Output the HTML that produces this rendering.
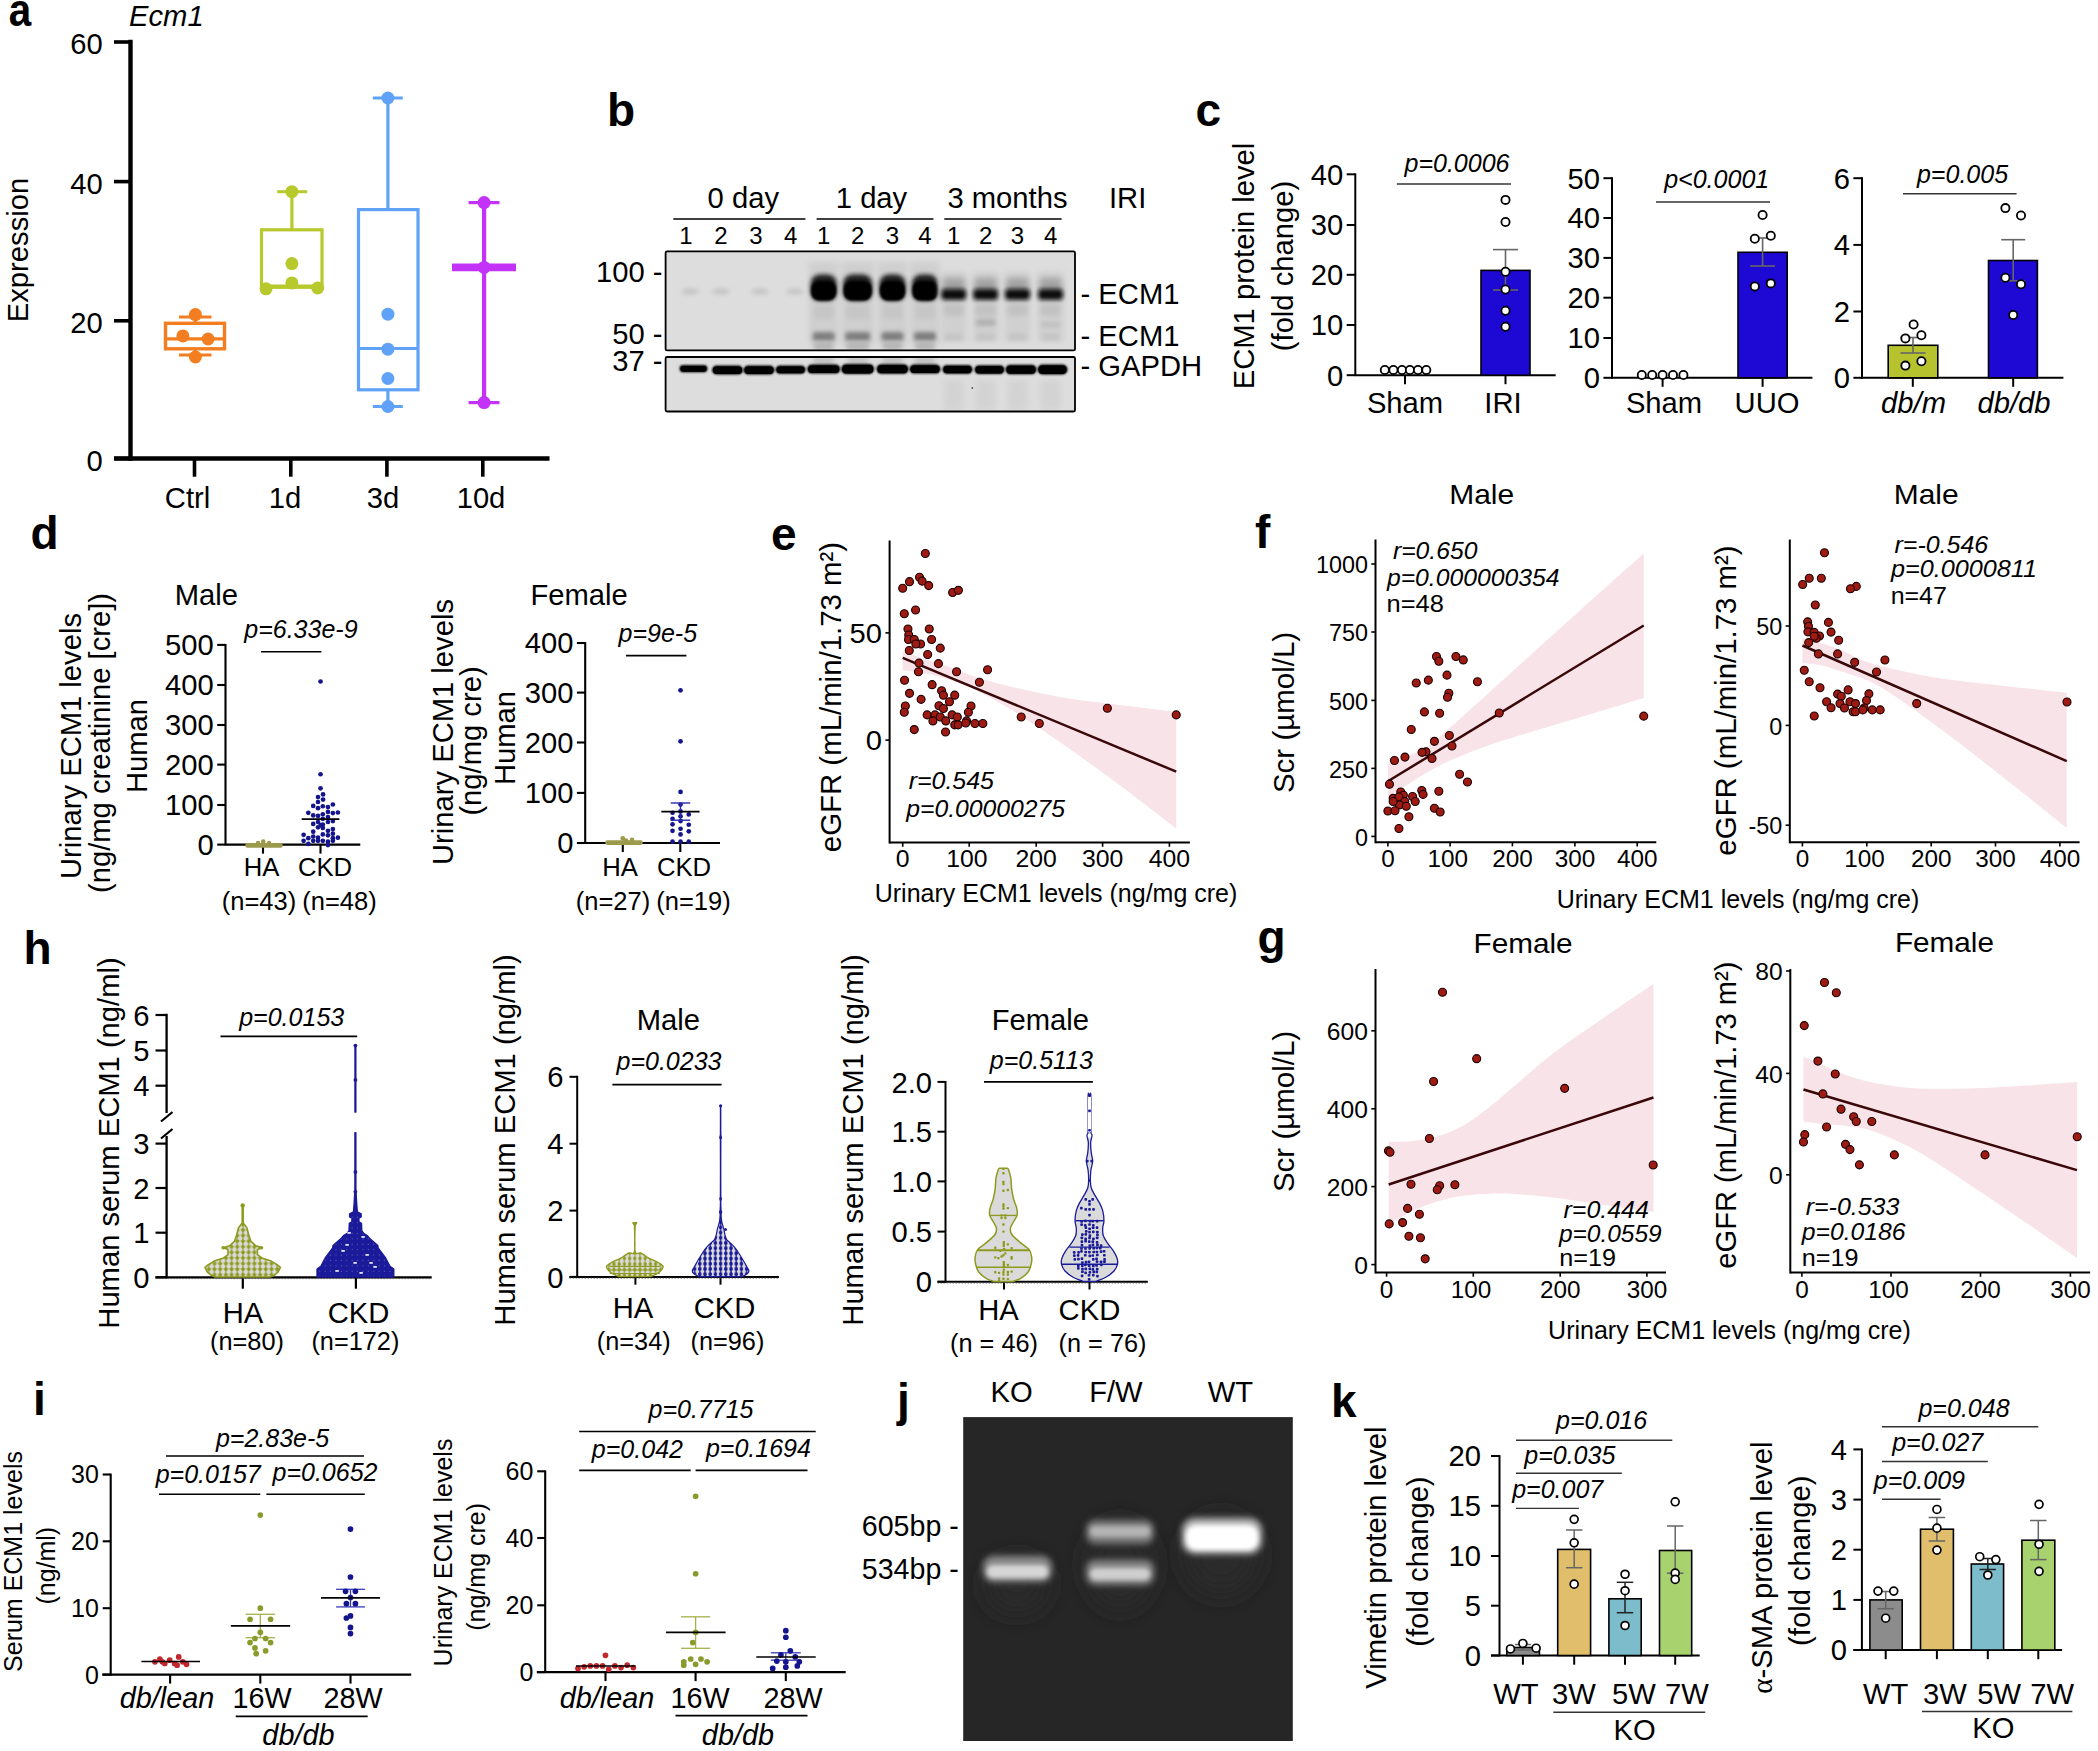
<!DOCTYPE html>
<html lang="en"><head><meta charset="utf-8"><title>Figure</title>
<style>
html,body{margin:0;padding:0;background:#fff;}
body{width:2098px;height:1751px;overflow:hidden;}
svg{display:block;font-family:"Liberation Sans",sans-serif;}
svg text{fill:#000;}
</style></head><body>
<svg width="2098" height="1751" viewBox="0 0 2098 1751">
<rect width="2098" height="1751" fill="#fff"/>
<text transform="translate(8.79 26.4) scale(0.86 1)" font-size="47" text-anchor="start" font-weight="bold">a</text>
<text transform="translate(129 26)" font-size="29.2" text-anchor="start" font-style="italic">Ecm1</text>
<line x1="130.5" y1="39.8" x2="130.5" y2="460.7" stroke="#000" stroke-width="4.4" stroke-linecap="butt" />
<line x1="114" y1="458.5" x2="549.5" y2="458.5" stroke="#000" stroke-width="4.4" stroke-linecap="butt" />
<line x1="114" y1="42" x2="130.5" y2="42" stroke="#000" stroke-width="3.6" stroke-linecap="butt" />
<text transform="translate(102.8 54.26)" font-size="29.2" text-anchor="end">60</text>
<line x1="114" y1="181.6" x2="130.5" y2="181.6" stroke="#000" stroke-width="3.6" stroke-linecap="butt" />
<text transform="translate(102.8 193.86)" font-size="29.2" text-anchor="end">40</text>
<line x1="114" y1="320.8" x2="130.5" y2="320.8" stroke="#000" stroke-width="3.6" stroke-linecap="butt" />
<text transform="translate(102.8 333.06)" font-size="29.2" text-anchor="end">20</text>
<line x1="114" y1="458.5" x2="130.5" y2="458.5" stroke="#000" stroke-width="3.6" stroke-linecap="butt" />
<text transform="translate(102.8 470.76)" font-size="29.2" text-anchor="end">0</text>
<line x1="194.5" y1="458.5" x2="194.5" y2="476.7" stroke="#000" stroke-width="3.6" stroke-linecap="butt" />
<line x1="290.8" y1="458.5" x2="290.8" y2="476.7" stroke="#000" stroke-width="3.6" stroke-linecap="butt" />
<line x1="386.9" y1="458.5" x2="386.9" y2="476.7" stroke="#000" stroke-width="3.6" stroke-linecap="butt" />
<line x1="482.8" y1="458.5" x2="482.8" y2="476.7" stroke="#000" stroke-width="3.6" stroke-linecap="butt" />
<text transform="translate(187.5 507.7)" font-size="29.2" text-anchor="middle">Ctrl</text>
<text transform="translate(285 507.7)" font-size="29.2" text-anchor="middle">1d</text>
<text transform="translate(383 507.7)" font-size="29.2" text-anchor="middle">3d</text>
<text transform="translate(481 507.7)" font-size="29.2" text-anchor="middle">10d</text>
<text transform="translate(27.5 250) rotate(-90)" font-size="29.2" text-anchor="middle">Expression</text>
<rect x="165.5" y="323.3" width="59" height="25.5" fill="none" stroke="#F27E21" stroke-width="3.4" />
<line x1="165.5" y1="338.8" x2="224.5" y2="338.8" stroke="#F27E21" stroke-width="3.2" stroke-linecap="butt" />
<line x1="179" y1="317" x2="211.5" y2="317" stroke="#F27E21" stroke-width="3" stroke-linecap="butt" />
<line x1="179" y1="355" x2="211.5" y2="355" stroke="#F27E21" stroke-width="3" stroke-linecap="butt" />
<line x1="195.3" y1="317" x2="195.3" y2="323" stroke="#F27E21" stroke-width="3" stroke-linecap="butt" />
<line x1="195.3" y1="349" x2="195.3" y2="355" stroke="#F27E21" stroke-width="3" stroke-linecap="butt" />
<circle cx="195.4" cy="314.6" r="6.5" fill="#F27E21" stroke="none" stroke-width="0" />
<circle cx="182.9" cy="335.9" r="6.5" fill="#F27E21" stroke="none" stroke-width="0" />
<circle cx="208.1" cy="339" r="6.5" fill="#F27E21" stroke="none" stroke-width="0" />
<circle cx="195.4" cy="357" r="6.5" fill="#F27E21" stroke="none" stroke-width="0" />
<rect x="261.5" y="229.8" width="60.5" height="57.5" fill="none" stroke="#B7C92C" stroke-width="3.2" />
<line x1="261.5" y1="286" x2="322" y2="286" stroke="#B7C92C" stroke-width="3.2" stroke-linecap="butt" />
<line x1="291.9" y1="191.7" x2="291.9" y2="229.8" stroke="#B7C92C" stroke-width="3.2" stroke-linecap="butt" />
<line x1="277.2" y1="191.7" x2="307.2" y2="191.7" stroke="#B7C92C" stroke-width="3" stroke-linecap="butt" />
<circle cx="291.9" cy="191.7" r="6.5" fill="#B7C92C" stroke="none" stroke-width="0" />
<circle cx="291.9" cy="263.6" r="6.5" fill="#B7C92C" stroke="none" stroke-width="0" />
<circle cx="291.9" cy="282.9" r="6.5" fill="#B7C92C" stroke="none" stroke-width="0" />
<circle cx="266" cy="288.8" r="6.5" fill="#B7C92C" stroke="none" stroke-width="0" />
<circle cx="317.7" cy="288" r="6.5" fill="#B7C92C" stroke="none" stroke-width="0" />
<rect x="358.5" y="209.6" width="59.5" height="180.2" fill="none" stroke="#5FA2F7" stroke-width="3.2" />
<line x1="358.5" y1="348.5" x2="418" y2="348.5" stroke="#5FA2F7" stroke-width="3.2" stroke-linecap="butt" />
<line x1="387.9" y1="98" x2="387.9" y2="209.6" stroke="#5FA2F7" stroke-width="3.2" stroke-linecap="butt" />
<line x1="387.9" y1="389.8" x2="387.9" y2="406.5" stroke="#5FA2F7" stroke-width="3.2" stroke-linecap="butt" />
<line x1="372.8" y1="98" x2="402.8" y2="98" stroke="#5FA2F7" stroke-width="3" stroke-linecap="butt" />
<line x1="372.8" y1="406.5" x2="402.8" y2="406.5" stroke="#5FA2F7" stroke-width="3" stroke-linecap="butt" />
<circle cx="387.9" cy="98" r="6.5" fill="#5FA2F7" stroke="none" stroke-width="0" />
<circle cx="387.9" cy="314.2" r="6.5" fill="#5FA2F7" stroke="none" stroke-width="0" />
<circle cx="387.9" cy="349.2" r="6.5" fill="#5FA2F7" stroke="none" stroke-width="0" />
<circle cx="387.9" cy="378.5" r="6.5" fill="#5FA2F7" stroke="none" stroke-width="0" />
<circle cx="387.9" cy="406.5" r="6.5" fill="#5FA2F7" stroke="none" stroke-width="0" />
<line x1="484.1" y1="202.6" x2="484.1" y2="402.6" stroke="#C233F7" stroke-width="4.2" stroke-linecap="butt" />
<line x1="452" y1="267.4" x2="516" y2="267.4" stroke="#C233F7" stroke-width="7.6" stroke-linecap="butt" />
<line x1="468.5" y1="202.6" x2="499.5" y2="202.6" stroke="#C233F7" stroke-width="3.2" stroke-linecap="butt" />
<line x1="468.5" y1="402.6" x2="499.5" y2="402.6" stroke="#C233F7" stroke-width="3.2" stroke-linecap="butt" />
<circle cx="484.1" cy="202.6" r="6.5" fill="#C233F7" stroke="none" stroke-width="0" />
<circle cx="484.1" cy="267.4" r="6.5" fill="#C233F7" stroke="none" stroke-width="0" />
<circle cx="484.1" cy="402.6" r="6.5" fill="#C233F7" stroke="none" stroke-width="0" />
<text transform="translate(607 125.8)" font-size="46" text-anchor="start" font-weight="bold">b</text>
<defs><filter id="bl1" x="-30%" y="-60%" width="160%" height="220%"><feGaussianBlur stdDeviation="2.2"/></filter><filter id="bl2" x="-30%" y="-60%" width="160%" height="220%"><feGaussianBlur stdDeviation="1.3"/></filter><filter id="bl3" x="-30%" y="-60%" width="160%" height="220%"><feGaussianBlur stdDeviation="3.2"/></filter><clipPath id="cb1"><rect x="666" y="252" width="409" height="98.5"/></clipPath><clipPath id="cb2"><rect x="666" y="357.5" width="409" height="54"/></clipPath></defs>
<text transform="translate(743.3 207.6)" font-size="29.2" text-anchor="middle">0 day</text>
<text transform="translate(871.5 207.6)" font-size="29.2" text-anchor="middle">1 day</text>
<text transform="translate(1007.5 207.6)" font-size="29.2" text-anchor="middle">3 months</text>
<text transform="translate(1109 207.6)" font-size="29.2" text-anchor="start">IRI</text>
<line x1="673.3" y1="219" x2="805.4" y2="219" stroke="#000" stroke-width="1.7" stroke-linecap="butt" />
<line x1="816.6" y1="219" x2="933.4" y2="219" stroke="#000" stroke-width="1.7" stroke-linecap="butt" />
<line x1="944.3" y1="219" x2="1061.6" y2="219" stroke="#000" stroke-width="1.7" stroke-linecap="butt" />
<text transform="translate(686 244.2)" font-size="24" text-anchor="middle">1</text>
<text transform="translate(721 244.2)" font-size="24" text-anchor="middle">2</text>
<text transform="translate(756 244.2)" font-size="24" text-anchor="middle">3</text>
<text transform="translate(790.6 244.2)" font-size="24" text-anchor="middle">4</text>
<text transform="translate(823.7 244.2)" font-size="24" text-anchor="middle">1</text>
<text transform="translate(857.7 244.2)" font-size="24" text-anchor="middle">2</text>
<text transform="translate(892.5 244.2)" font-size="24" text-anchor="middle">3</text>
<text transform="translate(925 244.2)" font-size="24" text-anchor="middle">4</text>
<text transform="translate(953.7 244.2)" font-size="24" text-anchor="middle">1</text>
<text transform="translate(985.6 244.2)" font-size="24" text-anchor="middle">2</text>
<text transform="translate(1017.5 244.2)" font-size="24" text-anchor="middle">3</text>
<text transform="translate(1050.6 244.2)" font-size="24" text-anchor="middle">4</text>
<rect x="665.6" y="251.4" width="409.4" height="99" fill="#dddddd" stroke="none" stroke-width="0" />
<g clip-path="url(#cb1)">
<ellipse cx="690" cy="291.5" rx="9" ry="3" fill="#c4c4c4" filter="url(#bl1)"/>
<ellipse cx="721" cy="291.5" rx="9" ry="3" fill="#c4c4c4" filter="url(#bl1)"/>
<ellipse cx="760" cy="291.5" rx="9" ry="3" fill="#c4c4c4" filter="url(#bl1)"/>
<ellipse cx="795" cy="291.5" rx="9" ry="3" fill="#c4c4c4" filter="url(#bl1)"/>
<rect x="808.7" y="262" width="30" height="82" fill="#cfcfcf" filter="url(#bl3)"/>
<rect x="841.2" y="262" width="33" height="82" fill="#cfcfcf" filter="url(#bl3)"/>
<rect x="877.5" y="262" width="30" height="82" fill="#cfcfcf" filter="url(#bl3)"/>
<rect x="910" y="262" width="30" height="82" fill="#cfcfcf" filter="url(#bl3)"/>
<rect x="810.7" y="274.5" width="26" height="26.5" rx="9" fill="#1a1a1a" filter="url(#bl1)"/>
<rect x="811.2" y="281" width="25" height="19.5" rx="8" fill="#000" filter="url(#bl2)"/>
<rect x="812.7" y="332" width="22" height="9" rx="3" fill="#7e7e7e" filter="url(#bl1)"/>
<rect x="813.7" y="342" width="20" height="8" rx="3" fill="#b5b5b5" filter="url(#bl1)"/>
<rect x="813.7" y="305" width="20" height="14" rx="3" fill="#c6c6c6" filter="url(#bl1)"/>
<rect x="843.2" y="274.5" width="29" height="26.5" rx="9" fill="#1a1a1a" filter="url(#bl1)"/>
<rect x="843.7" y="281" width="28" height="19.5" rx="8" fill="#000" filter="url(#bl2)"/>
<rect x="845.2" y="332" width="25" height="9" rx="3" fill="#7e7e7e" filter="url(#bl1)"/>
<rect x="846.2" y="342" width="23" height="8" rx="3" fill="#b5b5b5" filter="url(#bl1)"/>
<rect x="846.2" y="305" width="23" height="14" rx="3" fill="#c6c6c6" filter="url(#bl1)"/>
<rect x="879.5" y="274.5" width="26" height="26.5" rx="9" fill="#1a1a1a" filter="url(#bl1)"/>
<rect x="880" y="281" width="25" height="19.5" rx="8" fill="#000" filter="url(#bl2)"/>
<rect x="881.5" y="332" width="22" height="9" rx="3" fill="#7e7e7e" filter="url(#bl1)"/>
<rect x="882.5" y="342" width="20" height="8" rx="3" fill="#b5b5b5" filter="url(#bl1)"/>
<rect x="882.5" y="305" width="20" height="14" rx="3" fill="#c6c6c6" filter="url(#bl1)"/>
<rect x="912" y="274.5" width="26" height="26.5" rx="9" fill="#1a1a1a" filter="url(#bl1)"/>
<rect x="912.5" y="281" width="25" height="19.5" rx="8" fill="#000" filter="url(#bl2)"/>
<rect x="914" y="332" width="22" height="9" rx="3" fill="#7e7e7e" filter="url(#bl1)"/>
<rect x="915" y="342" width="20" height="8" rx="3" fill="#b5b5b5" filter="url(#bl1)"/>
<rect x="915" y="305" width="20" height="14" rx="3" fill="#c6c6c6" filter="url(#bl1)"/>
<rect x="940.7" y="272" width="26" height="70" fill="#d0d0d0" filter="url(#bl3)"/>
<rect x="942.7" y="278" width="22" height="16" rx="4" fill="#a2a2a2" filter="url(#bl3)"/>
<rect x="941.2" y="289" width="25" height="11" rx="4" fill="#0a0a0a" filter="url(#bl1)"/>
<rect x="943.7" y="304" width="20" height="12" rx="3" fill="#c2c2c2" filter="url(#bl1)"/>
<rect x="944.7" y="334" width="18" height="6" rx="3" fill="#c3c3c3" filter="url(#bl1)"/>
<rect x="972.6" y="272" width="26" height="70" fill="#d0d0d0" filter="url(#bl3)"/>
<rect x="974.6" y="278" width="22" height="16" rx="4" fill="#a2a2a2" filter="url(#bl3)"/>
<rect x="973.1" y="289" width="25" height="11" rx="4" fill="#0a0a0a" filter="url(#bl1)"/>
<rect x="975.6" y="304" width="20" height="12" rx="3" fill="#c2c2c2" filter="url(#bl1)"/>
<rect x="976.6" y="334" width="18" height="6" rx="3" fill="#c3c3c3" filter="url(#bl1)"/>
<rect x="1004.5" y="272" width="26" height="70" fill="#d0d0d0" filter="url(#bl3)"/>
<rect x="1006.5" y="278" width="22" height="16" rx="4" fill="#a2a2a2" filter="url(#bl3)"/>
<rect x="1005" y="289" width="25" height="11" rx="4" fill="#0a0a0a" filter="url(#bl1)"/>
<rect x="1007.5" y="304" width="20" height="12" rx="3" fill="#c2c2c2" filter="url(#bl1)"/>
<rect x="1008.5" y="334" width="18" height="6" rx="3" fill="#c3c3c3" filter="url(#bl1)"/>
<rect x="1037.6" y="272" width="26" height="70" fill="#d0d0d0" filter="url(#bl3)"/>
<rect x="1039.6" y="278" width="22" height="16" rx="4" fill="#a2a2a2" filter="url(#bl3)"/>
<rect x="1038.1" y="289" width="25" height="11" rx="4" fill="#0a0a0a" filter="url(#bl1)"/>
<rect x="1040.6" y="304" width="20" height="12" rx="3" fill="#c2c2c2" filter="url(#bl1)"/>
<rect x="1041.6" y="334" width="18" height="6" rx="3" fill="#c3c3c3" filter="url(#bl1)"/>
<rect x="975.6" y="319" width="20" height="7" rx="3" fill="#b0b0b0" filter="url(#bl1)"/>
<rect x="1041" y="322" width="19" height="5" rx="2" fill="#bebebe" filter="url(#bl1)"/>
</g>
<rect x="665.6" y="251.4" width="409.4" height="99" fill="none" stroke="#000" stroke-width="1.8" rx="1.5"/>
<rect x="665.6" y="357" width="409.4" height="54.5" fill="#dddddd" stroke="none" stroke-width="0" />
<g clip-path="url(#cb2)">
<rect x="813.7" y="356" width="20" height="12" fill="#c4c4c4" filter="url(#bl1)"/>
<rect x="847.7" y="356" width="20" height="12" fill="#c4c4c4" filter="url(#bl1)"/>
<rect x="882.5" y="356" width="20" height="12" fill="#c4c4c4" filter="url(#bl1)"/>
<rect x="915" y="356" width="20" height="12" fill="#c4c4c4" filter="url(#bl1)"/>
<rect x="943.7" y="380" width="20" height="30" fill="#d3d3d3" filter="url(#bl3)"/>
<rect x="975.6" y="380" width="20" height="30" fill="#d3d3d3" filter="url(#bl3)"/>
<rect x="1007.5" y="380" width="20" height="30" fill="#d3d3d3" filter="url(#bl3)"/>
<rect x="1040.6" y="380" width="20" height="30" fill="#d3d3d3" filter="url(#bl3)"/>
<rect x="679.5" y="365" width="28" height="7.2" rx="3.6" fill="#000" filter="url(#bl2)"/>
<rect x="680.5" y="366" width="26" height="5.7" rx="2.6" fill="#000"/>
<rect x="712" y="365.6" width="31" height="8.8" rx="4.4" fill="#000" filter="url(#bl2)"/>
<rect x="713" y="366.6" width="29" height="7.3" rx="3.4" fill="#000"/>
<rect x="743.5" y="365.6" width="31" height="8.8" rx="4.4" fill="#000" filter="url(#bl2)"/>
<rect x="744.5" y="366.6" width="29" height="7.3" rx="3.4" fill="#000"/>
<rect x="775.6" y="365.4" width="30" height="8.4" rx="4.2" fill="#000" filter="url(#bl2)"/>
<rect x="776.6" y="366.4" width="28" height="6.9" rx="3.2" fill="#000"/>
<rect x="807.2" y="364.4" width="33" height="9.2" rx="4.6" fill="#000" filter="url(#bl2)"/>
<rect x="808.2" y="365.4" width="31" height="7.7" rx="3.6" fill="#000"/>
<rect x="841.2" y="364" width="33" height="10" rx="5" fill="#000" filter="url(#bl2)"/>
<rect x="842.2" y="365" width="31" height="8.5" rx="4" fill="#000"/>
<rect x="876.5" y="364.2" width="32" height="9.6" rx="4.8" fill="#000" filter="url(#bl2)"/>
<rect x="877.5" y="365.2" width="30" height="8.1" rx="3.8" fill="#000"/>
<rect x="909.5" y="364.4" width="31" height="9.2" rx="4.6" fill="#000" filter="url(#bl2)"/>
<rect x="910.5" y="365.4" width="29" height="7.7" rx="3.6" fill="#000"/>
<rect x="942.5" y="364.9" width="30" height="8.8" rx="4.4" fill="#000" filter="url(#bl2)"/>
<rect x="943.5" y="365.9" width="28" height="7.3" rx="3.4" fill="#000"/>
<rect x="974.5" y="365.2" width="30" height="8.8" rx="4.4" fill="#000" filter="url(#bl2)"/>
<rect x="975.5" y="366.2" width="28" height="7.3" rx="3.4" fill="#000"/>
<rect x="1005.5" y="364.7" width="31" height="9.6" rx="4.8" fill="#000" filter="url(#bl2)"/>
<rect x="1006.5" y="365.7" width="29" height="8.1" rx="3.8" fill="#000"/>
<rect x="1037.5" y="364.5" width="30" height="10" rx="5" fill="#000" filter="url(#bl2)"/>
<rect x="1038.5" y="365.5" width="28" height="8.5" rx="4" fill="#000"/>
<circle cx="972.3" cy="388" r="0.9" fill="#555" stroke="none" stroke-width="0" />
</g>
<rect x="665.6" y="357" width="409.4" height="54.5" fill="none" stroke="#000" stroke-width="1.8" rx="1.5"/>
<text transform="translate(662.5 282)" font-size="29.2" text-anchor="end">100 -</text>
<text transform="translate(662.5 343.5)" font-size="29.2" text-anchor="end">50 -</text>
<text transform="translate(662.5 371)" font-size="29.2" text-anchor="end">37 -</text>
<text transform="translate(1080.5 303.5)" font-size="29.2" text-anchor="start">- ECM1</text>
<text transform="translate(1080.5 345.5)" font-size="29.2" text-anchor="start">- ECM1</text>
<text transform="translate(1080.5 376)" font-size="29.2" text-anchor="start">- GAPDH</text>
<text transform="translate(1195.5 125.6)" font-size="46" text-anchor="start" font-weight="bold">c</text>
<text transform="translate(1254 266) rotate(-90)" font-size="29.2" text-anchor="middle">ECM1 protein level</text>
<text transform="translate(1293 266) rotate(-90)" font-size="29.2" text-anchor="middle">(fold change)</text>
<line x1="1355.3" y1="173.4" x2="1355.3" y2="376.1" stroke="#000" stroke-width="2" stroke-linecap="butt" />
<line x1="1355.3" y1="375.2" x2="1555.7" y2="375.2" stroke="#000" stroke-width="2" stroke-linecap="butt" />
<line x1="1346.7" y1="174.3" x2="1355.3" y2="174.3" stroke="#000" stroke-width="2" stroke-linecap="butt" />
<text transform="translate(1343.3 184.75)" font-size="29.2" text-anchor="end">40</text>
<line x1="1346.7" y1="225" x2="1355.3" y2="225" stroke="#000" stroke-width="2" stroke-linecap="butt" />
<text transform="translate(1343.3 235.45)" font-size="29.2" text-anchor="end">30</text>
<line x1="1346.7" y1="274.8" x2="1355.3" y2="274.8" stroke="#000" stroke-width="2" stroke-linecap="butt" />
<text transform="translate(1343.3 285.25)" font-size="29.2" text-anchor="end">20</text>
<line x1="1346.7" y1="325" x2="1355.3" y2="325" stroke="#000" stroke-width="2" stroke-linecap="butt" />
<text transform="translate(1343.3 335.45)" font-size="29.2" text-anchor="end">10</text>
<line x1="1346.7" y1="375.2" x2="1355.3" y2="375.2" stroke="#000" stroke-width="2" stroke-linecap="butt" />
<text transform="translate(1343.3 385.65)" font-size="29.2" text-anchor="end">0</text>
<line x1="1405" y1="375.2" x2="1405" y2="384.2" stroke="#000" stroke-width="2" stroke-linecap="butt" />
<line x1="1505.5" y1="375.2" x2="1505.5" y2="384.2" stroke="#000" stroke-width="2" stroke-linecap="butt" />
<rect x="1481" y="270.4" width="49" height="104.8" fill="#1D08D4" stroke="#000" stroke-width="1.6" />
<line x1="1505.5" y1="249.6" x2="1505.5" y2="290" stroke="#666" stroke-width="1.6" stroke-linecap="butt" />
<line x1="1493" y1="249.6" x2="1518" y2="249.6" stroke="#666" stroke-width="1.6" stroke-linecap="butt" />
<line x1="1493" y1="290" x2="1518" y2="290" stroke="#666" stroke-width="1.6" stroke-linecap="butt" />
<circle cx="1505.5" cy="199.9" r="4.1" fill="#fff" stroke="#000" stroke-width="1.8" />
<circle cx="1505.5" cy="222" r="4.1" fill="#fff" stroke="#000" stroke-width="1.8" />
<circle cx="1505.5" cy="271.7" r="4.1" fill="#fff" stroke="#000" stroke-width="1.8" />
<circle cx="1505.5" cy="289.5" r="4.1" fill="#fff" stroke="#000" stroke-width="1.8" />
<circle cx="1505.5" cy="310.7" r="4.1" fill="#fff" stroke="#000" stroke-width="1.8" />
<circle cx="1505.5" cy="326.7" r="4.1" fill="#fff" stroke="#000" stroke-width="1.8" />
<circle cx="1384.8" cy="370" r="4.1" fill="#fff" stroke="#000" stroke-width="1.8" />
<circle cx="1393.4" cy="370" r="4.1" fill="#fff" stroke="#000" stroke-width="1.8" />
<circle cx="1402" cy="370" r="4.1" fill="#fff" stroke="#000" stroke-width="1.8" />
<circle cx="1409.9" cy="370" r="4.1" fill="#fff" stroke="#000" stroke-width="1.8" />
<circle cx="1418" cy="370" r="4.1" fill="#fff" stroke="#000" stroke-width="1.8" />
<circle cx="1426.3" cy="370" r="4.1" fill="#fff" stroke="#000" stroke-width="1.8" />
<text transform="translate(1457 171.8)" font-size="25" text-anchor="middle" font-style="italic">p=0.0006</text>
<line x1="1396.9" y1="183.9" x2="1511" y2="183.9" stroke="#333" stroke-width="1.5" stroke-linecap="butt" />
<text transform="translate(1405 413.3)" font-size="29.2" text-anchor="middle">Sham</text>
<text transform="translate(1503 413.3)" font-size="29.2" text-anchor="middle">IRI</text>
<line x1="1612" y1="177.3" x2="1612" y2="378.7" stroke="#000" stroke-width="2" stroke-linecap="butt" />
<line x1="1612" y1="377.8" x2="1812.4" y2="377.8" stroke="#000" stroke-width="2" stroke-linecap="butt" />
<line x1="1603.4" y1="178.2" x2="1612" y2="178.2" stroke="#000" stroke-width="2" stroke-linecap="butt" />
<text transform="translate(1600 188.65)" font-size="29.2" text-anchor="end">50</text>
<line x1="1603.4" y1="218" x2="1612" y2="218" stroke="#000" stroke-width="2" stroke-linecap="butt" />
<text transform="translate(1600 228.45)" font-size="29.2" text-anchor="end">40</text>
<line x1="1603.4" y1="257.9" x2="1612" y2="257.9" stroke="#000" stroke-width="2" stroke-linecap="butt" />
<text transform="translate(1600 268.35)" font-size="29.2" text-anchor="end">30</text>
<line x1="1603.4" y1="297.7" x2="1612" y2="297.7" stroke="#000" stroke-width="2" stroke-linecap="butt" />
<text transform="translate(1600 308.15)" font-size="29.2" text-anchor="end">20</text>
<line x1="1603.4" y1="338" x2="1612" y2="338" stroke="#000" stroke-width="2" stroke-linecap="butt" />
<text transform="translate(1600 348.45)" font-size="29.2" text-anchor="end">10</text>
<line x1="1603.4" y1="377.8" x2="1612" y2="377.8" stroke="#000" stroke-width="2" stroke-linecap="butt" />
<text transform="translate(1600 388.25)" font-size="29.2" text-anchor="end">0</text>
<line x1="1662.6" y1="377.8" x2="1662.6" y2="386.8" stroke="#000" stroke-width="2" stroke-linecap="butt" />
<line x1="1762.6" y1="377.8" x2="1762.6" y2="386.8" stroke="#000" stroke-width="2" stroke-linecap="butt" />
<rect x="1738" y="252.3" width="49.2" height="125.5" fill="#1D08D4" stroke="#000" stroke-width="1.6" />
<line x1="1762.6" y1="238" x2="1762.6" y2="266" stroke="#666" stroke-width="1.6" stroke-linecap="butt" />
<line x1="1750.1" y1="238" x2="1775.1" y2="238" stroke="#666" stroke-width="1.6" stroke-linecap="butt" />
<line x1="1750.1" y1="266" x2="1775.1" y2="266" stroke="#666" stroke-width="1.6" stroke-linecap="butt" />
<circle cx="1762.6" cy="215" r="4.1" fill="#fff" stroke="#000" stroke-width="1.8" />
<circle cx="1754.8" cy="238.8" r="4.1" fill="#fff" stroke="#000" stroke-width="1.8" />
<circle cx="1770.8" cy="235.8" r="4.1" fill="#fff" stroke="#000" stroke-width="1.8" />
<circle cx="1754.8" cy="286.4" r="4.1" fill="#fff" stroke="#000" stroke-width="1.8" />
<circle cx="1770.8" cy="283.4" r="4.1" fill="#fff" stroke="#000" stroke-width="1.8" />
<circle cx="1641.8" cy="375" r="4.1" fill="#fff" stroke="#000" stroke-width="1.8" />
<circle cx="1652.2" cy="375" r="4.1" fill="#fff" stroke="#000" stroke-width="1.8" />
<circle cx="1662.6" cy="375" r="4.1" fill="#fff" stroke="#000" stroke-width="1.8" />
<circle cx="1673" cy="375" r="4.1" fill="#fff" stroke="#000" stroke-width="1.8" />
<circle cx="1683.4" cy="375" r="4.1" fill="#fff" stroke="#000" stroke-width="1.8" />
<text transform="translate(1716.7 188)" font-size="25" text-anchor="middle" font-style="italic">p&lt;0.0001</text>
<line x1="1656" y1="202" x2="1770" y2="202" stroke="#333" stroke-width="1.5" stroke-linecap="butt" />
<text transform="translate(1664 413.3)" font-size="29.2" text-anchor="middle">Sham</text>
<text transform="translate(1767 413.3)" font-size="29.2" text-anchor="middle">UUO</text>
<line x1="1862" y1="177.3" x2="1862" y2="378.7" stroke="#000" stroke-width="2" stroke-linecap="butt" />
<line x1="1862" y1="377.8" x2="2063.4" y2="377.8" stroke="#000" stroke-width="2" stroke-linecap="butt" />
<line x1="1853.4" y1="178.2" x2="1862" y2="178.2" stroke="#000" stroke-width="2" stroke-linecap="butt" />
<text transform="translate(1850 188.65)" font-size="29.2" text-anchor="end">6</text>
<line x1="1853.4" y1="244.9" x2="1862" y2="244.9" stroke="#000" stroke-width="2" stroke-linecap="butt" />
<text transform="translate(1850 255.35)" font-size="29.2" text-anchor="end">4</text>
<line x1="1853.4" y1="311.5" x2="1862" y2="311.5" stroke="#000" stroke-width="2" stroke-linecap="butt" />
<text transform="translate(1850 321.95)" font-size="29.2" text-anchor="end">2</text>
<line x1="1853.4" y1="377.8" x2="1862" y2="377.8" stroke="#000" stroke-width="2" stroke-linecap="butt" />
<text transform="translate(1850 388.25)" font-size="29.2" text-anchor="end">0</text>
<line x1="1912.8" y1="377.8" x2="1912.8" y2="386.8" stroke="#000" stroke-width="2" stroke-linecap="butt" />
<line x1="2013.2" y1="377.8" x2="2013.2" y2="386.8" stroke="#000" stroke-width="2" stroke-linecap="butt" />
<rect x="1888.2" y="345.3" width="49.6" height="32.5" fill="#B7C22F" stroke="#000" stroke-width="1.6" />
<line x1="1913" y1="337.5" x2="1913" y2="353" stroke="#666" stroke-width="1.6" stroke-linecap="butt" />
<line x1="1900.5" y1="337.5" x2="1925.5" y2="337.5" stroke="#666" stroke-width="1.6" stroke-linecap="butt" />
<line x1="1900.5" y1="353" x2="1925.5" y2="353" stroke="#666" stroke-width="1.6" stroke-linecap="butt" />
<rect x="1988.5" y="260.5" width="48.9" height="117.3" fill="#1D08D4" stroke="#000" stroke-width="1.6" />
<line x1="2013.2" y1="239.7" x2="2013.2" y2="280.8" stroke="#666" stroke-width="1.6" stroke-linecap="butt" />
<line x1="2001.2" y1="239.7" x2="2025.2" y2="239.7" stroke="#666" stroke-width="1.6" stroke-linecap="butt" />
<line x1="2001.2" y1="280.8" x2="2025.2" y2="280.8" stroke="#666" stroke-width="1.6" stroke-linecap="butt" />
<circle cx="1913.6" cy="324.5" r="4.1" fill="#fff" stroke="#000" stroke-width="1.8" />
<circle cx="1905.4" cy="338.4" r="4.1" fill="#fff" stroke="#000" stroke-width="1.8" />
<circle cx="1921.4" cy="335.3" r="4.1" fill="#fff" stroke="#000" stroke-width="1.8" />
<circle cx="1905.4" cy="365.6" r="4.1" fill="#fff" stroke="#000" stroke-width="1.8" />
<circle cx="1921.4" cy="361.3" r="4.1" fill="#fff" stroke="#000" stroke-width="1.8" />
<circle cx="2005.4" cy="208.1" r="4.1" fill="#fff" stroke="#000" stroke-width="1.8" />
<circle cx="2021" cy="215.5" r="4.1" fill="#fff" stroke="#000" stroke-width="1.8" />
<circle cx="2005.4" cy="277.8" r="4.1" fill="#fff" stroke="#000" stroke-width="1.8" />
<circle cx="2021" cy="284.3" r="4.1" fill="#fff" stroke="#000" stroke-width="1.8" />
<circle cx="2013.2" cy="315" r="4.1" fill="#fff" stroke="#000" stroke-width="1.8" />
<text transform="translate(1962.5 182.6)" font-size="25" text-anchor="middle" font-style="italic">p=0.005</text>
<line x1="1903" y1="193.8" x2="2016.6" y2="193.8" stroke="#333" stroke-width="1.5" stroke-linecap="butt" />
<text transform="translate(1913.5 413.3)" font-size="29.2" text-anchor="middle" font-style="italic">db/m</text>
<text transform="translate(2014 413.3)" font-size="29.2" text-anchor="middle" font-style="italic">db/db</text>
<text transform="translate(30.5 548.8)" font-size="46" text-anchor="start" font-weight="bold">d</text>
<text transform="translate(174.8 605)" font-size="29.2" text-anchor="start">Male</text>
<text transform="translate(81 746) rotate(-90)" font-size="29.2" text-anchor="middle">Urinary ECM1 levels</text>
<text transform="translate(110 743) rotate(-90)" font-size="29.2" text-anchor="middle">(ng/mg creatinine [cre])</text>
<text transform="translate(147 746) rotate(-90)" font-size="29.2" text-anchor="middle">Human</text>
<line x1="225.5" y1="644" x2="225.5" y2="845.5" stroke="#000" stroke-width="2.1" stroke-linecap="butt" />
<line x1="225.5" y1="844.6" x2="360.3" y2="844.6" stroke="#000" stroke-width="2.1" stroke-linecap="butt" />
<line x1="217.2" y1="644.9" x2="225.5" y2="644.9" stroke="#000" stroke-width="2.1" stroke-linecap="butt" />
<text transform="translate(213.7 655.35)" font-size="29.2" text-anchor="end">500</text>
<line x1="217.2" y1="685" x2="225.5" y2="685" stroke="#000" stroke-width="2.1" stroke-linecap="butt" />
<text transform="translate(213.7 695.45)" font-size="29.2" text-anchor="end">400</text>
<line x1="217.2" y1="725" x2="225.5" y2="725" stroke="#000" stroke-width="2.1" stroke-linecap="butt" />
<text transform="translate(213.7 735.45)" font-size="29.2" text-anchor="end">300</text>
<line x1="217.2" y1="764.6" x2="225.5" y2="764.6" stroke="#000" stroke-width="2.1" stroke-linecap="butt" />
<text transform="translate(213.7 775.05)" font-size="29.2" text-anchor="end">200</text>
<line x1="217.2" y1="805" x2="225.5" y2="805" stroke="#000" stroke-width="2.1" stroke-linecap="butt" />
<text transform="translate(213.7 815.45)" font-size="29.2" text-anchor="end">100</text>
<line x1="217.2" y1="844.6" x2="225.5" y2="844.6" stroke="#000" stroke-width="2.1" stroke-linecap="butt" />
<text transform="translate(213.7 855.05)" font-size="29.2" text-anchor="end">0</text>
<line x1="263" y1="844.6" x2="263" y2="853.6" stroke="#000" stroke-width="2.1" stroke-linecap="butt" />
<line x1="320.5" y1="844.6" x2="320.5" y2="853.6" stroke="#000" stroke-width="2.1" stroke-linecap="butt" />
<text transform="translate(300.9 638)" font-size="25" text-anchor="middle" font-style="italic">p=6.33e-9</text>
<line x1="261" y1="651.8" x2="321.4" y2="651.8" stroke="#000" stroke-width="1.6" stroke-linecap="butt" />
<text transform="translate(261.5 875.6)" font-size="25.7" text-anchor="middle">HA</text>
<text transform="translate(325 875.6)" font-size="25.7" text-anchor="middle">CKD</text>
<text transform="translate(259 910)" font-size="25.5" text-anchor="middle">(n=43)</text>
<text transform="translate(339.5 910)" font-size="25.5" text-anchor="middle">(n=48)</text>
<line x1="247.5" y1="845.4" x2="280.5" y2="845.4" stroke="#9C9A4C" stroke-width="4.6" stroke-linecap="round" />
<circle cx="263.2" cy="841.6" r="2.3" fill="#9C9A4C" stroke="none" stroke-width="0" />
<circle cx="258" cy="843" r="2.2" fill="#9C9A4C" stroke="none" stroke-width="0" />
<circle cx="269" cy="843" r="2.2" fill="#9C9A4C" stroke="none" stroke-width="0" />
<circle cx="320.54" cy="681.48" r="2.35" fill="#14148C" stroke="none" stroke-width="0" />
<circle cx="320.54" cy="774.25" r="2.35" fill="#14148C" stroke="none" stroke-width="0" />
<circle cx="320.54" cy="788.3" r="2.35" fill="#14148C" stroke="none" stroke-width="0" />
<circle cx="323.05" cy="794.47" r="2.35" fill="#14148C" stroke="none" stroke-width="0" />
<circle cx="318.02" cy="797.1" r="2.35" fill="#14148C" stroke="none" stroke-width="0" />
<circle cx="323.05" cy="799.61" r="2.35" fill="#14148C" stroke="none" stroke-width="0" />
<circle cx="318.02" cy="802.01" r="2.35" fill="#14148C" stroke="none" stroke-width="0" />
<circle cx="332.88" cy="804.52" r="2.35" fill="#14148C" stroke="none" stroke-width="0" />
<circle cx="313.23" cy="805.89" r="2.35" fill="#14148C" stroke="none" stroke-width="0" />
<circle cx="322.82" cy="806.24" r="2.35" fill="#14148C" stroke="none" stroke-width="0" />
<circle cx="327.96" cy="807.04" r="2.35" fill="#14148C" stroke="none" stroke-width="0" />
<circle cx="318.02" cy="808.18" r="2.35" fill="#14148C" stroke="none" stroke-width="0" />
<circle cx="308.31" cy="812.86" r="2.35" fill="#14148C" stroke="none" stroke-width="0" />
<circle cx="327.96" cy="811.95" r="2.35" fill="#14148C" stroke="none" stroke-width="0" />
<circle cx="332.88" cy="813.09" r="2.35" fill="#14148C" stroke="none" stroke-width="0" />
<circle cx="337.9" cy="812.52" r="2.35" fill="#14148C" stroke="none" stroke-width="0" />
<circle cx="322.82" cy="814.23" r="2.35" fill="#14148C" stroke="none" stroke-width="0" />
<circle cx="313.23" cy="815.38" r="2.35" fill="#14148C" stroke="none" stroke-width="0" />
<circle cx="318.02" cy="815.95" r="2.35" fill="#14148C" stroke="none" stroke-width="0" />
<circle cx="327.96" cy="817.09" r="2.35" fill="#14148C" stroke="none" stroke-width="0" />
<circle cx="322.82" cy="818.8" r="2.35" fill="#14148C" stroke="none" stroke-width="0" />
<circle cx="332.88" cy="821.09" r="2.35" fill="#14148C" stroke="none" stroke-width="0" />
<circle cx="318.02" cy="822" r="2.35" fill="#14148C" stroke="none" stroke-width="0" />
<circle cx="327.96" cy="822" r="2.35" fill="#14148C" stroke="none" stroke-width="0" />
<circle cx="313.23" cy="823.94" r="2.35" fill="#14148C" stroke="none" stroke-width="0" />
<circle cx="322.82" cy="824.52" r="2.35" fill="#14148C" stroke="none" stroke-width="0" />
<circle cx="320.54" cy="825.09" r="2.35" fill="#14148C" stroke="none" stroke-width="0" />
<circle cx="318.02" cy="827.37" r="2.35" fill="#14148C" stroke="none" stroke-width="0" />
<circle cx="322.82" cy="827.94" r="2.35" fill="#14148C" stroke="none" stroke-width="0" />
<circle cx="332.88" cy="829.08" r="2.35" fill="#14148C" stroke="none" stroke-width="0" />
<circle cx="327.96" cy="830.8" r="2.35" fill="#14148C" stroke="none" stroke-width="0" />
<circle cx="313.23" cy="831.71" r="2.35" fill="#14148C" stroke="none" stroke-width="0" />
<circle cx="332.88" cy="833.65" r="2.35" fill="#14148C" stroke="none" stroke-width="0" />
<circle cx="303.63" cy="834.8" r="2.35" fill="#14148C" stroke="none" stroke-width="0" />
<circle cx="322.82" cy="834.45" r="2.35" fill="#14148C" stroke="none" stroke-width="0" />
<circle cx="327.96" cy="835.37" r="2.35" fill="#14148C" stroke="none" stroke-width="0" />
<circle cx="313.23" cy="836.51" r="2.35" fill="#14148C" stroke="none" stroke-width="0" />
<circle cx="318.02" cy="837.65" r="2.35" fill="#14148C" stroke="none" stroke-width="0" />
<circle cx="337.9" cy="837.65" r="2.35" fill="#14148C" stroke="none" stroke-width="0" />
<circle cx="308.31" cy="838.22" r="2.35" fill="#14148C" stroke="none" stroke-width="0" />
<circle cx="332.88" cy="838.22" r="2.35" fill="#14148C" stroke="none" stroke-width="0" />
<circle cx="303.63" cy="840.85" r="2.35" fill="#14148C" stroke="none" stroke-width="0" />
<circle cx="313.23" cy="840.85" r="2.35" fill="#14148C" stroke="none" stroke-width="0" />
<circle cx="318.02" cy="840.85" r="2.35" fill="#14148C" stroke="none" stroke-width="0" />
<circle cx="322.82" cy="840.85" r="2.35" fill="#14148C" stroke="none" stroke-width="0" />
<circle cx="327.96" cy="841.65" r="2.35" fill="#14148C" stroke="none" stroke-width="0" />
<circle cx="332.88" cy="840.85" r="2.35" fill="#14148C" stroke="none" stroke-width="0" />
<circle cx="308.31" cy="843.94" r="2.35" fill="#14148C" stroke="none" stroke-width="0" />
<circle cx="327.96" cy="845.08" r="2.35" fill="#14148C" stroke="none" stroke-width="0" />
<line x1="301.7" y1="819.1" x2="339.4" y2="819.1" stroke="#000" stroke-width="1.7" stroke-linecap="butt" />
<text transform="translate(530.4 605)" font-size="29.2" text-anchor="start">Female</text>
<text transform="translate(452.6 732) rotate(-90)" font-size="29.2" text-anchor="middle">Urinary ECM1 levels</text>
<text transform="translate(481 741) rotate(-90)" font-size="29.2" text-anchor="middle">(ng/mg cre)</text>
<text transform="translate(514.8 738) rotate(-90)" font-size="29.2" text-anchor="middle">Human</text>
<line x1="585.2" y1="642.1" x2="585.2" y2="843.9" stroke="#000" stroke-width="2.1" stroke-linecap="butt" />
<line x1="585.2" y1="843" x2="720" y2="843" stroke="#000" stroke-width="2.1" stroke-linecap="butt" />
<line x1="576.9" y1="643" x2="585.2" y2="643" stroke="#000" stroke-width="2.1" stroke-linecap="butt" />
<text transform="translate(573.4 653.45)" font-size="29.2" text-anchor="end">400</text>
<line x1="576.9" y1="692.6" x2="585.2" y2="692.6" stroke="#000" stroke-width="2.1" stroke-linecap="butt" />
<text transform="translate(573.4 703.05)" font-size="29.2" text-anchor="end">300</text>
<line x1="576.9" y1="742.5" x2="585.2" y2="742.5" stroke="#000" stroke-width="2.1" stroke-linecap="butt" />
<text transform="translate(573.4 752.95)" font-size="29.2" text-anchor="end">200</text>
<line x1="576.9" y1="792.9" x2="585.2" y2="792.9" stroke="#000" stroke-width="2.1" stroke-linecap="butt" />
<text transform="translate(573.4 803.35)" font-size="29.2" text-anchor="end">100</text>
<line x1="576.9" y1="843" x2="585.2" y2="843" stroke="#000" stroke-width="2.1" stroke-linecap="butt" />
<text transform="translate(573.4 853.45)" font-size="29.2" text-anchor="end">0</text>
<line x1="622.8" y1="843" x2="622.8" y2="852" stroke="#000" stroke-width="2.1" stroke-linecap="butt" />
<line x1="680.3" y1="843" x2="680.3" y2="852" stroke="#000" stroke-width="2.1" stroke-linecap="butt" />
<text transform="translate(657.8 641.8)" font-size="25" text-anchor="middle" font-style="italic">p=9e-5</text>
<line x1="626" y1="655.6" x2="686.4" y2="655.6" stroke="#000" stroke-width="1.6" stroke-linecap="butt" />
<text transform="translate(620 875.6)" font-size="25.7" text-anchor="middle">HA</text>
<text transform="translate(684 875.6)" font-size="25.7" text-anchor="middle">CKD</text>
<text transform="translate(613 910)" font-size="25.5" text-anchor="middle">(n=27)</text>
<text transform="translate(693.5 910)" font-size="25.5" text-anchor="middle">(n=19)</text>
<line x1="607.5" y1="842.6" x2="640.5" y2="842.6" stroke="#9C9A4C" stroke-width="4.6" stroke-linecap="round" />
<circle cx="622.8" cy="838.3" r="2.4" fill="#9C9A4C" stroke="none" stroke-width="0" />
<circle cx="632" cy="839.8" r="2.3" fill="#9C9A4C" stroke="none" stroke-width="0" />
<circle cx="626" cy="840.5" r="2.3" fill="#9C9A4C" stroke="none" stroke-width="0" />
<circle cx="680.54" cy="690.28" r="2.35" fill="#14148C" stroke="none" stroke-width="0" />
<circle cx="680.54" cy="741.34" r="2.35" fill="#14148C" stroke="none" stroke-width="0" />
<circle cx="680.54" cy="791.95" r="2.35" fill="#14148C" stroke="none" stroke-width="0" />
<circle cx="680.54" cy="804.52" r="2.35" fill="#14148C" stroke="none" stroke-width="0" />
<circle cx="680.54" cy="811.38" r="2.35" fill="#14148C" stroke="none" stroke-width="0" />
<circle cx="672.54" cy="812.75" r="2.35" fill="#14148C" stroke="none" stroke-width="0" />
<circle cx="688.76" cy="814.46" r="2.35" fill="#14148C" stroke="none" stroke-width="0" />
<circle cx="680.54" cy="816.29" r="2.35" fill="#14148C" stroke="none" stroke-width="0" />
<circle cx="672.54" cy="818.8" r="2.35" fill="#14148C" stroke="none" stroke-width="0" />
<circle cx="680.54" cy="821.09" r="2.35" fill="#14148C" stroke="none" stroke-width="0" />
<circle cx="672.54" cy="824.29" r="2.35" fill="#14148C" stroke="none" stroke-width="0" />
<circle cx="688.76" cy="824.74" r="2.35" fill="#14148C" stroke="none" stroke-width="0" />
<circle cx="680.54" cy="828.74" r="2.35" fill="#14148C" stroke="none" stroke-width="0" />
<circle cx="672.54" cy="830.8" r="2.35" fill="#14148C" stroke="none" stroke-width="0" />
<circle cx="688.76" cy="831.37" r="2.35" fill="#14148C" stroke="none" stroke-width="0" />
<circle cx="680.54" cy="834.45" r="2.35" fill="#14148C" stroke="none" stroke-width="0" />
<circle cx="672.54" cy="841.65" r="2.35" fill="#14148C" stroke="none" stroke-width="0" />
<circle cx="680.54" cy="841.65" r="2.35" fill="#14148C" stroke="none" stroke-width="0" />
<circle cx="688.76" cy="841.65" r="2.35" fill="#14148C" stroke="none" stroke-width="0" />
<line x1="680.5" y1="803" x2="680.5" y2="820.2" stroke="#2A2AAE" stroke-width="1.4" stroke-linecap="butt" />
<line x1="670.75" y1="803" x2="690.25" y2="803" stroke="#2A2AAE" stroke-width="1.4" stroke-linecap="butt" />
<line x1="670.75" y1="820.2" x2="690.25" y2="820.2" stroke="#2A2AAE" stroke-width="1.4" stroke-linecap="butt" />
<line x1="661.3" y1="811.6" x2="699.6" y2="811.6" stroke="#000" stroke-width="1.8" stroke-linecap="butt" />
<text transform="translate(771 550)" font-size="46" text-anchor="start" font-weight="bold">e</text>
<path d="M902.7 651.29 C906.77 652.69 919.12 656.99 927.14 659.7 C935.15 662.42 942.46 664.61 950.78 667.58 C959.1 670.56 966.11 674.15 977.06 677.57 C988 680.98 1001.14 684.57 1016.47 688.08 C1031.8 691.58 1051.5 695.74 1069.02 698.59 C1086.53 701.43 1103.7 702.97 1121.57 705.16 C1139.43 707.34 1167.11 710.63 1176.22 711.72 L1176.22 828.64 C1167.11 821.64 1139.43 799.96 1121.57 786.61 C1103.7 773.25 1086.53 760.77 1069.02 748.51 C1051.5 736.25 1031.8 722.67 1016.47 713.04 C1001.14 703.4 988 696.18 977.06 690.7 C966.11 685.23 959.1 683.04 950.78 680.19 C942.46 677.35 935.15 675.29 927.14 673.63 C919.12 671.96 906.77 670.78 902.7 670.21Z" fill="#F7E3E8" stroke="none" stroke-width="0" />
<line x1="889.6" y1="540.4" x2="889.6" y2="843.6" stroke="#000" stroke-width="2" stroke-linecap="butt" />
<line x1="889.6" y1="842.6" x2="1189.9" y2="842.6" stroke="#000" stroke-width="2" stroke-linecap="butt" />
<line x1="885.4" y1="632.9" x2="889.6" y2="632.9" stroke="#000" stroke-width="1.6" stroke-linecap="butt" />
<text transform="translate(882 642.97) scale(1.08 1)" font-size="27" text-anchor="end">50</text>
<line x1="885.4" y1="740.1" x2="889.6" y2="740.1" stroke="#000" stroke-width="1.6" stroke-linecap="butt" />
<text transform="translate(882 750.17) scale(1.08 1)" font-size="27" text-anchor="end">0</text>
<line x1="902.7" y1="842.6" x2="902.7" y2="846.8" stroke="#000" stroke-width="1.6" stroke-linecap="butt" />
<text transform="translate(902.7 867.2) scale(1.02 1)" font-size="24.3" text-anchor="middle">0</text>
<line x1="969.2" y1="842.6" x2="969.2" y2="846.8" stroke="#000" stroke-width="1.6" stroke-linecap="butt" />
<text transform="translate(966.8 867.2) scale(1.02 1)" font-size="24.3" text-anchor="middle">100</text>
<line x1="1036.2" y1="842.6" x2="1036.2" y2="846.8" stroke="#000" stroke-width="1.6" stroke-linecap="butt" />
<text transform="translate(1036.2 867.2) scale(1.02 1)" font-size="24.3" text-anchor="middle">200</text>
<line x1="1102.6" y1="842.6" x2="1102.6" y2="846.8" stroke="#000" stroke-width="1.6" stroke-linecap="butt" />
<text transform="translate(1102.6 867.2) scale(1.02 1)" font-size="24.3" text-anchor="middle">300</text>
<line x1="1169.4" y1="842.6" x2="1169.4" y2="846.8" stroke="#000" stroke-width="1.6" stroke-linecap="butt" />
<text transform="translate(1169.4 867.2) scale(1.02 1)" font-size="24.3" text-anchor="middle">400</text>
<line x1="902.7" y1="657.86" x2="1176.22" y2="771.63" stroke="#3A0808" stroke-width="2.5" stroke-linecap="butt" />
<circle cx="925.3" cy="553.55" r="4" fill="#9E1B14" stroke="#1a0000" stroke-width="1.1" />
<circle cx="909.53" cy="581.67" r="4" fill="#9E1B14" stroke="#1a0000" stroke-width="1.1" />
<circle cx="919.52" cy="577.2" r="4" fill="#9E1B14" stroke="#1a0000" stroke-width="1.1" />
<circle cx="922.14" cy="581.14" r="4" fill="#9E1B14" stroke="#1a0000" stroke-width="1.1" />
<circle cx="928.71" cy="585.61" r="4" fill="#9E1B14" stroke="#1a0000" stroke-width="1.1" />
<circle cx="902.7" cy="588.23" r="4" fill="#9E1B14" stroke="#1a0000" stroke-width="1.1" />
<circle cx="952.62" cy="592.44" r="4" fill="#9E1B14" stroke="#1a0000" stroke-width="1.1" />
<circle cx="958.4" cy="590.34" r="4" fill="#9E1B14" stroke="#1a0000" stroke-width="1.1" />
<circle cx="915.58" cy="610.04" r="4" fill="#9E1B14" stroke="#1a0000" stroke-width="1.1" />
<circle cx="904.28" cy="613.72" r="4" fill="#9E1B14" stroke="#1a0000" stroke-width="1.1" />
<circle cx="907.96" cy="628.96" r="4" fill="#9E1B14" stroke="#1a0000" stroke-width="1.1" />
<circle cx="929.24" cy="628.96" r="4" fill="#9E1B14" stroke="#1a0000" stroke-width="1.1" />
<circle cx="908.74" cy="635" r="4" fill="#9E1B14" stroke="#1a0000" stroke-width="1.1" />
<circle cx="908.48" cy="639.47" r="4" fill="#9E1B14" stroke="#1a0000" stroke-width="1.1" />
<circle cx="914.26" cy="639.47" r="4" fill="#9E1B14" stroke="#1a0000" stroke-width="1.1" />
<circle cx="920.57" cy="643.94" r="4" fill="#9E1B14" stroke="#1a0000" stroke-width="1.1" />
<circle cx="915.84" cy="643.94" r="4" fill="#9E1B14" stroke="#1a0000" stroke-width="1.1" />
<circle cx="931.6" cy="639.47" r="4" fill="#9E1B14" stroke="#1a0000" stroke-width="1.1" />
<circle cx="940.27" cy="648.14" r="4" fill="#9E1B14" stroke="#1a0000" stroke-width="1.1" />
<circle cx="909.27" cy="650.5" r="4" fill="#9E1B14" stroke="#1a0000" stroke-width="1.1" />
<circle cx="927.66" cy="654.45" r="4" fill="#9E1B14" stroke="#1a0000" stroke-width="1.1" />
<circle cx="918.99" cy="663.12" r="4" fill="#9E1B14" stroke="#1a0000" stroke-width="1.1" />
<circle cx="938.43" cy="663.64" r="4" fill="#9E1B14" stroke="#1a0000" stroke-width="1.1" />
<circle cx="918.47" cy="671.79" r="4" fill="#9E1B14" stroke="#1a0000" stroke-width="1.1" />
<circle cx="956.56" cy="671.79" r="4" fill="#9E1B14" stroke="#1a0000" stroke-width="1.1" />
<circle cx="987.57" cy="669.68" r="4" fill="#9E1B14" stroke="#1a0000" stroke-width="1.1" />
<circle cx="904.54" cy="680.19" r="4" fill="#9E1B14" stroke="#1a0000" stroke-width="1.1" />
<circle cx="979.42" cy="682.3" r="4" fill="#9E1B14" stroke="#1a0000" stroke-width="1.1" />
<circle cx="932.13" cy="684.66" r="4" fill="#9E1B14" stroke="#1a0000" stroke-width="1.1" />
<circle cx="909.53" cy="693.33" r="4" fill="#9E1B14" stroke="#1a0000" stroke-width="1.1" />
<circle cx="941.59" cy="690.7" r="4" fill="#9E1B14" stroke="#1a0000" stroke-width="1.1" />
<circle cx="943.43" cy="695.17" r="4" fill="#9E1B14" stroke="#1a0000" stroke-width="1.1" />
<circle cx="954.72" cy="695.17" r="4" fill="#9E1B14" stroke="#1a0000" stroke-width="1.1" />
<circle cx="921.09" cy="699.37" r="4" fill="#9E1B14" stroke="#1a0000" stroke-width="1.1" />
<circle cx="949.47" cy="701.74" r="4" fill="#9E1B14" stroke="#1a0000" stroke-width="1.1" />
<circle cx="938.96" cy="705.68" r="4" fill="#9E1B14" stroke="#1a0000" stroke-width="1.1" />
<circle cx="905.33" cy="705.94" r="4" fill="#9E1B14" stroke="#1a0000" stroke-width="1.1" />
<circle cx="971.01" cy="705.94" r="4" fill="#9E1B14" stroke="#1a0000" stroke-width="1.1" />
<circle cx="943.43" cy="708.57" r="4" fill="#9E1B14" stroke="#1a0000" stroke-width="1.1" />
<circle cx="904.28" cy="712.25" r="4" fill="#9E1B14" stroke="#1a0000" stroke-width="1.1" />
<circle cx="968.39" cy="712.25" r="4" fill="#9E1B14" stroke="#1a0000" stroke-width="1.1" />
<circle cx="927.14" cy="714.88" r="4" fill="#9E1B14" stroke="#1a0000" stroke-width="1.1" />
<circle cx="935.02" cy="714.88" r="4" fill="#9E1B14" stroke="#1a0000" stroke-width="1.1" />
<circle cx="952.1" cy="714.88" r="4" fill="#9E1B14" stroke="#1a0000" stroke-width="1.1" />
<circle cx="940.27" cy="716.98" r="4" fill="#9E1B14" stroke="#1a0000" stroke-width="1.1" />
<circle cx="957.35" cy="716.98" r="4" fill="#9E1B14" stroke="#1a0000" stroke-width="1.1" />
<circle cx="932.92" cy="720.92" r="4" fill="#9E1B14" stroke="#1a0000" stroke-width="1.1" />
<circle cx="945.79" cy="720.92" r="4" fill="#9E1B14" stroke="#1a0000" stroke-width="1.1" />
<circle cx="966.55" cy="720.92" r="4" fill="#9E1B14" stroke="#1a0000" stroke-width="1.1" />
<circle cx="954.72" cy="724.86" r="4" fill="#9E1B14" stroke="#1a0000" stroke-width="1.1" />
<circle cx="958.14" cy="724.86" r="4" fill="#9E1B14" stroke="#1a0000" stroke-width="1.1" />
<circle cx="965.76" cy="723.02" r="4" fill="#9E1B14" stroke="#1a0000" stroke-width="1.1" />
<circle cx="974.96" cy="723.55" r="4" fill="#9E1B14" stroke="#1a0000" stroke-width="1.1" />
<circle cx="982.84" cy="723.55" r="4" fill="#9E1B14" stroke="#1a0000" stroke-width="1.1" />
<circle cx="914.26" cy="729.59" r="4" fill="#9E1B14" stroke="#1a0000" stroke-width="1.1" />
<circle cx="945.53" cy="731.95" r="4" fill="#9E1B14" stroke="#1a0000" stroke-width="1.1" />
<circle cx="1021.2" cy="716.98" r="4" fill="#9E1B14" stroke="#1a0000" stroke-width="1.1" />
<circle cx="1039.33" cy="723.55" r="4" fill="#9E1B14" stroke="#1a0000" stroke-width="1.1" />
<circle cx="1107.38" cy="708.31" r="4" fill="#9E1B14" stroke="#1a0000" stroke-width="1.1" />
<circle cx="1176.22" cy="714.88" r="4" fill="#9E1B14" stroke="#1a0000" stroke-width="1.1" />
<text transform="translate(841 698) rotate(-90) translate(-154.17 0) scale(0.98 1)" font-size="30">eGFR (mL/min/1.73 m²)</text>
<text transform="translate(874.72 902.3) scale(1 1)" font-size="25" text-anchor="start">Urinary ECM1 levels (ng/mg cre)</text>
<text transform="translate(908.63 788.7) scale(1.04 1)" font-size="24" text-anchor="start" font-style="italic">r=0.545</text>
<text transform="translate(906.3 816.8) scale(1.03 1)" font-size="24" text-anchor="start" font-style="italic">p=0.00000275</text>
<text transform="translate(1255 547.5)" font-size="46" text-anchor="start" font-weight="bold">f</text>
<path d="M1387.89 764.19 C1393.88 761.57 1413.5 754.56 1423.87 748.43 C1434.25 742.31 1437.01 738.8 1450.14 727.42 C1463.27 716.04 1485.16 695.9 1502.67 680.14 C1520.19 664.38 1537.7 648.62 1555.21 632.86 C1572.72 617.1 1592.99 598.8 1607.74 585.58 C1622.5 572.36 1637.73 558.87 1643.73 553.53 L1643.73 698 C1637.73 699.84 1622.5 704.57 1607.74 709.03 C1592.99 713.5 1572.72 719.54 1555.21 724.79 C1537.7 730.05 1518 735.52 1502.67 740.55 C1487.35 745.59 1474.22 750.62 1463.27 755 C1452.33 759.38 1445.76 762.22 1437.01 766.82 C1428.25 771.42 1418.92 777.55 1410.74 782.58 C1402.55 787.62 1391.69 794.62 1387.89 797.03Z" fill="#F7E3E8" stroke="none" stroke-width="0" />
<line x1="1375.5" y1="539.6" x2="1375.5" y2="843.2" stroke="#000" stroke-width="2" stroke-linecap="butt" />
<line x1="1375.5" y1="842.2" x2="1656.3" y2="842.2" stroke="#000" stroke-width="2" stroke-linecap="butt" />
<line x1="1371.3" y1="564" x2="1375.5" y2="564" stroke="#000" stroke-width="1.6" stroke-linecap="butt" />
<text transform="translate(1367.9 573.21) scale(0.95 1)" font-size="24.6" text-anchor="end">1000</text>
<line x1="1371.3" y1="632" x2="1375.5" y2="632" stroke="#000" stroke-width="1.6" stroke-linecap="butt" />
<text transform="translate(1367.9 641.21) scale(0.95 1)" font-size="24.6" text-anchor="end">750</text>
<line x1="1371.3" y1="700.4" x2="1375.5" y2="700.4" stroke="#000" stroke-width="1.6" stroke-linecap="butt" />
<text transform="translate(1367.9 709.61) scale(0.95 1)" font-size="24.6" text-anchor="end">500</text>
<line x1="1371.3" y1="768.4" x2="1375.5" y2="768.4" stroke="#000" stroke-width="1.6" stroke-linecap="butt" />
<text transform="translate(1367.9 777.61) scale(0.95 1)" font-size="24.6" text-anchor="end">250</text>
<line x1="1371.3" y1="836.4" x2="1375.5" y2="836.4" stroke="#000" stroke-width="1.6" stroke-linecap="butt" />
<text transform="translate(1367.9 845.61) scale(0.95 1)" font-size="24.6" text-anchor="end">0</text>
<line x1="1387.9" y1="842.2" x2="1387.9" y2="846.4" stroke="#000" stroke-width="1.6" stroke-linecap="butt" />
<text transform="translate(1387.9 867.2)" font-size="24.3" text-anchor="middle">0</text>
<line x1="1450.1" y1="842.2" x2="1450.1" y2="846.4" stroke="#000" stroke-width="1.6" stroke-linecap="butt" />
<text transform="translate(1447.7 867.2)" font-size="24.3" text-anchor="middle">100</text>
<line x1="1512.4" y1="842.2" x2="1512.4" y2="846.4" stroke="#000" stroke-width="1.6" stroke-linecap="butt" />
<text transform="translate(1512.4 867.2)" font-size="24.3" text-anchor="middle">200</text>
<line x1="1574.9" y1="842.2" x2="1574.9" y2="846.4" stroke="#000" stroke-width="1.6" stroke-linecap="butt" />
<text transform="translate(1574.9 867.2)" font-size="24.3" text-anchor="middle">300</text>
<line x1="1637.2" y1="842.2" x2="1637.2" y2="846.4" stroke="#000" stroke-width="1.6" stroke-linecap="butt" />
<text transform="translate(1637.2 867.2)" font-size="24.3" text-anchor="middle">400</text>
<line x1="1387.89" y1="781.27" x2="1643.73" y2="625.5" stroke="#3A0808" stroke-width="2.5" stroke-linecap="butt" />
<circle cx="1436.48" cy="656.5" r="4" fill="#9E1B14" stroke="#1a0000" stroke-width="1.1" />
<circle cx="1438.84" cy="661.23" r="4" fill="#9E1B14" stroke="#1a0000" stroke-width="1.1" />
<circle cx="1455.92" cy="656.5" r="4" fill="#9E1B14" stroke="#1a0000" stroke-width="1.1" />
<circle cx="1463.27" cy="659.91" r="4" fill="#9E1B14" stroke="#1a0000" stroke-width="1.1" />
<circle cx="1446.99" cy="675.15" r="4" fill="#9E1B14" stroke="#1a0000" stroke-width="1.1" />
<circle cx="1428.34" cy="680.14" r="4" fill="#9E1B14" stroke="#1a0000" stroke-width="1.1" />
<circle cx="1416.25" cy="683.03" r="4" fill="#9E1B14" stroke="#1a0000" stroke-width="1.1" />
<circle cx="1477.46" cy="681.72" r="4" fill="#9E1B14" stroke="#1a0000" stroke-width="1.1" />
<circle cx="1448.83" cy="693.27" r="4" fill="#9E1B14" stroke="#1a0000" stroke-width="1.1" />
<circle cx="1447.51" cy="697.21" r="4" fill="#9E1B14" stroke="#1a0000" stroke-width="1.1" />
<circle cx="1424.4" cy="711.92" r="4" fill="#9E1B14" stroke="#1a0000" stroke-width="1.1" />
<circle cx="1439.63" cy="713.24" r="4" fill="#9E1B14" stroke="#1a0000" stroke-width="1.1" />
<circle cx="1499.26" cy="712.97" r="4" fill="#9E1B14" stroke="#1a0000" stroke-width="1.1" />
<circle cx="1643.73" cy="716.13" r="4" fill="#9E1B14" stroke="#1a0000" stroke-width="1.1" />
<circle cx="1411.26" cy="729.52" r="4" fill="#9E1B14" stroke="#1a0000" stroke-width="1.1" />
<circle cx="1449.35" cy="735.56" r="4" fill="#9E1B14" stroke="#1a0000" stroke-width="1.1" />
<circle cx="1434.38" cy="741.34" r="4" fill="#9E1B14" stroke="#1a0000" stroke-width="1.1" />
<circle cx="1451.98" cy="746.07" r="4" fill="#9E1B14" stroke="#1a0000" stroke-width="1.1" />
<circle cx="1425.97" cy="751.85" r="4" fill="#9E1B14" stroke="#1a0000" stroke-width="1.1" />
<circle cx="1422.03" cy="752.37" r="4" fill="#9E1B14" stroke="#1a0000" stroke-width="1.1" />
<circle cx="1404.96" cy="757.1" r="4" fill="#9E1B14" stroke="#1a0000" stroke-width="1.1" />
<circle cx="1394.45" cy="760.52" r="4" fill="#9E1B14" stroke="#1a0000" stroke-width="1.1" />
<circle cx="1432.01" cy="758.42" r="4" fill="#9E1B14" stroke="#1a0000" stroke-width="1.1" />
<circle cx="1459.6" cy="774.18" r="4" fill="#9E1B14" stroke="#1a0000" stroke-width="1.1" />
<circle cx="1467.48" cy="782.06" r="4" fill="#9E1B14" stroke="#1a0000" stroke-width="1.1" />
<circle cx="1389.46" cy="784.16" r="4" fill="#9E1B14" stroke="#1a0000" stroke-width="1.1" />
<circle cx="1400.76" cy="792.04" r="4" fill="#9E1B14" stroke="#1a0000" stroke-width="1.1" />
<circle cx="1403.38" cy="795.19" r="4" fill="#9E1B14" stroke="#1a0000" stroke-width="1.1" />
<circle cx="1421.77" cy="790.46" r="4" fill="#9E1B14" stroke="#1a0000" stroke-width="1.1" />
<circle cx="1423.08" cy="794.4" r="4" fill="#9E1B14" stroke="#1a0000" stroke-width="1.1" />
<circle cx="1438.84" cy="791.25" r="4" fill="#9E1B14" stroke="#1a0000" stroke-width="1.1" />
<circle cx="1393.14" cy="798.34" r="4" fill="#9E1B14" stroke="#1a0000" stroke-width="1.1" />
<circle cx="1398.92" cy="797.03" r="4" fill="#9E1B14" stroke="#1a0000" stroke-width="1.1" />
<circle cx="1412.58" cy="796.5" r="4" fill="#9E1B14" stroke="#1a0000" stroke-width="1.1" />
<circle cx="1415.2" cy="801.49" r="4" fill="#9E1B14" stroke="#1a0000" stroke-width="1.1" />
<circle cx="1404.7" cy="801.49" r="4" fill="#9E1B14" stroke="#1a0000" stroke-width="1.1" />
<circle cx="1399.44" cy="804.91" r="4" fill="#9E1B14" stroke="#1a0000" stroke-width="1.1" />
<circle cx="1393.14" cy="801.49" r="4" fill="#9E1B14" stroke="#1a0000" stroke-width="1.1" />
<circle cx="1406.27" cy="806.22" r="4" fill="#9E1B14" stroke="#1a0000" stroke-width="1.1" />
<circle cx="1387.89" cy="810.95" r="4" fill="#9E1B14" stroke="#1a0000" stroke-width="1.1" />
<circle cx="1394.98" cy="810.69" r="4" fill="#9E1B14" stroke="#1a0000" stroke-width="1.1" />
<circle cx="1434.38" cy="808.32" r="4" fill="#9E1B14" stroke="#1a0000" stroke-width="1.1" />
<circle cx="1440.16" cy="812" r="4" fill="#9E1B14" stroke="#1a0000" stroke-width="1.1" />
<circle cx="1408.9" cy="816.73" r="4" fill="#9E1B14" stroke="#1a0000" stroke-width="1.1" />
<circle cx="1398.92" cy="828.55" r="4" fill="#9E1B14" stroke="#1a0000" stroke-width="1.1" />
<text transform="translate(1449.21 504) scale(1.11 1)" font-size="27" text-anchor="start">Male</text>
<text transform="translate(1293.8 713) rotate(-90) translate(-80.07 0) scale(1 1)" font-size="29.5">Scr (µmol/L)</text>
<text transform="translate(1392.93 559.3) scale(1.03 1)" font-size="24" text-anchor="start" font-style="italic">r=0.650</text>
<text transform="translate(1386.9 585.6) scale(1.03 1)" font-size="24" text-anchor="start" font-style="italic">p=0.000000354</text>
<text transform="translate(1386.55 611.8) scale(1.06 1)" font-size="24" text-anchor="start">n=48</text>
<path d="M1802.41 638.16 C1805.82 639.03 1815.98 641.22 1822.9 643.41 C1829.82 645.6 1836.04 648.01 1843.92 651.29 C1851.8 654.58 1857.06 659.09 1870.19 663.12 C1883.33 667.14 1905.23 672.18 1922.74 675.47 C1940.26 678.75 1957.78 680.63 1975.29 682.82 C1992.81 685.01 2012.6 686.94 2027.84 688.6 C2043.08 690.27 2060.25 692.11 2066.73 692.81 L2066.73 827.86 C2055.87 819.23 2021.18 791.51 2001.57 776.1 C1981.95 760.68 1966.53 748.51 1949.02 735.37 C1931.5 722.23 1909.61 706.25 1896.47 697.27 C1883.33 688.3 1878.95 685.67 1870.19 681.51 C1861.44 677.35 1851.8 674.94 1843.92 672.31 C1836.04 669.68 1829.82 667.28 1822.9 665.74 C1815.98 664.21 1805.82 663.55 1802.41 663.12Z" fill="#F7E3E8" stroke="none" stroke-width="0" />
<line x1="1789.8" y1="539.6" x2="1789.8" y2="843.3" stroke="#000" stroke-width="2" stroke-linecap="butt" />
<line x1="1789.8" y1="842.3" x2="2079.6" y2="842.3" stroke="#000" stroke-width="2" stroke-linecap="butt" />
<line x1="1785.6" y1="626" x2="1789.8" y2="626" stroke="#000" stroke-width="1.6" stroke-linecap="butt" />
<text transform="translate(1782.2 635.21) scale(0.95 1)" font-size="24.6" text-anchor="end">50</text>
<line x1="1785.6" y1="725.4" x2="1789.8" y2="725.4" stroke="#000" stroke-width="1.6" stroke-linecap="butt" />
<text transform="translate(1782.2 734.61) scale(0.95 1)" font-size="24.6" text-anchor="end">0</text>
<line x1="1785.6" y1="825.2" x2="1789.8" y2="825.2" stroke="#000" stroke-width="1.6" stroke-linecap="butt" />
<text transform="translate(1782.2 834.41) scale(0.95 1)" font-size="24.6" text-anchor="end">-50</text>
<line x1="1802.4" y1="842.3" x2="1802.4" y2="846.5" stroke="#000" stroke-width="1.6" stroke-linecap="butt" />
<text transform="translate(1802.4 867.2)" font-size="24.3" text-anchor="middle">0</text>
<line x1="1866.8" y1="842.3" x2="1866.8" y2="846.5" stroke="#000" stroke-width="1.6" stroke-linecap="butt" />
<text transform="translate(1864.4 867.2)" font-size="24.3" text-anchor="middle">100</text>
<line x1="1931.2" y1="842.3" x2="1931.2" y2="846.5" stroke="#000" stroke-width="1.6" stroke-linecap="butt" />
<text transform="translate(1931.2 867.2)" font-size="24.3" text-anchor="middle">200</text>
<line x1="1995.5" y1="842.3" x2="1995.5" y2="846.5" stroke="#000" stroke-width="1.6" stroke-linecap="butt" />
<text transform="translate(1995.5 867.2)" font-size="24.3" text-anchor="middle">300</text>
<line x1="2059.9" y1="842.3" x2="2059.9" y2="846.5" stroke="#000" stroke-width="1.6" stroke-linecap="butt" />
<text transform="translate(2059.9 867.2)" font-size="24.3" text-anchor="middle">400</text>
<line x1="1802.41" y1="645.51" x2="2066.73" y2="761.12" stroke="#3A0808" stroke-width="2.5" stroke-linecap="butt" />
<circle cx="1824.48" cy="552.76" r="4" fill="#9E1B14" stroke="#1a0000" stroke-width="1.1" />
<circle cx="1809.24" cy="578.25" r="4" fill="#9E1B14" stroke="#1a0000" stroke-width="1.1" />
<circle cx="1821.32" cy="578.25" r="4" fill="#9E1B14" stroke="#1a0000" stroke-width="1.1" />
<circle cx="1802.67" cy="584.56" r="4" fill="#9E1B14" stroke="#1a0000" stroke-width="1.1" />
<circle cx="1856.27" cy="586.4" r="4" fill="#9E1B14" stroke="#1a0000" stroke-width="1.1" />
<circle cx="1850.49" cy="588.76" r="4" fill="#9E1B14" stroke="#1a0000" stroke-width="1.1" />
<circle cx="1815.28" cy="605.05" r="4" fill="#9E1B14" stroke="#1a0000" stroke-width="1.1" />
<circle cx="1807.66" cy="621.87" r="4" fill="#9E1B14" stroke="#1a0000" stroke-width="1.1" />
<circle cx="1828.42" cy="622.39" r="4" fill="#9E1B14" stroke="#1a0000" stroke-width="1.1" />
<circle cx="1808.45" cy="626.33" r="4" fill="#9E1B14" stroke="#1a0000" stroke-width="1.1" />
<circle cx="1807.92" cy="631.85" r="4" fill="#9E1B14" stroke="#1a0000" stroke-width="1.1" />
<circle cx="1814.23" cy="632.38" r="4" fill="#9E1B14" stroke="#1a0000" stroke-width="1.1" />
<circle cx="1831.05" cy="632.11" r="4" fill="#9E1B14" stroke="#1a0000" stroke-width="1.1" />
<circle cx="1819.49" cy="636.05" r="4" fill="#9E1B14" stroke="#1a0000" stroke-width="1.1" />
<circle cx="1816.33" cy="638.16" r="4" fill="#9E1B14" stroke="#1a0000" stroke-width="1.1" />
<circle cx="1814.23" cy="636.32" r="4" fill="#9E1B14" stroke="#1a0000" stroke-width="1.1" />
<circle cx="1838.67" cy="640.26" r="4" fill="#9E1B14" stroke="#1a0000" stroke-width="1.1" />
<circle cx="1808.71" cy="642.62" r="4" fill="#9E1B14" stroke="#1a0000" stroke-width="1.1" />
<circle cx="1818.43" cy="653.92" r="4" fill="#9E1B14" stroke="#1a0000" stroke-width="1.1" />
<circle cx="1837.61" cy="653.92" r="4" fill="#9E1B14" stroke="#1a0000" stroke-width="1.1" />
<circle cx="1854.69" cy="662.33" r="4" fill="#9E1B14" stroke="#1a0000" stroke-width="1.1" />
<circle cx="1884.91" cy="659.96" r="4" fill="#9E1B14" stroke="#1a0000" stroke-width="1.1" />
<circle cx="1804.25" cy="670.21" r="4" fill="#9E1B14" stroke="#1a0000" stroke-width="1.1" />
<circle cx="1876.5" cy="672.05" r="4" fill="#9E1B14" stroke="#1a0000" stroke-width="1.1" />
<circle cx="1809.24" cy="681.77" r="4" fill="#9E1B14" stroke="#1a0000" stroke-width="1.1" />
<circle cx="1820.01" cy="687.81" r="4" fill="#9E1B14" stroke="#1a0000" stroke-width="1.1" />
<circle cx="1848.12" cy="689.92" r="4" fill="#9E1B14" stroke="#1a0000" stroke-width="1.1" />
<circle cx="1837.61" cy="694.12" r="4" fill="#9E1B14" stroke="#1a0000" stroke-width="1.1" />
<circle cx="1868.88" cy="693.86" r="4" fill="#9E1B14" stroke="#1a0000" stroke-width="1.1" />
<circle cx="1841.29" cy="696.22" r="4" fill="#9E1B14" stroke="#1a0000" stroke-width="1.1" />
<circle cx="1866.52" cy="700.43" r="4" fill="#9E1B14" stroke="#1a0000" stroke-width="1.1" />
<circle cx="1826.58" cy="701.74" r="4" fill="#9E1B14" stroke="#1a0000" stroke-width="1.1" />
<circle cx="1849.96" cy="701.74" r="4" fill="#9E1B14" stroke="#1a0000" stroke-width="1.1" />
<circle cx="1839.98" cy="703.58" r="4" fill="#9E1B14" stroke="#1a0000" stroke-width="1.1" />
<circle cx="1855.48" cy="703.58" r="4" fill="#9E1B14" stroke="#1a0000" stroke-width="1.1" />
<circle cx="1916.7" cy="703.58" r="4" fill="#9E1B14" stroke="#1a0000" stroke-width="1.1" />
<circle cx="2066.99" cy="702" r="4" fill="#9E1B14" stroke="#1a0000" stroke-width="1.1" />
<circle cx="1831.05" cy="707.78" r="4" fill="#9E1B14" stroke="#1a0000" stroke-width="1.1" />
<circle cx="1844.45" cy="708.05" r="4" fill="#9E1B14" stroke="#1a0000" stroke-width="1.1" />
<circle cx="1864.15" cy="708.05" r="4" fill="#9E1B14" stroke="#1a0000" stroke-width="1.1" />
<circle cx="1853.12" cy="711.72" r="4" fill="#9E1B14" stroke="#1a0000" stroke-width="1.1" />
<circle cx="1855.48" cy="711.72" r="4" fill="#9E1B14" stroke="#1a0000" stroke-width="1.1" />
<circle cx="1862.84" cy="709.88" r="4" fill="#9E1B14" stroke="#1a0000" stroke-width="1.1" />
<circle cx="1872.3" cy="709.88" r="4" fill="#9E1B14" stroke="#1a0000" stroke-width="1.1" />
<circle cx="1880.18" cy="709.88" r="4" fill="#9E1B14" stroke="#1a0000" stroke-width="1.1" />
<circle cx="1814.23" cy="715.93" r="4" fill="#9E1B14" stroke="#1a0000" stroke-width="1.1" />
<text transform="translate(1893.71 504) scale(1.11 1)" font-size="27" text-anchor="start">Male</text>
<text transform="translate(1735.7 701) rotate(-90) translate(-154.67 0) scale(0.98 1)" font-size="30">eGFR (mL/min/1.73 m²)</text>
<text transform="translate(1894.53 552.8) scale(1.04 1)" font-size="24" text-anchor="start" font-style="italic">r=-0.546</text>
<text transform="translate(1891 577.2) scale(1.05 1)" font-size="24" text-anchor="start" font-style="italic">p=0.0000811</text>
<text transform="translate(1890.67 604) scale(1.04 1)" font-size="24" text-anchor="start">n=47</text>
<text transform="translate(1556.72 907.8) scale(1 1)" font-size="25" text-anchor="start">Urinary ECM1 levels (ng/mg cre)</text>
<text transform="translate(1257.5 953.3)" font-size="46" text-anchor="start" font-weight="bold">g</text>
<path d="M1388.67 1141.68 C1392.35 1141.59 1402.68 1142.03 1410.74 1141.15 C1418.79 1140.28 1428.25 1139.05 1437.01 1136.43 C1445.76 1133.8 1454.52 1130.3 1463.27 1125.39 C1472.03 1120.49 1480.78 1113.79 1489.54 1107.01 C1498.3 1100.22 1504.86 1093.87 1515.81 1084.68 C1526.75 1075.48 1539.89 1063.45 1555.21 1051.84 C1570.53 1040.24 1591.37 1026.36 1607.74 1015.07 C1624.12 1003.77 1645.83 989.24 1653.45 984.07 L1653.45 1212.08 C1645.83 1210.98 1624.12 1207.92 1607.74 1205.51 C1591.37 1203.1 1570.53 1199.51 1555.21 1197.63 C1539.89 1195.75 1526.75 1194.87 1515.81 1194.21 C1504.86 1193.56 1498.3 1193.43 1489.54 1193.69 C1480.78 1193.95 1472.03 1194.48 1463.27 1195.79 C1454.52 1197.1 1445.76 1198.85 1437.01 1201.57 C1428.25 1204.28 1418.79 1208.14 1410.74 1212.08 C1402.68 1216.02 1392.35 1223.02 1388.67 1225.21Z" fill="#F7E3E8" stroke="none" stroke-width="0" />
<line x1="1375.5" y1="969.1" x2="1375.5" y2="1273.5" stroke="#000" stroke-width="2" stroke-linecap="butt" />
<line x1="1375.5" y1="1272.5" x2="1666" y2="1272.5" stroke="#000" stroke-width="2" stroke-linecap="butt" />
<line x1="1371.3" y1="1030.8" x2="1375.5" y2="1030.8" stroke="#000" stroke-width="1.6" stroke-linecap="butt" />
<text transform="translate(1367.9 1040.01)" font-size="24.6" text-anchor="end">600</text>
<line x1="1371.3" y1="1108.8" x2="1375.5" y2="1108.8" stroke="#000" stroke-width="1.6" stroke-linecap="butt" />
<text transform="translate(1367.9 1118.01)" font-size="24.6" text-anchor="end">400</text>
<line x1="1371.3" y1="1186.6" x2="1375.5" y2="1186.6" stroke="#000" stroke-width="1.6" stroke-linecap="butt" />
<text transform="translate(1367.9 1195.81)" font-size="24.6" text-anchor="end">200</text>
<line x1="1371.3" y1="1264.6" x2="1375.5" y2="1264.6" stroke="#000" stroke-width="1.6" stroke-linecap="butt" />
<text transform="translate(1367.9 1273.81)" font-size="24.6" text-anchor="end">0</text>
<line x1="1386.6" y1="1272.5" x2="1386.6" y2="1276.7" stroke="#000" stroke-width="1.6" stroke-linecap="butt" />
<text transform="translate(1386.6 1297.6)" font-size="24.3" text-anchor="middle">0</text>
<line x1="1473.3" y1="1272.5" x2="1473.3" y2="1276.7" stroke="#000" stroke-width="1.6" stroke-linecap="butt" />
<text transform="translate(1470.9 1297.6)" font-size="24.3" text-anchor="middle">100</text>
<line x1="1560.2" y1="1272.5" x2="1560.2" y2="1276.7" stroke="#000" stroke-width="1.6" stroke-linecap="butt" />
<text transform="translate(1560.2 1297.6)" font-size="24.3" text-anchor="middle">200</text>
<line x1="1646.9" y1="1272.5" x2="1646.9" y2="1276.7" stroke="#000" stroke-width="1.6" stroke-linecap="butt" />
<text transform="translate(1646.9 1297.6)" font-size="24.3" text-anchor="middle">300</text>
<line x1="1388.67" y1="1184.49" x2="1653.45" y2="1097.55" stroke="#3A0808" stroke-width="2.5" stroke-linecap="butt" />
<circle cx="1442.52" cy="992.22" r="4" fill="#9E1B14" stroke="#1a0000" stroke-width="1.1" />
<circle cx="1476.67" cy="1058.67" r="4" fill="#9E1B14" stroke="#1a0000" stroke-width="1.1" />
<circle cx="1433.59" cy="1081.53" r="4" fill="#9E1B14" stroke="#1a0000" stroke-width="1.1" />
<circle cx="1564.67" cy="1088.36" r="4" fill="#9E1B14" stroke="#1a0000" stroke-width="1.1" />
<circle cx="1429.39" cy="1138.53" r="4" fill="#9E1B14" stroke="#1a0000" stroke-width="1.1" />
<circle cx="1388.41" cy="1150.87" r="4" fill="#9E1B14" stroke="#1a0000" stroke-width="1.1" />
<circle cx="1389.99" cy="1152.19" r="4" fill="#9E1B14" stroke="#1a0000" stroke-width="1.1" />
<circle cx="1653.19" cy="1165.06" r="4" fill="#9E1B14" stroke="#1a0000" stroke-width="1.1" />
<circle cx="1411" cy="1184.23" r="4" fill="#9E1B14" stroke="#1a0000" stroke-width="1.1" />
<circle cx="1439.63" cy="1185.81" r="4" fill="#9E1B14" stroke="#1a0000" stroke-width="1.1" />
<circle cx="1454.87" cy="1184.76" r="4" fill="#9E1B14" stroke="#1a0000" stroke-width="1.1" />
<circle cx="1437.27" cy="1189.75" r="4" fill="#9E1B14" stroke="#1a0000" stroke-width="1.1" />
<circle cx="1407.59" cy="1208.4" r="4" fill="#9E1B14" stroke="#1a0000" stroke-width="1.1" />
<circle cx="1419.41" cy="1214.18" r="4" fill="#9E1B14" stroke="#1a0000" stroke-width="1.1" />
<circle cx="1389.2" cy="1223.9" r="4" fill="#9E1B14" stroke="#1a0000" stroke-width="1.1" />
<circle cx="1402.6" cy="1222.58" r="4" fill="#9E1B14" stroke="#1a0000" stroke-width="1.1" />
<circle cx="1408.9" cy="1236.24" r="4" fill="#9E1B14" stroke="#1a0000" stroke-width="1.1" />
<circle cx="1420.46" cy="1237.82" r="4" fill="#9E1B14" stroke="#1a0000" stroke-width="1.1" />
<circle cx="1425.19" cy="1258.83" r="4" fill="#9E1B14" stroke="#1a0000" stroke-width="1.1" />
<text transform="translate(1473.57 952.6) scale(1.1 1)" font-size="27" text-anchor="start">Female</text>
<text transform="translate(1293.8 1112) rotate(-90) translate(-80.07 0) scale(1 1)" font-size="29.5">Scr (µmol/L)</text>
<text transform="translate(1563.52 1217.9) scale(1.04 1)" font-size="24" text-anchor="start" font-style="italic">r=0.444</text>
<text transform="translate(1558.9 1242.3) scale(1.02 1)" font-size="24" text-anchor="start" font-style="italic">p=0.0559</text>
<text transform="translate(1559.16 1265.9) scale(1.05 1)" font-size="24" text-anchor="start">n=19</text>
<path d="M1803.46 1056.61 C1806.7 1058.01 1816.16 1062.08 1822.9 1065.02 C1829.64 1067.95 1836.04 1071.37 1843.92 1074.21 C1851.8 1077.06 1861.44 1080.04 1870.19 1082.1 C1878.95 1084.15 1887.71 1085.47 1896.47 1086.56 C1905.23 1087.66 1909.61 1088.4 1922.74 1088.67 C1935.88 1088.93 1957.78 1088.67 1975.29 1088.14 C1992.81 1087.61 2010.89 1086.52 2027.84 1085.51 C2044.79 1084.51 2068.78 1082.67 2076.97 1082.1 L2076.97 1258.13 C2068.78 1252.44 2044.79 1235.58 2027.84 1223.98 C2010.89 1212.37 1992.81 1200.11 1975.29 1188.51 C1957.78 1176.9 1935.88 1162.32 1922.74 1154.35 C1909.61 1146.38 1905.23 1144.72 1896.47 1140.69 C1887.71 1136.66 1878.95 1132.72 1870.19 1130.18 C1861.44 1127.64 1851.8 1126.46 1843.92 1125.45 C1836.04 1124.44 1829.64 1124.79 1822.9 1124.14 C1816.16 1123.48 1806.7 1121.95 1803.46 1121.51Z" fill="#F7E3E8" stroke="none" stroke-width="0" />
<line x1="1790.3" y1="969.1" x2="1790.3" y2="1273.6" stroke="#000" stroke-width="2" stroke-linecap="butt" />
<line x1="1790.3" y1="1272.6" x2="2090.1" y2="1272.6" stroke="#000" stroke-width="2" stroke-linecap="butt" />
<line x1="1786.1" y1="971" x2="1790.3" y2="971" stroke="#000" stroke-width="1.6" stroke-linecap="butt" />
<text transform="translate(1782.7 980.21)" font-size="24.6" text-anchor="end">80</text>
<line x1="1786.1" y1="1073.4" x2="1790.3" y2="1073.4" stroke="#000" stroke-width="1.6" stroke-linecap="butt" />
<text transform="translate(1782.7 1082.61)" font-size="24.6" text-anchor="end">40</text>
<line x1="1786.1" y1="1174.8" x2="1790.3" y2="1174.8" stroke="#000" stroke-width="1.6" stroke-linecap="butt" />
<text transform="translate(1782.7 1184.01)" font-size="24.6" text-anchor="end">0</text>
<line x1="1801.9" y1="1272.6" x2="1801.9" y2="1276.8" stroke="#000" stroke-width="1.6" stroke-linecap="butt" />
<text transform="translate(1801.9 1297.6)" font-size="24.3" text-anchor="middle">0</text>
<line x1="1891" y1="1272.6" x2="1891" y2="1276.8" stroke="#000" stroke-width="1.6" stroke-linecap="butt" />
<text transform="translate(1888.6 1297.6)" font-size="24.3" text-anchor="middle">100</text>
<line x1="1980.5" y1="1272.6" x2="1980.5" y2="1276.8" stroke="#000" stroke-width="1.6" stroke-linecap="butt" />
<text transform="translate(1980.5 1297.6)" font-size="24.3" text-anchor="middle">200</text>
<line x1="2070.4" y1="1272.6" x2="2070.4" y2="1276.8" stroke="#000" stroke-width="1.6" stroke-linecap="butt" />
<text transform="translate(2070.4 1297.6)" font-size="24.3" text-anchor="middle">300</text>
<line x1="1803.46" y1="1089.45" x2="2076.97" y2="1170.12" stroke="#3A0808" stroke-width="2.5" stroke-linecap="butt" />
<circle cx="1824.48" cy="982.52" r="4" fill="#9E1B14" stroke="#1a0000" stroke-width="1.1" />
<circle cx="1836.3" cy="992.76" r="4" fill="#9E1B14" stroke="#1a0000" stroke-width="1.1" />
<circle cx="1804.25" cy="1025.61" r="4" fill="#9E1B14" stroke="#1a0000" stroke-width="1.1" />
<circle cx="1817.91" cy="1061.08" r="4" fill="#9E1B14" stroke="#1a0000" stroke-width="1.1" />
<circle cx="1835.25" cy="1073.95" r="4" fill="#9E1B14" stroke="#1a0000" stroke-width="1.1" />
<circle cx="1822.9" cy="1093.92" r="4" fill="#9E1B14" stroke="#1a0000" stroke-width="1.1" />
<circle cx="1841.03" cy="1109.16" r="4" fill="#9E1B14" stroke="#1a0000" stroke-width="1.1" />
<circle cx="1853.64" cy="1116.78" r="4" fill="#9E1B14" stroke="#1a0000" stroke-width="1.1" />
<circle cx="1856.27" cy="1121.51" r="4" fill="#9E1B14" stroke="#1a0000" stroke-width="1.1" />
<circle cx="1871.77" cy="1121.51" r="4" fill="#9E1B14" stroke="#1a0000" stroke-width="1.1" />
<circle cx="1826.58" cy="1127.03" r="4" fill="#9E1B14" stroke="#1a0000" stroke-width="1.1" />
<circle cx="1804.77" cy="1134.65" r="4" fill="#9E1B14" stroke="#1a0000" stroke-width="1.1" />
<circle cx="1803.46" cy="1142" r="4" fill="#9E1B14" stroke="#1a0000" stroke-width="1.1" />
<circle cx="1845.5" cy="1144.37" r="4" fill="#9E1B14" stroke="#1a0000" stroke-width="1.1" />
<circle cx="1849.96" cy="1149.62" r="4" fill="#9E1B14" stroke="#1a0000" stroke-width="1.1" />
<circle cx="1894.37" cy="1154.88" r="4" fill="#9E1B14" stroke="#1a0000" stroke-width="1.1" />
<circle cx="1985.01" cy="1154.88" r="4" fill="#9E1B14" stroke="#1a0000" stroke-width="1.1" />
<circle cx="1859.42" cy="1164.86" r="4" fill="#9E1B14" stroke="#1a0000" stroke-width="1.1" />
<circle cx="2077.24" cy="1136.75" r="4" fill="#9E1B14" stroke="#1a0000" stroke-width="1.1" />
<text transform="translate(1894.97 952.3) scale(1.1 1)" font-size="27" text-anchor="start">Female</text>
<text transform="translate(1735.7 1115) rotate(-90) translate(-153.67 0) scale(0.97 1)" font-size="30">eGFR (mL/min/1.73 m²)</text>
<text transform="translate(1805.73 1214.8) scale(1.04 1)" font-size="24" text-anchor="start" font-style="italic">r=-0.533</text>
<text transform="translate(1801.7 1239.7) scale(1.03 1)" font-size="24" text-anchor="start" font-style="italic">p=0.0186</text>
<text transform="translate(1801.86 1266) scale(1.05 1)" font-size="24" text-anchor="start">n=19</text>
<text transform="translate(1548.12 1339.3) scale(1 1)" font-size="25" text-anchor="start">Urinary ECM1 levels (ng/mg cre)</text>
<text transform="translate(23.5 963.9)" font-size="46" text-anchor="start" font-weight="bold">h</text>
<defs><pattern id="pol" width="5.7" height="5.6" patternUnits="userSpaceOnUse" x="240.1" y="1204.6"><rect x="1.2" y="1.2" width="3.4" height="3.4" rx="1.4" fill="#8E9A1E"/><rect x="2.3" y="0" width="1.1" height="5.6" fill="#8E9A1E"/><rect x="0" y="2.4" width="5.7" height="0.7" fill="#8E9A1E" opacity="0.7"/></pattern><pattern id="pnv" width="5.4" height="5.4" patternUnits="userSpaceOnUse" x="352.7" y="1045"><rect width="5.4" height="5.4" fill="#1A1A9A"/><rect x="4.3" y="4.3" width="1.1" height="1.1" fill="#5b5bb5"/></pattern><pattern id="pol2" width="5.2" height="5.6" patternUnits="userSpaceOnUse" x="632.2" y="1250"><rect x="1.1" y="1.2" width="3" height="3.2" rx="1.2" fill="#8E9A1E"/><rect x="2.1" y="0" width="1" height="5.6" fill="#8E9A1E"/></pattern><pattern id="pnv2" width="5.2" height="5.2" patternUnits="userSpaceOnUse" x="718" y="1230"><rect x="0.9" y="0.9" width="3.4" height="3.4" rx="1.2" fill="#1A1A9A"/><rect x="1.9" y="0" width="1.4" height="5.2" fill="#1A1A9A"/></pattern></defs>
<text transform="translate(118.5 1143) rotate(-90)" font-size="29.2" text-anchor="middle">Human serum ECM1 (ng/ml)</text>
<line x1="166.6" y1="1013.8" x2="166.6" y2="1113" stroke="#000" stroke-width="2.3" stroke-linecap="butt" />
<line x1="166.6" y1="1136" x2="166.6" y2="1278.4" stroke="#000" stroke-width="2.3" stroke-linecap="butt" />
<line x1="161" y1="1121.5" x2="172.5" y2="1112" stroke="#000" stroke-width="2.2" stroke-linecap="butt" />
<line x1="161" y1="1138.5" x2="172.5" y2="1129" stroke="#000" stroke-width="2.2" stroke-linecap="butt" />
<line x1="155.5" y1="1277.3" x2="431.7" y2="1277.3" stroke="#000" stroke-width="2.3" stroke-linecap="butt" />
<line x1="155.5" y1="1015" x2="166.6" y2="1015" stroke="#000" stroke-width="2.2" stroke-linecap="butt" />
<text transform="translate(149.5 1025.66)" font-size="29.2" text-anchor="end">6</text>
<line x1="155.5" y1="1050.5" x2="166.6" y2="1050.5" stroke="#000" stroke-width="2.2" stroke-linecap="butt" />
<text transform="translate(149.5 1061.16)" font-size="29.2" text-anchor="end">5</text>
<line x1="155.5" y1="1085.7" x2="166.6" y2="1085.7" stroke="#000" stroke-width="2.2" stroke-linecap="butt" />
<text transform="translate(149.5 1096.36)" font-size="29.2" text-anchor="end">4</text>
<line x1="155.5" y1="1143.6" x2="166.6" y2="1143.6" stroke="#000" stroke-width="2.2" stroke-linecap="butt" />
<text transform="translate(149.5 1154.26)" font-size="29.2" text-anchor="end">3</text>
<line x1="155.5" y1="1188" x2="166.6" y2="1188" stroke="#000" stroke-width="2.2" stroke-linecap="butt" />
<text transform="translate(149.5 1198.66)" font-size="29.2" text-anchor="end">2</text>
<line x1="155.5" y1="1232.7" x2="166.6" y2="1232.7" stroke="#000" stroke-width="2.2" stroke-linecap="butt" />
<text transform="translate(149.5 1243.36)" font-size="29.2" text-anchor="end">1</text>
<line x1="155.5" y1="1277.3" x2="166.6" y2="1277.3" stroke="#000" stroke-width="2.2" stroke-linecap="butt" />
<text transform="translate(149.5 1287.96)" font-size="29.2" text-anchor="end">0</text>
<line x1="242.8" y1="1277.3" x2="242.8" y2="1288.7" stroke="#000" stroke-width="2.2" stroke-linecap="butt" />
<line x1="355.9" y1="1277.3" x2="355.9" y2="1288.7" stroke="#000" stroke-width="2.2" stroke-linecap="butt" />
<line x1="155.5" y1="1278.6" x2="431.7" y2="1278.6" stroke="#555" stroke-width="0.8" stroke-linecap="butt" stroke-dasharray="1.5 1.5"/>
<text transform="translate(291.7 1025.6)" font-size="25" text-anchor="middle" font-style="italic">p=0.0153</text>
<line x1="220.5" y1="1036.4" x2="357.2" y2="1036.4" stroke="#000" stroke-width="1.7" stroke-linecap="butt" />
<text transform="translate(243 1323)" font-size="29.2" text-anchor="middle">HA</text>
<text transform="translate(358.5 1323)" font-size="29.2" text-anchor="middle">CKD</text>
<text transform="translate(247 1349.6)" font-size="25.3" text-anchor="middle">(n=80)</text>
<text transform="translate(355.4 1349.6)" font-size="25.3" text-anchor="middle">(n=172)</text>
<path d="M242.22 1207.85 L242.22 1223.04 L238.54 1227.83 L236.62 1235.03 L234.39 1241.42 L229.59 1245.74 L223.2 1247.66 L227.99 1249.58 L227.99 1254.69 L223.52 1257.89 L214.24 1261.09 L208.33 1264.6 L204.97 1267.48 L207.21 1271.8 L210.73 1275 L215.2 1277.07 L270.2 1277.07 L274.67 1275 L278.19 1271.8 L280.43 1267.48 L277.07 1264.6 L271.16 1261.09 L261.88 1257.89 L257.41 1254.69 L257.41 1249.58 L262.2 1247.66 L255.81 1245.74 L251.01 1241.42 L248.78 1235.03 L246.86 1227.83 L243.18 1223.04 L243.18 1207.85Z" fill="#DADADA" stroke="none" stroke-width="0" />
<path d="M242.22 1207.85 L242.22 1223.04 L238.54 1227.83 L236.62 1235.03 L234.39 1241.42 L229.59 1245.74 L223.2 1247.66 L227.99 1249.58 L227.99 1254.69 L223.52 1257.89 L214.24 1261.09 L208.33 1264.6 L204.97 1267.48 L207.21 1271.8 L210.73 1275 L215.2 1277.07 L270.2 1277.07 L274.67 1275 L278.19 1271.8 L280.43 1267.48 L277.07 1264.6 L271.16 1261.09 L261.88 1257.89 L257.41 1254.69 L257.41 1249.58 L262.2 1247.66 L255.81 1245.74 L251.01 1241.42 L248.78 1235.03 L246.86 1227.83 L243.18 1223.04 L243.18 1207.85Z" fill="url(#pol)" stroke="none" stroke-width="0" />
<path d="M242.22 1207.85 L242.22 1223.04 L238.54 1227.83 L236.62 1235.03 L234.39 1241.42 L229.59 1245.74 L223.2 1247.66 L227.99 1249.58 L227.99 1254.69 L223.52 1257.89 L214.24 1261.09 L208.33 1264.6 L204.97 1267.48 L207.21 1271.8 L210.73 1275 L215.2 1277.07 L270.2 1277.07 L274.67 1275 L278.19 1271.8 L280.43 1267.48 L277.07 1264.6 L271.16 1261.09 L261.88 1257.89 L257.41 1254.69 L257.41 1249.58 L262.2 1247.66 L255.81 1245.74 L251.01 1241.42 L248.78 1235.03 L246.86 1227.83 L243.18 1223.04 L243.18 1207.85Z" fill="none" stroke="#8E9A1E" stroke-width="1.6" stroke-linejoin="round"/>
<circle cx="242.7" cy="1205.5" r="2.2" fill="#8E9A1E" stroke="none" stroke-width="0" />
<circle cx="223.2" cy="1247.8" r="1.8" fill="#8E9A1E" stroke="none" stroke-width="0" />
<circle cx="261.5" cy="1247.8" r="1.8" fill="#8E9A1E" stroke="none" stroke-width="0" />
<path d="M355 1045.58 L354.92 1189.46 L354.12 1203.85 L353.48 1211.85 L349.64 1213.76 L349.64 1216.96 L351.88 1218.24 L351.88 1221.76 L349.32 1223.36 L349.01 1230.71 L347.09 1233.43 L343.25 1235.83 L341.33 1238.23 L333.02 1245.42 L332.7 1247.82 L325.02 1258.21 L320.87 1266.2 L317.03 1269.08 L317.03 1277.07 L393.77 1277.07 L393.77 1269.08 L389.93 1266.2 L385.78 1258.21 L378.1 1247.82 L377.78 1245.42 L369.47 1238.23 L367.55 1235.83 L363.71 1233.43 L361.79 1230.71 L361.48 1223.36 L358.92 1221.76 L358.92 1218.24 L361.16 1216.96 L361.16 1213.76 L357.32 1211.85 L356.68 1203.85 L355.88 1189.46 L355.8 1045.58Z" fill="url(#pnv)" stroke="none" stroke-width="0" />
<path d="M355 1045.58 L354.92 1189.46 L354.12 1203.85 L353.48 1211.85 L349.64 1213.76 L349.64 1216.96 L351.88 1218.24 L351.88 1221.76 L349.32 1223.36 L349.01 1230.71 L347.09 1233.43 L343.25 1235.83 L341.33 1238.23 L333.02 1245.42 L332.7 1247.82 L325.02 1258.21 L320.87 1266.2 L317.03 1269.08 L317.03 1277.07 L393.77 1277.07 L393.77 1269.08 L389.93 1266.2 L385.78 1258.21 L378.1 1247.82 L377.78 1245.42 L369.47 1238.23 L367.55 1235.83 L363.71 1233.43 L361.79 1230.71 L361.48 1223.36 L358.92 1221.76 L358.92 1218.24 L361.16 1216.96 L361.16 1213.76 L357.32 1211.85 L356.68 1203.85 L355.88 1189.46 L355.8 1045.58Z" fill="none" stroke="#1A1A9A" stroke-width="1.4" stroke-linejoin="round"/>
<rect x="352" y="1112.7" width="7" height="19.4" fill="#fff" stroke="none" stroke-width="0" />
<circle cx="355.4" cy="1045.58" r="1.9" fill="#1A1A9A" stroke="none" stroke-width="0" />
<circle cx="355.4" cy="1079.95" r="1.9" fill="#1A1A9A" stroke="none" stroke-width="0" />
<circle cx="355.4" cy="1171.88" r="1.9" fill="#1A1A9A" stroke="none" stroke-width="0" />
<circle cx="355.4" cy="1191.86" r="1.9" fill="#1A1A9A" stroke="none" stroke-width="0" />
<rect x="347.4" y="1232" width="3.4" height="1.8" fill="#e4e4f2" stroke="none" stroke-width="0" />
<rect x="361.4" y="1236" width="3.4" height="1.8" fill="#e4e4f2" stroke="none" stroke-width="0" />
<rect x="341.4" y="1250" width="3.4" height="1.8" fill="#e4e4f2" stroke="none" stroke-width="0" />
<rect x="365.4" y="1254" width="3.4" height="1.8" fill="#e4e4f2" stroke="none" stroke-width="0" />
<rect x="353.4" y="1262" width="3.4" height="1.8" fill="#e4e4f2" stroke="none" stroke-width="0" />
<rect x="373.4" y="1266" width="3.4" height="1.8" fill="#e4e4f2" stroke="none" stroke-width="0" />
<rect x="335.4" y="1270" width="3.4" height="1.8" fill="#e4e4f2" stroke="none" stroke-width="0" />
<rect x="359.4" y="1272" width="3.4" height="1.8" fill="#e4e4f2" stroke="none" stroke-width="0" />
<rect x="369.4" y="1262" width="3.4" height="1.8" fill="#e4e4f2" stroke="none" stroke-width="0" />
<rect x="345.4" y="1244" width="3.4" height="1.8" fill="#e4e4f2" stroke="none" stroke-width="0" />
<text transform="translate(514.5 1140) rotate(-90)" font-size="29.2" text-anchor="middle">Human serum ECM1 (ng/ml)</text>
<line x1="577.2" y1="1075.8" x2="577.2" y2="1277.9" stroke="#000" stroke-width="2" stroke-linecap="butt" />
<line x1="569.5" y1="1276.9" x2="778.9" y2="1276.9" stroke="#000" stroke-width="2" stroke-linecap="butt" />
<line x1="569.5" y1="1076.8" x2="577.2" y2="1076.8" stroke="#000" stroke-width="2" stroke-linecap="butt" />
<text transform="translate(563.5 1087.46)" font-size="29.2" text-anchor="end">6</text>
<line x1="569.5" y1="1143.7" x2="577.2" y2="1143.7" stroke="#000" stroke-width="2" stroke-linecap="butt" />
<text transform="translate(563.5 1154.36)" font-size="29.2" text-anchor="end">4</text>
<line x1="569.5" y1="1210.6" x2="577.2" y2="1210.6" stroke="#000" stroke-width="2" stroke-linecap="butt" />
<text transform="translate(563.5 1221.26)" font-size="29.2" text-anchor="end">2</text>
<line x1="569.5" y1="1276.9" x2="577.2" y2="1276.9" stroke="#000" stroke-width="2" stroke-linecap="butt" />
<text transform="translate(563.5 1287.56)" font-size="29.2" text-anchor="end">0</text>
<line x1="635.4" y1="1276.9" x2="635.4" y2="1284.7" stroke="#000" stroke-width="2" stroke-linecap="butt" />
<line x1="720.5" y1="1276.9" x2="720.5" y2="1284.7" stroke="#000" stroke-width="2" stroke-linecap="butt" />
<line x1="569.5" y1="1278.1" x2="778.9" y2="1278.1" stroke="#555" stroke-width="0.8" stroke-linecap="butt" stroke-dasharray="1.5 1.5"/>
<text transform="translate(668.4 1029.5)" font-size="29.2" text-anchor="middle">Male</text>
<text transform="translate(669 1070)" font-size="25" text-anchor="middle" font-style="italic">p=0.0233</text>
<line x1="612.4" y1="1084.7" x2="721.6" y2="1084.7" stroke="#000" stroke-width="1.7" stroke-linecap="butt" />
<text transform="translate(633 1318)" font-size="29.2" text-anchor="middle">HA</text>
<text transform="translate(724.6 1318)" font-size="29.2" text-anchor="middle">CKD</text>
<text transform="translate(633.7 1350)" font-size="25.3" text-anchor="middle">(n=34)</text>
<text transform="translate(727.4 1350)" font-size="25.3" text-anchor="middle">(n=96)</text>
<path d="M634.5 1226.16 C634.5 1230.36 635.41 1246.89 634.5 1251.35 C633.59 1255.81 630.67 1252.21 629.04 1252.91 C627.41 1253.61 626 1254.71 624.72 1255.55 C623.44 1256.39 622.84 1257.15 621.36 1257.95 C619.88 1258.75 617.65 1259.51 615.85 1260.35 C614.05 1261.19 612.13 1261.98 610.57 1262.98 C609.01 1263.98 606.89 1265.18 606.49 1266.34 C606.09 1267.5 607.17 1268.74 608.17 1269.94 C609.17 1271.14 610.69 1272.42 612.49 1273.54 C614.29 1274.66 617.89 1276.14 618.97 1276.66 L650.63 1276.66 C651.71 1276.14 655.31 1274.66 657.11 1273.54 C658.91 1272.42 660.43 1271.14 661.43 1269.94 C662.43 1268.74 663.51 1267.5 663.11 1266.34 C662.71 1265.18 660.59 1263.98 659.03 1262.98 C657.47 1261.98 655.55 1261.19 653.75 1260.35 C651.95 1259.51 649.72 1258.75 648.24 1257.95 C646.76 1257.15 646.16 1256.39 644.88 1255.55 C643.6 1254.71 642.19 1253.61 640.56 1252.91 C638.93 1252.21 636.01 1255.81 635.1 1251.35 C634.19 1246.89 635.1 1230.36 635.1 1226.16Z" fill="#DADADA" stroke="none" stroke-width="0" />
<path d="M634.5 1226.16 C634.5 1230.36 635.41 1246.89 634.5 1251.35 C633.59 1255.81 630.67 1252.21 629.04 1252.91 C627.41 1253.61 626 1254.71 624.72 1255.55 C623.44 1256.39 622.84 1257.15 621.36 1257.95 C619.88 1258.75 617.65 1259.51 615.85 1260.35 C614.05 1261.19 612.13 1261.98 610.57 1262.98 C609.01 1263.98 606.89 1265.18 606.49 1266.34 C606.09 1267.5 607.17 1268.74 608.17 1269.94 C609.17 1271.14 610.69 1272.42 612.49 1273.54 C614.29 1274.66 617.89 1276.14 618.97 1276.66 L650.63 1276.66 C651.71 1276.14 655.31 1274.66 657.11 1273.54 C658.91 1272.42 660.43 1271.14 661.43 1269.94 C662.43 1268.74 663.51 1267.5 663.11 1266.34 C662.71 1265.18 660.59 1263.98 659.03 1262.98 C657.47 1261.98 655.55 1261.19 653.75 1260.35 C651.95 1259.51 649.72 1258.75 648.24 1257.95 C646.76 1257.15 646.16 1256.39 644.88 1255.55 C643.6 1254.71 642.19 1253.61 640.56 1252.91 C638.93 1252.21 636.01 1255.81 635.1 1251.35 C634.19 1246.89 635.1 1230.36 635.1 1226.16Z" fill="url(#pol2)" stroke="none" stroke-width="0" />
<path d="M634.5 1226.16 C634.5 1230.36 635.41 1246.89 634.5 1251.35 C633.59 1255.81 630.67 1252.21 629.04 1252.91 C627.41 1253.61 626 1254.71 624.72 1255.55 C623.44 1256.39 622.84 1257.15 621.36 1257.95 C619.88 1258.75 617.65 1259.51 615.85 1260.35 C614.05 1261.19 612.13 1261.98 610.57 1262.98 C609.01 1263.98 606.89 1265.18 606.49 1266.34 C606.09 1267.5 607.17 1268.74 608.17 1269.94 C609.17 1271.14 610.69 1272.42 612.49 1273.54 C614.29 1274.66 617.89 1276.14 618.97 1276.66 L650.63 1276.66 C651.71 1276.14 655.31 1274.66 657.11 1273.54 C658.91 1272.42 660.43 1271.14 661.43 1269.94 C662.43 1268.74 663.51 1267.5 663.11 1266.34 C662.71 1265.18 660.59 1263.98 659.03 1262.98 C657.47 1261.98 655.55 1261.19 653.75 1260.35 C651.95 1259.51 649.72 1258.75 648.24 1257.95 C646.76 1257.15 646.16 1256.39 644.88 1255.55 C643.6 1254.71 642.19 1253.61 640.56 1252.91 C638.93 1252.21 636.01 1255.81 635.1 1251.35 C634.19 1246.89 635.1 1230.36 635.1 1226.16Z" fill="none" stroke="#8E9A1E" stroke-width="1.4" stroke-linejoin="round"/>
<polygon points="632.5,1222.6 637.1,1222.6 634.8,1226.5" fill="#8E9A1E" stroke="#8E9A1E" stroke-width="1" stroke-linejoin="round" />
<line x1="609.8" y1="1266.34" x2="659.8" y2="1266.34" stroke="#8E9A1E" stroke-width="1.1" stroke-linecap="butt" />
<line x1="609.8" y1="1269.94" x2="659.8" y2="1269.94" stroke="#8E9A1E" stroke-width="1.1" stroke-linecap="butt" />
<line x1="609.8" y1="1273.54" x2="659.8" y2="1273.54" stroke="#8E9A1E" stroke-width="1.1" stroke-linecap="butt" />
<path d="M720.42 1105.6 C720.41 1110.59 720.47 1130.19 720.36 1135.59 C720.25 1140.98 719.76 1137.18 719.76 1137.98 C719.76 1138.78 720.26 1130.79 720.36 1140.38 C720.46 1149.98 720.46 1185.97 720.36 1195.57 C720.26 1205.16 719.76 1197.17 719.76 1197.97 C719.76 1198.77 720.3 1198.37 720.36 1200.36 C720.42 1202.36 720.26 1208.06 720.12 1209.96 C719.98 1211.86 719.52 1210.96 719.52 1211.76 C719.52 1212.56 720.14 1213.06 720.12 1214.76 C720.1 1216.46 719.86 1219.56 719.4 1221.96 C718.94 1224.36 717.92 1226.86 717.36 1229.16 C716.8 1231.45 716.54 1233.95 716.04 1235.75 C715.54 1237.55 715.2 1238.75 714.36 1239.95 C713.52 1241.15 712 1242.05 711 1242.95 C710 1243.85 709.4 1244.25 708.36 1245.35 C707.32 1246.45 706 1247.85 704.77 1249.55 C703.53 1251.25 702.17 1253.55 700.93 1255.55 C699.69 1257.55 698.49 1259.55 697.33 1261.55 C696.17 1263.54 694.81 1265.98 693.97 1267.54 C693.13 1269.1 692.33 1269.9 692.29 1270.9 C692.25 1271.9 692.93 1272.74 693.73 1273.54 C694.53 1274.34 696.05 1275.18 697.09 1275.7 C698.13 1276.22 699.49 1276.5 699.97 1276.66 L741.23 1276.66 C741.71 1276.5 743.07 1276.22 744.11 1275.7 C745.15 1275.18 746.67 1274.34 747.47 1273.54 C748.27 1272.74 748.95 1271.9 748.91 1270.9 C748.87 1269.9 748.07 1269.1 747.23 1267.54 C746.39 1265.98 745.03 1263.54 743.87 1261.55 C742.71 1259.55 741.51 1257.55 740.27 1255.55 C739.03 1253.55 737.67 1251.25 736.43 1249.55 C735.2 1247.85 733.88 1246.45 732.84 1245.35 C731.8 1244.25 731.2 1243.85 730.2 1242.95 C729.2 1242.05 727.68 1241.15 726.84 1239.95 C726 1238.75 725.66 1237.55 725.16 1235.75 C724.66 1233.95 724.4 1231.45 723.84 1229.16 C723.28 1226.86 722.26 1224.36 721.8 1221.96 C721.34 1219.56 721.1 1216.46 721.08 1214.76 C721.06 1213.06 721.68 1212.56 721.68 1211.76 C721.68 1210.96 721.22 1211.86 721.08 1209.96 C720.94 1208.06 720.78 1202.36 720.84 1200.36 C720.9 1198.37 721.44 1198.77 721.44 1197.97 C721.44 1197.17 720.94 1205.16 720.84 1195.57 C720.74 1185.97 720.74 1149.98 720.84 1140.38 C720.94 1130.79 721.44 1138.78 721.44 1137.98 C721.44 1137.18 720.95 1140.98 720.84 1135.59 C720.73 1130.19 720.79 1110.59 720.78 1105.6Z" fill="#DADADA" stroke="none" stroke-width="0" />
<path d="M720.42 1105.6 C720.41 1110.59 720.47 1130.19 720.36 1135.59 C720.25 1140.98 719.76 1137.18 719.76 1137.98 C719.76 1138.78 720.26 1130.79 720.36 1140.38 C720.46 1149.98 720.46 1185.97 720.36 1195.57 C720.26 1205.16 719.76 1197.17 719.76 1197.97 C719.76 1198.77 720.3 1198.37 720.36 1200.36 C720.42 1202.36 720.26 1208.06 720.12 1209.96 C719.98 1211.86 719.52 1210.96 719.52 1211.76 C719.52 1212.56 720.14 1213.06 720.12 1214.76 C720.1 1216.46 719.86 1219.56 719.4 1221.96 C718.94 1224.36 717.92 1226.86 717.36 1229.16 C716.8 1231.45 716.54 1233.95 716.04 1235.75 C715.54 1237.55 715.2 1238.75 714.36 1239.95 C713.52 1241.15 712 1242.05 711 1242.95 C710 1243.85 709.4 1244.25 708.36 1245.35 C707.32 1246.45 706 1247.85 704.77 1249.55 C703.53 1251.25 702.17 1253.55 700.93 1255.55 C699.69 1257.55 698.49 1259.55 697.33 1261.55 C696.17 1263.54 694.81 1265.98 693.97 1267.54 C693.13 1269.1 692.33 1269.9 692.29 1270.9 C692.25 1271.9 692.93 1272.74 693.73 1273.54 C694.53 1274.34 696.05 1275.18 697.09 1275.7 C698.13 1276.22 699.49 1276.5 699.97 1276.66 L741.23 1276.66 C741.71 1276.5 743.07 1276.22 744.11 1275.7 C745.15 1275.18 746.67 1274.34 747.47 1273.54 C748.27 1272.74 748.95 1271.9 748.91 1270.9 C748.87 1269.9 748.07 1269.1 747.23 1267.54 C746.39 1265.98 745.03 1263.54 743.87 1261.55 C742.71 1259.55 741.51 1257.55 740.27 1255.55 C739.03 1253.55 737.67 1251.25 736.43 1249.55 C735.2 1247.85 733.88 1246.45 732.84 1245.35 C731.8 1244.25 731.2 1243.85 730.2 1242.95 C729.2 1242.05 727.68 1241.15 726.84 1239.95 C726 1238.75 725.66 1237.55 725.16 1235.75 C724.66 1233.95 724.4 1231.45 723.84 1229.16 C723.28 1226.86 722.26 1224.36 721.8 1221.96 C721.34 1219.56 721.1 1216.46 721.08 1214.76 C721.06 1213.06 721.68 1212.56 721.68 1211.76 C721.68 1210.96 721.22 1211.86 721.08 1209.96 C720.94 1208.06 720.78 1202.36 720.84 1200.36 C720.9 1198.37 721.44 1198.77 721.44 1197.97 C721.44 1197.17 720.94 1205.16 720.84 1195.57 C720.74 1185.97 720.74 1149.98 720.84 1140.38 C720.94 1130.79 721.44 1138.78 721.44 1137.98 C721.44 1137.18 720.95 1140.98 720.84 1135.59 C720.73 1130.19 720.79 1110.59 720.78 1105.6Z" fill="url(#pnv2)" stroke="none" stroke-width="0" />
<path d="M720.42 1105.6 C720.41 1110.59 720.47 1130.19 720.36 1135.59 C720.25 1140.98 719.76 1137.18 719.76 1137.98 C719.76 1138.78 720.26 1130.79 720.36 1140.38 C720.46 1149.98 720.46 1185.97 720.36 1195.57 C720.26 1205.16 719.76 1197.17 719.76 1197.97 C719.76 1198.77 720.3 1198.37 720.36 1200.36 C720.42 1202.36 720.26 1208.06 720.12 1209.96 C719.98 1211.86 719.52 1210.96 719.52 1211.76 C719.52 1212.56 720.14 1213.06 720.12 1214.76 C720.1 1216.46 719.86 1219.56 719.4 1221.96 C718.94 1224.36 717.92 1226.86 717.36 1229.16 C716.8 1231.45 716.54 1233.95 716.04 1235.75 C715.54 1237.55 715.2 1238.75 714.36 1239.95 C713.52 1241.15 712 1242.05 711 1242.95 C710 1243.85 709.4 1244.25 708.36 1245.35 C707.32 1246.45 706 1247.85 704.77 1249.55 C703.53 1251.25 702.17 1253.55 700.93 1255.55 C699.69 1257.55 698.49 1259.55 697.33 1261.55 C696.17 1263.54 694.81 1265.98 693.97 1267.54 C693.13 1269.1 692.33 1269.9 692.29 1270.9 C692.25 1271.9 692.93 1272.74 693.73 1273.54 C694.53 1274.34 696.05 1275.18 697.09 1275.7 C698.13 1276.22 699.49 1276.5 699.97 1276.66 L741.23 1276.66 C741.71 1276.5 743.07 1276.22 744.11 1275.7 C745.15 1275.18 746.67 1274.34 747.47 1273.54 C748.27 1272.74 748.95 1271.9 748.91 1270.9 C748.87 1269.9 748.07 1269.1 747.23 1267.54 C746.39 1265.98 745.03 1263.54 743.87 1261.55 C742.71 1259.55 741.51 1257.55 740.27 1255.55 C739.03 1253.55 737.67 1251.25 736.43 1249.55 C735.2 1247.85 733.88 1246.45 732.84 1245.35 C731.8 1244.25 731.2 1243.85 730.2 1242.95 C729.2 1242.05 727.68 1241.15 726.84 1239.95 C726 1238.75 725.66 1237.55 725.16 1235.75 C724.66 1233.95 724.4 1231.45 723.84 1229.16 C723.28 1226.86 722.26 1224.36 721.8 1221.96 C721.34 1219.56 721.1 1216.46 721.08 1214.76 C721.06 1213.06 721.68 1212.56 721.68 1211.76 C721.68 1210.96 721.22 1211.86 721.08 1209.96 C720.94 1208.06 720.78 1202.36 720.84 1200.36 C720.9 1198.37 721.44 1198.77 721.44 1197.97 C721.44 1197.17 720.94 1205.16 720.84 1195.57 C720.74 1185.97 720.74 1149.98 720.84 1140.38 C720.94 1130.79 721.44 1138.78 721.44 1137.98 C721.44 1137.18 720.95 1140.98 720.84 1135.59 C720.73 1130.19 720.79 1110.59 720.78 1105.6Z" fill="none" stroke="#1A1A9A" stroke-width="1.2" stroke-linejoin="round"/>
<circle cx="720.6" cy="1105.8" r="1.6" fill="#1A1A9A" stroke="none" stroke-width="0" />
<circle cx="725.5" cy="1229.5" r="1.5" fill="#1A1A9A" stroke="none" stroke-width="0" />
<text transform="translate(863 1140) rotate(-90)" font-size="29.2" text-anchor="middle">Human serum ECM1 (ng/ml)</text>
<line x1="945.5" y1="1081" x2="945.5" y2="1282.8" stroke="#000" stroke-width="2" stroke-linecap="butt" />
<line x1="937.5" y1="1281.8" x2="1147.8" y2="1281.8" stroke="#000" stroke-width="2" stroke-linecap="butt" />
<line x1="937.5" y1="1081.9" x2="945.5" y2="1081.9" stroke="#000" stroke-width="2" stroke-linecap="butt" />
<text transform="translate(932 1092.56)" font-size="29.2" text-anchor="end">2.0</text>
<line x1="937.5" y1="1131.7" x2="945.5" y2="1131.7" stroke="#000" stroke-width="2" stroke-linecap="butt" />
<text transform="translate(932 1142.36)" font-size="29.2" text-anchor="end">1.5</text>
<line x1="937.5" y1="1181.4" x2="945.5" y2="1181.4" stroke="#000" stroke-width="2" stroke-linecap="butt" />
<text transform="translate(932 1192.06)" font-size="29.2" text-anchor="end">1.0</text>
<line x1="937.5" y1="1231.6" x2="945.5" y2="1231.6" stroke="#000" stroke-width="2" stroke-linecap="butt" />
<text transform="translate(932 1242.26)" font-size="29.2" text-anchor="end">0.5</text>
<line x1="937.5" y1="1281.8" x2="945.5" y2="1281.8" stroke="#000" stroke-width="2" stroke-linecap="butt" />
<text transform="translate(932 1292.46)" font-size="29.2" text-anchor="end">0</text>
<line x1="1004" y1="1281.8" x2="1004" y2="1289.5" stroke="#000" stroke-width="2" stroke-linecap="butt" />
<line x1="1089.5" y1="1281.8" x2="1089.5" y2="1289.5" stroke="#000" stroke-width="2" stroke-linecap="butt" />
<line x1="937.5" y1="1283" x2="1147.8" y2="1283" stroke="#555" stroke-width="0.8" stroke-linecap="butt" stroke-dasharray="1.5 1.5"/>
<text transform="translate(1040.4 1029.5)" font-size="29.2" text-anchor="middle">Female</text>
<text transform="translate(1041.4 1069.3)" font-size="25" text-anchor="middle" font-style="italic">p=0.5113</text>
<line x1="984" y1="1081.9" x2="1092.9" y2="1081.9" stroke="#000" stroke-width="1.7" stroke-linecap="butt" />
<text transform="translate(998.5 1320)" font-size="29.2" text-anchor="middle">HA</text>
<text transform="translate(1089.4 1320)" font-size="29.2" text-anchor="middle">CKD</text>
<text transform="translate(994 1352.4)" font-size="25.3" text-anchor="middle">(n = 46)</text>
<text transform="translate(1102.5 1352.4)" font-size="25.3" text-anchor="middle">(n = 76)</text>
<path d="M999.63 1168.33 C999.42 1168.52 998.98 1167.85 998.37 1169.46 C997.77 1171.07 996.53 1174.69 995.99 1178 C995.44 1181.31 995.59 1185.75 995.11 1189.31 C994.63 1192.87 993.93 1196.22 993.1 1199.36 C992.26 1202.5 990.65 1205.54 990.08 1208.16 C989.52 1210.77 989.16 1212.76 989.7 1215.07 C990.25 1217.37 992.24 1219.78 993.35 1221.98 C994.46 1224.18 996.09 1226.17 996.36 1228.26 C996.64 1230.35 996.53 1232.24 994.98 1234.54 C993.43 1236.85 989.96 1239.57 987.07 1242.08 C984.18 1244.59 979.63 1247.11 977.64 1249.62 C975.65 1252.13 975.44 1254.65 975.13 1257.16 C974.82 1259.67 975.13 1262.18 975.76 1264.7 C976.39 1267.21 977.12 1269.93 978.9 1272.24 C980.68 1274.54 983.93 1276.99 986.44 1278.52 C988.95 1280.05 992.72 1280.93 993.98 1281.41 L1012.82 1281.41 C1014.08 1280.93 1017.85 1280.05 1020.36 1278.52 C1022.87 1276.99 1026.12 1274.54 1027.9 1272.24 C1029.68 1269.93 1030.41 1267.21 1031.04 1264.7 C1031.67 1262.18 1031.98 1259.67 1031.67 1257.16 C1031.36 1254.65 1031.15 1252.13 1029.16 1249.62 C1027.17 1247.11 1022.62 1244.59 1019.73 1242.08 C1016.84 1239.57 1013.37 1236.85 1011.82 1234.54 C1010.27 1232.24 1010.16 1230.35 1010.44 1228.26 C1010.71 1226.17 1012.34 1224.18 1013.45 1221.98 C1014.56 1219.78 1016.55 1217.37 1017.1 1215.07 C1017.64 1212.76 1017.28 1210.77 1016.72 1208.16 C1016.15 1205.54 1014.54 1202.5 1013.7 1199.36 C1012.87 1196.22 1012.17 1192.87 1011.69 1189.31 C1011.21 1185.75 1011.36 1181.31 1010.81 1178 C1010.27 1174.69 1009.03 1171.07 1008.43 1169.46 C1007.82 1167.85 1007.38 1168.52 1007.17 1168.33Z" fill="#DADADA" stroke="none" stroke-width="0" />
<path d="M999.63 1168.33 C999.42 1168.52 998.98 1167.85 998.37 1169.46 C997.77 1171.07 996.53 1174.69 995.99 1178 C995.44 1181.31 995.59 1185.75 995.11 1189.31 C994.63 1192.87 993.93 1196.22 993.1 1199.36 C992.26 1202.5 990.65 1205.54 990.08 1208.16 C989.52 1210.77 989.16 1212.76 989.7 1215.07 C990.25 1217.37 992.24 1219.78 993.35 1221.98 C994.46 1224.18 996.09 1226.17 996.36 1228.26 C996.64 1230.35 996.53 1232.24 994.98 1234.54 C993.43 1236.85 989.96 1239.57 987.07 1242.08 C984.18 1244.59 979.63 1247.11 977.64 1249.62 C975.65 1252.13 975.44 1254.65 975.13 1257.16 C974.82 1259.67 975.13 1262.18 975.76 1264.7 C976.39 1267.21 977.12 1269.93 978.9 1272.24 C980.68 1274.54 983.93 1276.99 986.44 1278.52 C988.95 1280.05 992.72 1280.93 993.98 1281.41 L1012.82 1281.41 C1014.08 1280.93 1017.85 1280.05 1020.36 1278.52 C1022.87 1276.99 1026.12 1274.54 1027.9 1272.24 C1029.68 1269.93 1030.41 1267.21 1031.04 1264.7 C1031.67 1262.18 1031.98 1259.67 1031.67 1257.16 C1031.36 1254.65 1031.15 1252.13 1029.16 1249.62 C1027.17 1247.11 1022.62 1244.59 1019.73 1242.08 C1016.84 1239.57 1013.37 1236.85 1011.82 1234.54 C1010.27 1232.24 1010.16 1230.35 1010.44 1228.26 C1010.71 1226.17 1012.34 1224.18 1013.45 1221.98 C1014.56 1219.78 1016.55 1217.37 1017.1 1215.07 C1017.64 1212.76 1017.28 1210.77 1016.72 1208.16 C1016.15 1205.54 1014.54 1202.5 1013.7 1199.36 C1012.87 1196.22 1012.17 1192.87 1011.69 1189.31 C1011.21 1185.75 1011.36 1181.31 1010.81 1178 C1010.27 1174.69 1009.03 1171.07 1008.43 1169.46 C1007.82 1167.85 1007.38 1168.52 1007.17 1168.33Z" fill="none" stroke="#8E9A1E" stroke-width="1.5" stroke-linejoin="round"/>
<line x1="989.83" y1="1215.44" x2="1016.97" y2="1215.44" stroke="#8E9A1E" stroke-width="1.3" stroke-linecap="butt" />
<line x1="977.64" y1="1250.25" x2="1029.16" y2="1250.25" stroke="#8E9A1E" stroke-width="2" stroke-linecap="butt" />
<line x1="976.51" y1="1267.21" x2="1030.29" y2="1267.21" stroke="#8E9A1E" stroke-width="1.4" stroke-linecap="butt" />
<rect x="1002.25" y="1167.63" width="2.4" height="2.4" fill="#8E9A1E" stroke="none" stroke-width="0" rx="0.8"/>
<rect x="1002.25" y="1172.03" width="2.4" height="2.4" fill="#8E9A1E" stroke="none" stroke-width="0" rx="0.8"/>
<rect x="1002.25" y="1180.82" width="2.4" height="2.4" fill="#8E9A1E" stroke="none" stroke-width="0" rx="0.8"/>
<rect x="1002.25" y="1182.83" width="2.4" height="2.4" fill="#8E9A1E" stroke="none" stroke-width="0" rx="0.8"/>
<rect x="1002.25" y="1189.62" width="2.4" height="2.4" fill="#8E9A1E" stroke="none" stroke-width="0" rx="0.8"/>
<rect x="1006.65" y="1188.86" width="2.4" height="2.4" fill="#8E9A1E" stroke="none" stroke-width="0" rx="0.8"/>
<rect x="1002.25" y="1203.19" width="2.4" height="2.4" fill="#8E9A1E" stroke="none" stroke-width="0" rx="0.8"/>
<rect x="1002.25" y="1205.07" width="2.4" height="2.4" fill="#8E9A1E" stroke="none" stroke-width="0" rx="0.8"/>
<rect x="1002.25" y="1207.33" width="2.4" height="2.4" fill="#8E9A1E" stroke="none" stroke-width="0" rx="0.8"/>
<rect x="1006.65" y="1206.96" width="2.4" height="2.4" fill="#8E9A1E" stroke="none" stroke-width="0" rx="0.8"/>
<rect x="1000.37" y="1214.24" width="2.4" height="2.4" fill="#8E9A1E" stroke="none" stroke-width="0" rx="0.8"/>
<rect x="1004.13" y="1214.24" width="2.4" height="2.4" fill="#8E9A1E" stroke="none" stroke-width="0" rx="0.8"/>
<rect x="1000.37" y="1216.76" width="2.4" height="2.4" fill="#8E9A1E" stroke="none" stroke-width="0" rx="0.8"/>
<rect x="1004.13" y="1216.76" width="2.4" height="2.4" fill="#8E9A1E" stroke="none" stroke-width="0" rx="0.8"/>
<rect x="1002.25" y="1223.29" width="2.4" height="2.4" fill="#8E9A1E" stroke="none" stroke-width="0" rx="0.8"/>
<rect x="1002.25" y="1230.45" width="2.4" height="2.4" fill="#8E9A1E" stroke="none" stroke-width="0" rx="0.8"/>
<rect x="1002.63" y="1240.88" width="2.4" height="2.4" fill="#8E9A1E" stroke="none" stroke-width="0" rx="0.8"/>
<rect x="1002.63" y="1242.77" width="2.4" height="2.4" fill="#8E9A1E" stroke="none" stroke-width="0" rx="0.8"/>
<rect x="1002.63" y="1244.65" width="2.4" height="2.4" fill="#8E9A1E" stroke="none" stroke-width="0" rx="0.8"/>
<rect x="1006.65" y="1243.14" width="2.4" height="2.4" fill="#8E9A1E" stroke="none" stroke-width="0" rx="0.8"/>
<rect x="994.08" y="1246.53" width="2.4" height="2.4" fill="#8E9A1E" stroke="none" stroke-width="0" rx="0.8"/>
<rect x="1002.88" y="1247.79" width="2.4" height="2.4" fill="#8E9A1E" stroke="none" stroke-width="0" rx="0.8"/>
<rect x="1010.42" y="1246.91" width="2.4" height="2.4" fill="#8E9A1E" stroke="none" stroke-width="0" rx="0.8"/>
<rect x="999.11" y="1249.68" width="2.4" height="2.4" fill="#8E9A1E" stroke="none" stroke-width="0" rx="0.8"/>
<rect x="1004.13" y="1252.19" width="2.4" height="2.4" fill="#8E9A1E" stroke="none" stroke-width="0" rx="0.8"/>
<rect x="1002.25" y="1254.07" width="2.4" height="2.4" fill="#8E9A1E" stroke="none" stroke-width="0" rx="0.8"/>
<rect x="1000.37" y="1255.33" width="2.4" height="2.4" fill="#8E9A1E" stroke="none" stroke-width="0" rx="0.8"/>
<rect x="994.08" y="1256.21" width="2.4" height="2.4" fill="#8E9A1E" stroke="none" stroke-width="0" rx="0.8"/>
<rect x="997.22" y="1256.96" width="2.4" height="2.4" fill="#8E9A1E" stroke="none" stroke-width="0" rx="0.8"/>
<rect x="1010.42" y="1255.96" width="2.4" height="2.4" fill="#8E9A1E" stroke="none" stroke-width="0" rx="0.8"/>
<rect x="1010.42" y="1257.47" width="2.4" height="2.4" fill="#8E9A1E" stroke="none" stroke-width="0" rx="0.8"/>
<rect x="1002.63" y="1260.98" width="2.4" height="2.4" fill="#8E9A1E" stroke="none" stroke-width="0" rx="0.8"/>
<rect x="1002.63" y="1262.87" width="2.4" height="2.4" fill="#8E9A1E" stroke="none" stroke-width="0" rx="0.8"/>
<rect x="1006.65" y="1263.75" width="2.4" height="2.4" fill="#8E9A1E" stroke="none" stroke-width="0" rx="0.8"/>
<rect x="1002.63" y="1264.75" width="2.4" height="2.4" fill="#8E9A1E" stroke="none" stroke-width="0" rx="0.8"/>
<rect x="1002.63" y="1268.52" width="2.4" height="2.4" fill="#8E9A1E" stroke="none" stroke-width="0" rx="0.8"/>
<rect x="994.08" y="1271.04" width="2.4" height="2.4" fill="#8E9A1E" stroke="none" stroke-width="0" rx="0.8"/>
<rect x="997.85" y="1271.66" width="2.4" height="2.4" fill="#8E9A1E" stroke="none" stroke-width="0" rx="0.8"/>
<rect x="1002.25" y="1271.04" width="2.4" height="2.4" fill="#8E9A1E" stroke="none" stroke-width="0" rx="0.8"/>
<rect x="1006.65" y="1270.78" width="2.4" height="2.4" fill="#8E9A1E" stroke="none" stroke-width="0" rx="0.8"/>
<rect x="1010.42" y="1270.41" width="2.4" height="2.4" fill="#8E9A1E" stroke="none" stroke-width="0" rx="0.8"/>
<rect x="1002.25" y="1273.3" width="2.4" height="2.4" fill="#8E9A1E" stroke="none" stroke-width="0" rx="0.8"/>
<rect x="1006.65" y="1273.3" width="2.4" height="2.4" fill="#8E9A1E" stroke="none" stroke-width="0" rx="0.8"/>
<rect x="997.85" y="1277.32" width="2.4" height="2.4" fill="#8E9A1E" stroke="none" stroke-width="0" rx="0.8"/>
<rect x="1002.25" y="1277.57" width="2.4" height="2.4" fill="#8E9A1E" stroke="none" stroke-width="0" rx="0.8"/>
<rect x="1006.65" y="1277.95" width="2.4" height="2.4" fill="#8E9A1E" stroke="none" stroke-width="0" rx="0.8"/>
<rect x="997.85" y="1279.58" width="2.4" height="2.4" fill="#8E9A1E" stroke="none" stroke-width="0" rx="0.8"/>
<path d="M1089 1094.45 C1088.85 1094.76 1088.26 1090.37 1088.12 1096.33 C1087.97 1102.3 1088.31 1123.77 1088.12 1130.26 C1087.93 1136.75 1086.95 1133.19 1086.99 1135.28 C1087.03 1137.38 1088.24 1139.89 1088.37 1142.82 C1088.49 1145.75 1088.08 1149.84 1087.74 1152.87 C1087.41 1155.91 1086.3 1158.11 1086.36 1161.04 C1086.42 1163.97 1087.74 1167.22 1088.12 1170.46 C1088.49 1173.71 1088.68 1177.58 1088.62 1180.52 C1088.56 1183.45 1088.54 1185.54 1087.74 1188.05 C1086.95 1190.57 1085.23 1193.08 1083.85 1195.59 C1082.46 1198.11 1080.7 1200.62 1079.45 1203.13 C1078.19 1205.64 1077.04 1207.74 1076.31 1210.67 C1075.57 1213.6 1075.05 1217.79 1075.05 1220.72 C1075.05 1223.65 1076.2 1225.75 1076.31 1228.26 C1076.41 1230.77 1076.52 1233.29 1075.68 1235.8 C1074.84 1238.31 1072.96 1240.82 1071.28 1243.34 C1069.61 1245.85 1067.2 1248.36 1065.63 1250.88 C1064.06 1253.39 1062.53 1256.11 1061.86 1258.41 C1061.19 1260.72 1061.08 1262.6 1061.61 1264.7 C1062.13 1266.79 1063.07 1268.88 1065 1270.98 C1066.93 1273.07 1070.13 1275.52 1073.17 1277.26 C1076.2 1279 1081.54 1280.72 1083.22 1281.41 L1095.78 1281.41 C1097.46 1280.72 1102.8 1279 1105.83 1277.26 C1108.87 1275.52 1112.07 1273.07 1114 1270.98 C1115.93 1268.88 1116.87 1266.79 1117.39 1264.7 C1117.92 1262.6 1117.81 1260.72 1117.14 1258.41 C1116.47 1256.11 1114.94 1253.39 1113.37 1250.88 C1111.8 1248.36 1109.39 1245.85 1107.72 1243.34 C1106.04 1240.82 1104.16 1238.31 1103.32 1235.8 C1102.48 1233.29 1102.59 1230.77 1102.69 1228.26 C1102.8 1225.75 1103.95 1223.65 1103.95 1220.72 C1103.95 1217.79 1103.43 1213.6 1102.69 1210.67 C1101.96 1207.74 1100.81 1205.64 1099.55 1203.13 C1098.3 1200.62 1096.54 1198.11 1095.15 1195.59 C1093.77 1193.08 1092.05 1190.57 1091.26 1188.05 C1090.46 1185.54 1090.44 1183.45 1090.38 1180.52 C1090.32 1177.58 1090.51 1173.71 1090.88 1170.46 C1091.26 1167.22 1092.58 1163.97 1092.64 1161.04 C1092.7 1158.11 1091.59 1155.91 1091.26 1152.87 C1090.92 1149.84 1090.51 1145.75 1090.63 1142.82 C1090.76 1139.89 1091.97 1137.38 1092.01 1135.28 C1092.05 1133.19 1091.07 1136.75 1090.88 1130.26 C1090.69 1123.77 1091.03 1102.3 1090.88 1096.33 C1090.74 1090.37 1090.15 1094.76 1090 1094.45Z" fill="#DADADA" stroke="none" stroke-width="0" />
<path d="M1089 1094.45 C1088.85 1094.76 1088.26 1090.37 1088.12 1096.33 C1087.97 1102.3 1088.31 1123.77 1088.12 1130.26 C1087.93 1136.75 1086.95 1133.19 1086.99 1135.28 C1087.03 1137.38 1088.24 1139.89 1088.37 1142.82 C1088.49 1145.75 1088.08 1149.84 1087.74 1152.87 C1087.41 1155.91 1086.3 1158.11 1086.36 1161.04 C1086.42 1163.97 1087.74 1167.22 1088.12 1170.46 C1088.49 1173.71 1088.68 1177.58 1088.62 1180.52 C1088.56 1183.45 1088.54 1185.54 1087.74 1188.05 C1086.95 1190.57 1085.23 1193.08 1083.85 1195.59 C1082.46 1198.11 1080.7 1200.62 1079.45 1203.13 C1078.19 1205.64 1077.04 1207.74 1076.31 1210.67 C1075.57 1213.6 1075.05 1217.79 1075.05 1220.72 C1075.05 1223.65 1076.2 1225.75 1076.31 1228.26 C1076.41 1230.77 1076.52 1233.29 1075.68 1235.8 C1074.84 1238.31 1072.96 1240.82 1071.28 1243.34 C1069.61 1245.85 1067.2 1248.36 1065.63 1250.88 C1064.06 1253.39 1062.53 1256.11 1061.86 1258.41 C1061.19 1260.72 1061.08 1262.6 1061.61 1264.7 C1062.13 1266.79 1063.07 1268.88 1065 1270.98 C1066.93 1273.07 1070.13 1275.52 1073.17 1277.26 C1076.2 1279 1081.54 1280.72 1083.22 1281.41 L1095.78 1281.41 C1097.46 1280.72 1102.8 1279 1105.83 1277.26 C1108.87 1275.52 1112.07 1273.07 1114 1270.98 C1115.93 1268.88 1116.87 1266.79 1117.39 1264.7 C1117.92 1262.6 1117.81 1260.72 1117.14 1258.41 C1116.47 1256.11 1114.94 1253.39 1113.37 1250.88 C1111.8 1248.36 1109.39 1245.85 1107.72 1243.34 C1106.04 1240.82 1104.16 1238.31 1103.32 1235.8 C1102.48 1233.29 1102.59 1230.77 1102.69 1228.26 C1102.8 1225.75 1103.95 1223.65 1103.95 1220.72 C1103.95 1217.79 1103.43 1213.6 1102.69 1210.67 C1101.96 1207.74 1100.81 1205.64 1099.55 1203.13 C1098.3 1200.62 1096.54 1198.11 1095.15 1195.59 C1093.77 1193.08 1092.05 1190.57 1091.26 1188.05 C1090.46 1185.54 1090.44 1183.45 1090.38 1180.52 C1090.32 1177.58 1090.51 1173.71 1090.88 1170.46 C1091.26 1167.22 1092.58 1163.97 1092.64 1161.04 C1092.7 1158.11 1091.59 1155.91 1091.26 1152.87 C1090.92 1149.84 1090.51 1145.75 1090.63 1142.82 C1090.76 1139.89 1091.97 1137.38 1092.01 1135.28 C1092.05 1133.19 1091.07 1136.75 1090.88 1130.26 C1090.69 1123.77 1091.03 1102.3 1090.88 1096.33 C1090.74 1090.37 1090.15 1094.76 1090 1094.45Z" fill="none" stroke="#1A1A9A" stroke-width="1.3" stroke-linejoin="round"/>
<rect x="1087.9" y="1096" width="3.2" height="36" fill="#fff" stroke="none" stroke-width="0" />
<rect x="1087.9" y="1134" width="3.2" height="3.6" fill="#fff" stroke="none" stroke-width="0" />
<line x1="1075.3" y1="1220.72" x2="1103.7" y2="1220.72" stroke="#1A1A9A" stroke-width="1.4" stroke-linecap="butt" />
<line x1="1069.4" y1="1247.11" x2="1109.6" y2="1247.11" stroke="#1A1A9A" stroke-width="1.4" stroke-linecap="butt" />
<line x1="1061.73" y1="1264.32" x2="1117.27" y2="1264.32" stroke="#1A1A9A" stroke-width="1.5" stroke-linecap="butt" />
<rect x="1088.17" y="1094.36" width="2.7" height="2.7" fill="#1A1A9A" stroke="none" stroke-width="0" rx="0.9"/>
<rect x="1088.17" y="1109.43" width="2.7" height="2.7" fill="#1A1A9A" stroke="none" stroke-width="0" rx="0.9"/>
<rect x="1088.17" y="1128.91" width="2.7" height="2.7" fill="#1A1A9A" stroke="none" stroke-width="0" rx="0.9"/>
<rect x="1085.9" y="1159.69" width="2.7" height="2.7" fill="#1A1A9A" stroke="none" stroke-width="0" rx="0.9"/>
<rect x="1090.43" y="1159.69" width="2.7" height="2.7" fill="#1A1A9A" stroke="none" stroke-width="0" rx="0.9"/>
<rect x="1088.17" y="1179.17" width="2.7" height="2.7" fill="#1A1A9A" stroke="none" stroke-width="0" rx="0.9"/>
<rect x="1084.4" y="1198.01" width="2.7" height="2.7" fill="#1A1A9A" stroke="none" stroke-width="0" rx="0.9"/>
<rect x="1088.17" y="1199.9" width="2.7" height="2.7" fill="#1A1A9A" stroke="none" stroke-width="0" rx="0.9"/>
<rect x="1091.31" y="1198.01" width="2.7" height="2.7" fill="#1A1A9A" stroke="none" stroke-width="0" rx="0.9"/>
<rect x="1088.17" y="1203.04" width="2.7" height="2.7" fill="#1A1A9A" stroke="none" stroke-width="0" rx="0.9"/>
<rect x="1080" y="1206.81" width="2.7" height="2.7" fill="#1A1A9A" stroke="none" stroke-width="0" rx="0.9"/>
<rect x="1084.4" y="1208.06" width="2.7" height="2.7" fill="#1A1A9A" stroke="none" stroke-width="0" rx="0.9"/>
<rect x="1088.17" y="1208.06" width="2.7" height="2.7" fill="#1A1A9A" stroke="none" stroke-width="0" rx="0.9"/>
<rect x="1092.19" y="1208.06" width="2.7" height="2.7" fill="#1A1A9A" stroke="none" stroke-width="0" rx="0.9"/>
<rect x="1088.17" y="1213.72" width="2.7" height="2.7" fill="#1A1A9A" stroke="none" stroke-width="0" rx="0.9"/>
<rect x="1080.25" y="1220.13" width="2.7" height="2.7" fill="#1A1A9A" stroke="none" stroke-width="0" rx="0.9"/>
<rect x="1084.02" y="1219.5" width="2.7" height="2.7" fill="#1A1A9A" stroke="none" stroke-width="0" rx="0.9"/>
<rect x="1088.67" y="1219.87" width="2.7" height="2.7" fill="#1A1A9A" stroke="none" stroke-width="0" rx="0.9"/>
<rect x="1091.43" y="1219.75" width="2.7" height="2.7" fill="#1A1A9A" stroke="none" stroke-width="0" rx="0.9"/>
<rect x="1095.83" y="1219.87" width="2.7" height="2.7" fill="#1A1A9A" stroke="none" stroke-width="0" rx="0.9"/>
<rect x="1080.25" y="1223.27" width="2.7" height="2.7" fill="#1A1A9A" stroke="none" stroke-width="0" rx="0.9"/>
<rect x="1083.89" y="1224.02" width="2.7" height="2.7" fill="#1A1A9A" stroke="none" stroke-width="0" rx="0.9"/>
<rect x="1088.17" y="1223.14" width="2.7" height="2.7" fill="#1A1A9A" stroke="none" stroke-width="0" rx="0.9"/>
<rect x="1091.94" y="1224.02" width="2.7" height="2.7" fill="#1A1A9A" stroke="none" stroke-width="0" rx="0.9"/>
<rect x="1084.52" y="1226.28" width="2.7" height="2.7" fill="#1A1A9A" stroke="none" stroke-width="0" rx="0.9"/>
<rect x="1088.29" y="1227.41" width="2.7" height="2.7" fill="#1A1A9A" stroke="none" stroke-width="0" rx="0.9"/>
<rect x="1091.81" y="1226.41" width="2.7" height="2.7" fill="#1A1A9A" stroke="none" stroke-width="0" rx="0.9"/>
<rect x="1095.7" y="1226.28" width="2.7" height="2.7" fill="#1A1A9A" stroke="none" stroke-width="0" rx="0.9"/>
<rect x="1084.9" y="1230.05" width="2.7" height="2.7" fill="#1A1A9A" stroke="none" stroke-width="0" rx="0.9"/>
<rect x="1088.17" y="1230.68" width="2.7" height="2.7" fill="#1A1A9A" stroke="none" stroke-width="0" rx="0.9"/>
<rect x="1091.94" y="1230.55" width="2.7" height="2.7" fill="#1A1A9A" stroke="none" stroke-width="0" rx="0.9"/>
<rect x="1095.96" y="1230.68" width="2.7" height="2.7" fill="#1A1A9A" stroke="none" stroke-width="0" rx="0.9"/>
<rect x="1081" y="1233.19" width="2.7" height="2.7" fill="#1A1A9A" stroke="none" stroke-width="0" rx="0.9"/>
<rect x="1084.4" y="1232.94" width="2.7" height="2.7" fill="#1A1A9A" stroke="none" stroke-width="0" rx="0.9"/>
<rect x="1088.54" y="1234.2" width="2.7" height="2.7" fill="#1A1A9A" stroke="none" stroke-width="0" rx="0.9"/>
<rect x="1096.08" y="1233.57" width="2.7" height="2.7" fill="#1A1A9A" stroke="none" stroke-width="0" rx="0.9"/>
<rect x="1080.5" y="1236.46" width="2.7" height="2.7" fill="#1A1A9A" stroke="none" stroke-width="0" rx="0.9"/>
<rect x="1084.27" y="1237.59" width="2.7" height="2.7" fill="#1A1A9A" stroke="none" stroke-width="0" rx="0.9"/>
<rect x="1088.17" y="1236.58" width="2.7" height="2.7" fill="#1A1A9A" stroke="none" stroke-width="0" rx="0.9"/>
<rect x="1092.06" y="1237.59" width="2.7" height="2.7" fill="#1A1A9A" stroke="none" stroke-width="0" rx="0.9"/>
<rect x="1095.83" y="1236.46" width="2.7" height="2.7" fill="#1A1A9A" stroke="none" stroke-width="0" rx="0.9"/>
<rect x="1080.5" y="1240.23" width="2.7" height="2.7" fill="#1A1A9A" stroke="none" stroke-width="0" rx="0.9"/>
<rect x="1084.27" y="1239.85" width="2.7" height="2.7" fill="#1A1A9A" stroke="none" stroke-width="0" rx="0.9"/>
<rect x="1087.91" y="1240.23" width="2.7" height="2.7" fill="#1A1A9A" stroke="none" stroke-width="0" rx="0.9"/>
<rect x="1091.43" y="1240.35" width="2.7" height="2.7" fill="#1A1A9A" stroke="none" stroke-width="0" rx="0.9"/>
<rect x="1095.7" y="1240.98" width="2.7" height="2.7" fill="#1A1A9A" stroke="none" stroke-width="0" rx="0.9"/>
<rect x="1080.63" y="1243.75" width="2.7" height="2.7" fill="#1A1A9A" stroke="none" stroke-width="0" rx="0.9"/>
<rect x="1088.42" y="1244.25" width="2.7" height="2.7" fill="#1A1A9A" stroke="none" stroke-width="0" rx="0.9"/>
<rect x="1091.56" y="1243.62" width="2.7" height="2.7" fill="#1A1A9A" stroke="none" stroke-width="0" rx="0.9"/>
<rect x="1096.08" y="1243.62" width="2.7" height="2.7" fill="#1A1A9A" stroke="none" stroke-width="0" rx="0.9"/>
<rect x="1099.73" y="1244.25" width="2.7" height="2.7" fill="#1A1A9A" stroke="none" stroke-width="0" rx="0.9"/>
<rect x="1080.13" y="1247.14" width="2.7" height="2.7" fill="#1A1A9A" stroke="none" stroke-width="0" rx="0.9"/>
<rect x="1084.15" y="1247.14" width="2.7" height="2.7" fill="#1A1A9A" stroke="none" stroke-width="0" rx="0.9"/>
<rect x="1088.29" y="1247.01" width="2.7" height="2.7" fill="#1A1A9A" stroke="none" stroke-width="0" rx="0.9"/>
<rect x="1092.31" y="1246.89" width="2.7" height="2.7" fill="#1A1A9A" stroke="none" stroke-width="0" rx="0.9"/>
<rect x="1095.58" y="1246.64" width="2.7" height="2.7" fill="#1A1A9A" stroke="none" stroke-width="0" rx="0.9"/>
<rect x="1098.97" y="1246.76" width="2.7" height="2.7" fill="#1A1A9A" stroke="none" stroke-width="0" rx="0.9"/>
<rect x="1072.84" y="1251.03" width="2.7" height="2.7" fill="#1A1A9A" stroke="none" stroke-width="0" rx="0.9"/>
<rect x="1077.24" y="1251.03" width="2.7" height="2.7" fill="#1A1A9A" stroke="none" stroke-width="0" rx="0.9"/>
<rect x="1080.13" y="1250.03" width="2.7" height="2.7" fill="#1A1A9A" stroke="none" stroke-width="0" rx="0.9"/>
<rect x="1084.4" y="1250.66" width="2.7" height="2.7" fill="#1A1A9A" stroke="none" stroke-width="0" rx="0.9"/>
<rect x="1088.04" y="1250.78" width="2.7" height="2.7" fill="#1A1A9A" stroke="none" stroke-width="0" rx="0.9"/>
<rect x="1092.31" y="1250.66" width="2.7" height="2.7" fill="#1A1A9A" stroke="none" stroke-width="0" rx="0.9"/>
<rect x="1095.58" y="1250.66" width="2.7" height="2.7" fill="#1A1A9A" stroke="none" stroke-width="0" rx="0.9"/>
<rect x="1099.73" y="1250.28" width="2.7" height="2.7" fill="#1A1A9A" stroke="none" stroke-width="0" rx="0.9"/>
<rect x="1102.74" y="1249.9" width="2.7" height="2.7" fill="#1A1A9A" stroke="none" stroke-width="0" rx="0.9"/>
<rect x="1072.96" y="1254.3" width="2.7" height="2.7" fill="#1A1A9A" stroke="none" stroke-width="0" rx="0.9"/>
<rect x="1076.73" y="1254.05" width="2.7" height="2.7" fill="#1A1A9A" stroke="none" stroke-width="0" rx="0.9"/>
<rect x="1083.89" y="1253.92" width="2.7" height="2.7" fill="#1A1A9A" stroke="none" stroke-width="0" rx="0.9"/>
<rect x="1088.42" y="1254.55" width="2.7" height="2.7" fill="#1A1A9A" stroke="none" stroke-width="0" rx="0.9"/>
<rect x="1091.43" y="1254.17" width="2.7" height="2.7" fill="#1A1A9A" stroke="none" stroke-width="0" rx="0.9"/>
<rect x="1095.96" y="1253.67" width="2.7" height="2.7" fill="#1A1A9A" stroke="none" stroke-width="0" rx="0.9"/>
<rect x="1102.99" y="1253.92" width="2.7" height="2.7" fill="#1A1A9A" stroke="none" stroke-width="0" rx="0.9"/>
<rect x="1073.47" y="1257.94" width="2.7" height="2.7" fill="#1A1A9A" stroke="none" stroke-width="0" rx="0.9"/>
<rect x="1077.11" y="1257.69" width="2.7" height="2.7" fill="#1A1A9A" stroke="none" stroke-width="0" rx="0.9"/>
<rect x="1080.63" y="1257.32" width="2.7" height="2.7" fill="#1A1A9A" stroke="none" stroke-width="0" rx="0.9"/>
<rect x="1091.94" y="1257.94" width="2.7" height="2.7" fill="#1A1A9A" stroke="none" stroke-width="0" rx="0.9"/>
<rect x="1095.2" y="1257.44" width="2.7" height="2.7" fill="#1A1A9A" stroke="none" stroke-width="0" rx="0.9"/>
<rect x="1103.24" y="1257.94" width="2.7" height="2.7" fill="#1A1A9A" stroke="none" stroke-width="0" rx="0.9"/>
<rect x="1081" y="1261.21" width="2.7" height="2.7" fill="#1A1A9A" stroke="none" stroke-width="0" rx="0.9"/>
<rect x="1084.65" y="1260.83" width="2.7" height="2.7" fill="#1A1A9A" stroke="none" stroke-width="0" rx="0.9"/>
<rect x="1087.66" y="1260.46" width="2.7" height="2.7" fill="#1A1A9A" stroke="none" stroke-width="0" rx="0.9"/>
<rect x="1095.7" y="1260.21" width="2.7" height="2.7" fill="#1A1A9A" stroke="none" stroke-width="0" rx="0.9"/>
<rect x="1099.73" y="1260.46" width="2.7" height="2.7" fill="#1A1A9A" stroke="none" stroke-width="0" rx="0.9"/>
<rect x="1103.12" y="1260.33" width="2.7" height="2.7" fill="#1A1A9A" stroke="none" stroke-width="0" rx="0.9"/>
<rect x="1076.98" y="1264.48" width="2.7" height="2.7" fill="#1A1A9A" stroke="none" stroke-width="0" rx="0.9"/>
<rect x="1081" y="1264.48" width="2.7" height="2.7" fill="#1A1A9A" stroke="none" stroke-width="0" rx="0.9"/>
<rect x="1084.02" y="1263.47" width="2.7" height="2.7" fill="#1A1A9A" stroke="none" stroke-width="0" rx="0.9"/>
<rect x="1087.79" y="1264.35" width="2.7" height="2.7" fill="#1A1A9A" stroke="none" stroke-width="0" rx="0.9"/>
<rect x="1091.94" y="1264.6" width="2.7" height="2.7" fill="#1A1A9A" stroke="none" stroke-width="0" rx="0.9"/>
<rect x="1095.2" y="1264.1" width="2.7" height="2.7" fill="#1A1A9A" stroke="none" stroke-width="0" rx="0.9"/>
<rect x="1099.98" y="1263.47" width="2.7" height="2.7" fill="#1A1A9A" stroke="none" stroke-width="0" rx="0.9"/>
<rect x="1076.98" y="1266.99" width="2.7" height="2.7" fill="#1A1A9A" stroke="none" stroke-width="0" rx="0.9"/>
<rect x="1081.13" y="1267.74" width="2.7" height="2.7" fill="#1A1A9A" stroke="none" stroke-width="0" rx="0.9"/>
<rect x="1084.4" y="1267.62" width="2.7" height="2.7" fill="#1A1A9A" stroke="none" stroke-width="0" rx="0.9"/>
<rect x="1088.54" y="1267.62" width="2.7" height="2.7" fill="#1A1A9A" stroke="none" stroke-width="0" rx="0.9"/>
<rect x="1091.56" y="1268" width="2.7" height="2.7" fill="#1A1A9A" stroke="none" stroke-width="0" rx="0.9"/>
<rect x="1095.83" y="1267.87" width="2.7" height="2.7" fill="#1A1A9A" stroke="none" stroke-width="0" rx="0.9"/>
<rect x="1081" y="1270.38" width="2.7" height="2.7" fill="#1A1A9A" stroke="none" stroke-width="0" rx="0.9"/>
<rect x="1084.27" y="1271.51" width="2.7" height="2.7" fill="#1A1A9A" stroke="none" stroke-width="0" rx="0.9"/>
<rect x="1088.54" y="1271.01" width="2.7" height="2.7" fill="#1A1A9A" stroke="none" stroke-width="0" rx="0.9"/>
<rect x="1092.44" y="1270.51" width="2.7" height="2.7" fill="#1A1A9A" stroke="none" stroke-width="0" rx="0.9"/>
<rect x="1095.45" y="1270.51" width="2.7" height="2.7" fill="#1A1A9A" stroke="none" stroke-width="0" rx="0.9"/>
<rect x="1080.75" y="1274.53" width="2.7" height="2.7" fill="#1A1A9A" stroke="none" stroke-width="0" rx="0.9"/>
<rect x="1087.66" y="1273.9" width="2.7" height="2.7" fill="#1A1A9A" stroke="none" stroke-width="0" rx="0.9"/>
<rect x="1091.94" y="1273.78" width="2.7" height="2.7" fill="#1A1A9A" stroke="none" stroke-width="0" rx="0.9"/>
<rect x="1096.08" y="1274.78" width="2.7" height="2.7" fill="#1A1A9A" stroke="none" stroke-width="0" rx="0.9"/>
<rect x="1087.79" y="1278.05" width="2.7" height="2.7" fill="#1A1A9A" stroke="none" stroke-width="0" rx="0.9"/>
<text transform="translate(33 1415)" font-size="46" text-anchor="start" font-weight="bold">i</text>
<text transform="translate(22 1561.5) rotate(-90)" font-size="25" text-anchor="middle">Serum ECM1 levels</text>
<text transform="translate(55 1565.7) rotate(-90)" font-size="25" text-anchor="middle">(ng/ml)</text>
<line x1="110.7" y1="1473.6" x2="110.7" y2="1675.5" stroke="#000" stroke-width="2.1" stroke-linecap="butt" />
<line x1="102.2" y1="1674.6" x2="411.2" y2="1674.6" stroke="#000" stroke-width="2.1" stroke-linecap="butt" />
<line x1="102.7" y1="1474.5" x2="110.7" y2="1474.5" stroke="#000" stroke-width="2.1" stroke-linecap="butt" />
<text transform="translate(98.9 1483.45)" font-size="25" text-anchor="end">30</text>
<line x1="102.7" y1="1541.3" x2="110.7" y2="1541.3" stroke="#000" stroke-width="2.1" stroke-linecap="butt" />
<text transform="translate(98.9 1550.25)" font-size="25" text-anchor="end">20</text>
<line x1="102.7" y1="1608.2" x2="110.7" y2="1608.2" stroke="#000" stroke-width="2.1" stroke-linecap="butt" />
<text transform="translate(98.9 1617.15)" font-size="25" text-anchor="end">10</text>
<line x1="102.7" y1="1674.6" x2="110.7" y2="1674.6" stroke="#000" stroke-width="2.1" stroke-linecap="butt" />
<text transform="translate(98.9 1683.55)" font-size="25" text-anchor="end">0</text>
<line x1="170.1" y1="1674.6" x2="170.1" y2="1683.6" stroke="#000" stroke-width="2.1" stroke-linecap="butt" />
<line x1="260.3" y1="1674.6" x2="260.3" y2="1683.6" stroke="#000" stroke-width="2.1" stroke-linecap="butt" />
<line x1="350.5" y1="1674.6" x2="350.5" y2="1683.6" stroke="#000" stroke-width="2.1" stroke-linecap="butt" />
<text transform="translate(167 1708.2)" font-size="28.8" text-anchor="middle" font-style="italic">db/lean</text>
<text transform="translate(262 1708.2)" font-size="28.8" text-anchor="middle">16W</text>
<text transform="translate(353 1708.2)" font-size="28.8" text-anchor="middle">28W</text>
<line x1="235.7" y1="1716.4" x2="367.7" y2="1716.4" stroke="#000" stroke-width="1.6" stroke-linecap="butt" />
<text transform="translate(298.4 1745)" font-size="28.8" text-anchor="middle" font-style="italic">db/db</text>
<text transform="translate(272.6 1447)" font-size="25" text-anchor="middle" font-style="italic">p=2.83e-5</text>
<line x1="166" y1="1456" x2="364" y2="1456" stroke="#000" stroke-width="1.6" stroke-linecap="butt" />
<text transform="translate(208.2 1482.7)" font-size="25" text-anchor="middle" font-style="italic">p=0.0157</text>
<line x1="159" y1="1494.2" x2="260.3" y2="1494.2" stroke="#000" stroke-width="1.6" stroke-linecap="butt" />
<text transform="translate(325 1480.7)" font-size="25" text-anchor="middle" font-style="italic">p=0.0652</text>
<line x1="266.4" y1="1494.2" x2="364.8" y2="1494.2" stroke="#000" stroke-width="1.6" stroke-linecap="butt" />
<circle cx="154.95" cy="1661.86" r="2.85" fill="#C1272D" stroke="none" stroke-width="0" />
<circle cx="159.87" cy="1658.99" r="2.85" fill="#C1272D" stroke="none" stroke-width="0" />
<circle cx="164.79" cy="1663.5" r="2.85" fill="#C1272D" stroke="none" stroke-width="0" />
<circle cx="169.71" cy="1660.22" r="2.85" fill="#C1272D" stroke="none" stroke-width="0" />
<circle cx="174.63" cy="1663.5" r="2.85" fill="#C1272D" stroke="none" stroke-width="0" />
<circle cx="178.73" cy="1656.94" r="2.85" fill="#C1272D" stroke="none" stroke-width="0" />
<circle cx="182.82" cy="1661.86" r="2.85" fill="#C1272D" stroke="none" stroke-width="0" />
<circle cx="186.51" cy="1664.32" r="2.85" fill="#C1272D" stroke="none" stroke-width="0" />
<circle cx="177.09" cy="1665.14" r="2.85" fill="#C1272D" stroke="none" stroke-width="0" />
<circle cx="162.33" cy="1661.86" r="2.85" fill="#C1272D" stroke="none" stroke-width="0" />
<line x1="141.4" y1="1661.5" x2="200" y2="1661.5" stroke="#000" stroke-width="1.7" stroke-linecap="butt" />
<line x1="260.3" y1="1614.3" x2="260.3" y2="1637.7" stroke="#A5B24A" stroke-width="1.3" stroke-linecap="butt" />
<line x1="245.55" y1="1614.3" x2="275.05" y2="1614.3" stroke="#A5B24A" stroke-width="1.3" stroke-linecap="butt" />
<line x1="245.55" y1="1637.7" x2="275.05" y2="1637.7" stroke="#A5B24A" stroke-width="1.3" stroke-linecap="butt" />
<circle cx="260.3" cy="1515.11" r="2.85" fill="#8A9A2B" stroke="none" stroke-width="0" />
<circle cx="260.3" cy="1608.16" r="2.85" fill="#8A9A2B" stroke="none" stroke-width="0" />
<circle cx="250.05" cy="1619.23" r="2.85" fill="#8A9A2B" stroke="none" stroke-width="0" />
<circle cx="270.55" cy="1619.23" r="2.85" fill="#8A9A2B" stroke="none" stroke-width="0" />
<circle cx="260.3" cy="1632.35" r="2.85" fill="#8A9A2B" stroke="none" stroke-width="0" />
<circle cx="254.97" cy="1638.5" r="2.85" fill="#8A9A2B" stroke="none" stroke-width="0" />
<circle cx="265.63" cy="1638.5" r="2.85" fill="#8A9A2B" stroke="none" stroke-width="0" />
<circle cx="250.05" cy="1642.6" r="2.85" fill="#8A9A2B" stroke="none" stroke-width="0" />
<circle cx="270.55" cy="1642.6" r="2.85" fill="#8A9A2B" stroke="none" stroke-width="0" />
<circle cx="254.97" cy="1647.93" r="2.85" fill="#8A9A2B" stroke="none" stroke-width="0" />
<circle cx="265.63" cy="1650.8" r="2.85" fill="#8A9A2B" stroke="none" stroke-width="0" />
<circle cx="256.2" cy="1653.66" r="2.85" fill="#8A9A2B" stroke="none" stroke-width="0" />
<line x1="230.8" y1="1625.8" x2="290.2" y2="1625.8" stroke="#000" stroke-width="1.7" stroke-linecap="butt" />
<line x1="350.5" y1="1589.3" x2="350.5" y2="1606.9" stroke="#3A3AB8" stroke-width="1.3" stroke-linecap="butt" />
<line x1="336.1" y1="1589.3" x2="364.9" y2="1589.3" stroke="#3A3AB8" stroke-width="1.3" stroke-linecap="butt" />
<line x1="336.1" y1="1606.9" x2="364.9" y2="1606.9" stroke="#3A3AB8" stroke-width="1.3" stroke-linecap="butt" />
<circle cx="350.48" cy="1529.05" r="2.85" fill="#14148C" stroke="none" stroke-width="0" />
<circle cx="350.48" cy="1577.01" r="2.85" fill="#14148C" stroke="none" stroke-width="0" />
<circle cx="345.56" cy="1591.36" r="2.85" fill="#14148C" stroke="none" stroke-width="0" />
<circle cx="355.4" cy="1591.36" r="2.85" fill="#14148C" stroke="none" stroke-width="0" />
<circle cx="350.48" cy="1597.51" r="2.85" fill="#14148C" stroke="none" stroke-width="0" />
<circle cx="346.38" cy="1603.65" r="2.85" fill="#14148C" stroke="none" stroke-width="0" />
<circle cx="355.4" cy="1603.65" r="2.85" fill="#14148C" stroke="none" stroke-width="0" />
<circle cx="350.48" cy="1615.95" r="2.85" fill="#14148C" stroke="none" stroke-width="0" />
<circle cx="346.38" cy="1618" r="2.85" fill="#14148C" stroke="none" stroke-width="0" />
<circle cx="350.48" cy="1627.43" r="2.85" fill="#14148C" stroke="none" stroke-width="0" />
<circle cx="350.48" cy="1633.58" r="2.85" fill="#14148C" stroke="none" stroke-width="0" />
<line x1="321" y1="1597.9" x2="380" y2="1597.9" stroke="#000" stroke-width="1.7" stroke-linecap="butt" />
<text transform="translate(452 1552.5) rotate(-90)" font-size="25" text-anchor="middle">Urinary ECM1 levels</text>
<text transform="translate(485 1566.8) rotate(-90)" font-size="25" text-anchor="middle">(ng/mg cre)</text>
<line x1="545.2" y1="1470.4" x2="545.2" y2="1673" stroke="#000" stroke-width="2.1" stroke-linecap="butt" />
<line x1="536.8" y1="1672.1" x2="845.7" y2="1672.1" stroke="#000" stroke-width="2.1" stroke-linecap="butt" />
<line x1="537.2" y1="1471.3" x2="545.2" y2="1471.3" stroke="#000" stroke-width="2.1" stroke-linecap="butt" />
<text transform="translate(533.4 1480.25)" font-size="25" text-anchor="end">60</text>
<line x1="537.2" y1="1538" x2="545.2" y2="1538" stroke="#000" stroke-width="2.1" stroke-linecap="butt" />
<text transform="translate(533.4 1546.95)" font-size="25" text-anchor="end">40</text>
<line x1="537.2" y1="1605.3" x2="545.2" y2="1605.3" stroke="#000" stroke-width="2.1" stroke-linecap="butt" />
<text transform="translate(533.4 1614.25)" font-size="25" text-anchor="end">20</text>
<line x1="537.2" y1="1672.1" x2="545.2" y2="1672.1" stroke="#000" stroke-width="2.1" stroke-linecap="butt" />
<text transform="translate(533.4 1681.05)" font-size="25" text-anchor="end">0</text>
<line x1="605.5" y1="1672.1" x2="605.5" y2="1681.1" stroke="#000" stroke-width="2.1" stroke-linecap="butt" />
<line x1="695.6" y1="1672.1" x2="695.6" y2="1681.1" stroke="#000" stroke-width="2.1" stroke-linecap="butt" />
<line x1="785.8" y1="1672.1" x2="785.8" y2="1681.1" stroke="#000" stroke-width="2.1" stroke-linecap="butt" />
<text transform="translate(607 1708.2)" font-size="28.8" text-anchor="middle" font-style="italic">db/lean</text>
<text transform="translate(700 1708.2)" font-size="28.8" text-anchor="middle">16W</text>
<text transform="translate(793 1708.2)" font-size="28.8" text-anchor="middle">28W</text>
<line x1="675.5" y1="1715.6" x2="807.5" y2="1715.6" stroke="#000" stroke-width="1.6" stroke-linecap="butt" />
<text transform="translate(737.9 1745)" font-size="28.8" text-anchor="middle" font-style="italic">db/db</text>
<text transform="translate(701 1418.4)" font-size="25" text-anchor="middle" font-style="italic">p=0.7715</text>
<line x1="579.2" y1="1431.5" x2="815.7" y2="1431.5" stroke="#000" stroke-width="1.6" stroke-linecap="butt" />
<text transform="translate(637.4 1458.1)" font-size="25" text-anchor="middle" font-style="italic">p=0.042</text>
<line x1="579.2" y1="1470.4" x2="690.7" y2="1470.4" stroke="#000" stroke-width="1.6" stroke-linecap="butt" />
<text transform="translate(758.4 1457)" font-size="25" text-anchor="middle" font-style="italic">p=0.1694</text>
<line x1="695.6" y1="1470.4" x2="807.5" y2="1470.4" stroke="#000" stroke-width="1.6" stroke-linecap="butt" />
<circle cx="577.99" cy="1668.42" r="2.85" fill="#C1272D" stroke="none" stroke-width="0" />
<circle cx="584.14" cy="1666.78" r="2.85" fill="#C1272D" stroke="none" stroke-width="0" />
<circle cx="590.28" cy="1665.96" r="2.85" fill="#C1272D" stroke="none" stroke-width="0" />
<circle cx="596.43" cy="1665.96" r="2.85" fill="#C1272D" stroke="none" stroke-width="0" />
<circle cx="602.58" cy="1665.96" r="2.85" fill="#C1272D" stroke="none" stroke-width="0" />
<circle cx="608.73" cy="1669.24" r="2.85" fill="#C1272D" stroke="none" stroke-width="0" />
<circle cx="614.88" cy="1665.96" r="2.85" fill="#C1272D" stroke="none" stroke-width="0" />
<circle cx="621.03" cy="1667.6" r="2.85" fill="#C1272D" stroke="none" stroke-width="0" />
<circle cx="627.18" cy="1665.14" r="2.85" fill="#C1272D" stroke="none" stroke-width="0" />
<circle cx="633.33" cy="1667.6" r="2.85" fill="#C1272D" stroke="none" stroke-width="0" />
<circle cx="605.45" cy="1655.3" r="2.85" fill="#C1272D" stroke="none" stroke-width="0" />
<line x1="576" y1="1666" x2="635.4" y2="1666" stroke="#000" stroke-width="1.7" stroke-linecap="butt" />
<line x1="695.6" y1="1616.8" x2="695.6" y2="1648.3" stroke="#A5B24A" stroke-width="1.3" stroke-linecap="butt" />
<line x1="681.05" y1="1616.8" x2="710.15" y2="1616.8" stroke="#A5B24A" stroke-width="1.3" stroke-linecap="butt" />
<line x1="681.05" y1="1648.3" x2="710.15" y2="1648.3" stroke="#A5B24A" stroke-width="1.3" stroke-linecap="butt" />
<circle cx="695.63" cy="1496.26" r="2.85" fill="#8A9A2B" stroke="none" stroke-width="0" />
<circle cx="695.63" cy="1573.73" r="2.85" fill="#8A9A2B" stroke="none" stroke-width="0" />
<circle cx="695.63" cy="1632.35" r="2.85" fill="#8A9A2B" stroke="none" stroke-width="0" />
<circle cx="692.76" cy="1642.6" r="2.85" fill="#8A9A2B" stroke="none" stroke-width="0" />
<circle cx="690.72" cy="1658.99" r="2.85" fill="#8A9A2B" stroke="none" stroke-width="0" />
<circle cx="700.96" cy="1658.99" r="2.85" fill="#8A9A2B" stroke="none" stroke-width="0" />
<circle cx="683.75" cy="1661.86" r="2.85" fill="#8A9A2B" stroke="none" stroke-width="0" />
<circle cx="707.11" cy="1661.86" r="2.85" fill="#8A9A2B" stroke="none" stroke-width="0" />
<circle cx="683.75" cy="1665.14" r="2.85" fill="#8A9A2B" stroke="none" stroke-width="0" />
<circle cx="695.63" cy="1664.32" r="2.85" fill="#8A9A2B" stroke="none" stroke-width="0" />
<line x1="666" y1="1632.4" x2="725.6" y2="1632.4" stroke="#000" stroke-width="1.7" stroke-linecap="butt" />
<line x1="785.8" y1="1652.8" x2="785.8" y2="1660.2" stroke="#3A3AB8" stroke-width="1.3" stroke-linecap="butt" />
<line x1="770.8" y1="1652.8" x2="800.8" y2="1652.8" stroke="#3A3AB8" stroke-width="1.3" stroke-linecap="butt" />
<line x1="770.8" y1="1660.2" x2="800.8" y2="1660.2" stroke="#3A3AB8" stroke-width="1.3" stroke-linecap="butt" />
<circle cx="785.82" cy="1630.71" r="2.85" fill="#14148C" stroke="none" stroke-width="0" />
<circle cx="785.82" cy="1637.27" r="2.85" fill="#14148C" stroke="none" stroke-width="0" />
<circle cx="790.33" cy="1650.8" r="2.85" fill="#14148C" stroke="none" stroke-width="0" />
<circle cx="780.9" cy="1654.89" r="2.85" fill="#14148C" stroke="none" stroke-width="0" />
<circle cx="795.24" cy="1656.94" r="2.85" fill="#14148C" stroke="none" stroke-width="0" />
<circle cx="776.8" cy="1661.04" r="2.85" fill="#14148C" stroke="none" stroke-width="0" />
<circle cx="785.82" cy="1661.86" r="2.85" fill="#14148C" stroke="none" stroke-width="0" />
<circle cx="799.34" cy="1661.86" r="2.85" fill="#14148C" stroke="none" stroke-width="0" />
<circle cx="772.7" cy="1668.42" r="2.85" fill="#14148C" stroke="none" stroke-width="0" />
<circle cx="785.82" cy="1667.19" r="2.85" fill="#14148C" stroke="none" stroke-width="0" />
<circle cx="797.29" cy="1665.96" r="2.85" fill="#14148C" stroke="none" stroke-width="0" />
<line x1="756.3" y1="1657" x2="815.7" y2="1657" stroke="#000" stroke-width="1.7" stroke-linecap="butt" />
<text transform="translate(897 1416)" font-size="46" text-anchor="start" font-weight="bold">j</text>
<defs><filter id="gb" x="-30%" y="-120%" width="160%" height="340%"><feGaussianBlur stdDeviation="3.4"/></filter><filter id="gb2" x="-30%" y="-120%" width="160%" height="340%"><feGaussianBlur stdDeviation="2.2"/></filter><filter id="gb3" x="-100%" y="-100%" width="300%" height="300%"><feGaussianBlur stdDeviation="12"/></filter><clipPath id="cg"><rect x="963.2" y="1417.1" width="329.6" height="323.9"/></clipPath></defs>
<rect x="963.2" y="1417.1" width="329.6" height="323.9" fill="#262626" stroke="none" stroke-width="0" />
<g clip-path="url(#cg)">
<ellipse cx="1017" cy="1585" rx="30" ry="26" fill="#2a2a2a" filter="url(#gb3)"/>
<ellipse cx="1120" cy="1565" rx="32" ry="42" fill="#2b2b2b" filter="url(#gb3)"/>
<ellipse cx="1221" cy="1555" rx="36" ry="38" fill="#2c2c2c" filter="url(#gb3)"/>
<rect x="983" y="1556" width="69" height="26" rx="10" fill="#8a8a8a" filter="url(#gb)"/>
<rect x="987" y="1565" width="61" height="13" rx="6" fill="#d6d6d6" filter="url(#gb2)"/>
<rect x="1086" y="1520" width="68" height="24" rx="9" fill="#7c7c7c" filter="url(#gb)"/>
<rect x="1090" y="1526" width="60" height="11" rx="5" fill="#b4b4b4" filter="url(#gb2)"/>
<rect x="1086" y="1560" width="68" height="25" rx="9" fill="#868686" filter="url(#gb)"/>
<rect x="1090" y="1568" width="60" height="12" rx="6" fill="#cfcfcf" filter="url(#gb2)"/>
<rect x="1182" y="1518" width="80" height="36" rx="13" fill="#b8b8b8" filter="url(#gb)"/>
<rect x="1186" y="1525" width="72" height="25" rx="10" fill="#ffffff" filter="url(#gb2)"/>
<rect x="1190" y="1530" width="64" height="17" rx="8" fill="#ffffff"/>
</g>
<text transform="translate(1011.5 1401.7)" font-size="29.2" text-anchor="middle">KO</text>
<text transform="translate(1115.9 1401.7)" font-size="29.2" text-anchor="middle">F/W</text>
<text transform="translate(1230.4 1401.7)" font-size="29.2" text-anchor="middle">WT</text>
<text transform="translate(958.8 1535.8)" font-size="28.6" text-anchor="end">605bp -</text>
<text transform="translate(958.8 1578.7)" font-size="28.6" text-anchor="end">534bp -</text>
<text transform="translate(1331 1416.5)" font-size="46" text-anchor="start" font-weight="bold">k</text>
<text transform="translate(1386 1557.6) rotate(-90)" font-size="29.2" text-anchor="middle">Vimetin protein level</text>
<text transform="translate(1428 1561.6) rotate(-90)" font-size="29.2" text-anchor="middle">(fold change)</text>
<line x1="1499.5" y1="1455.1" x2="1499.5" y2="1656.4" stroke="#000" stroke-width="2" stroke-linecap="butt" />
<line x1="1491" y1="1655.5" x2="1699.7" y2="1655.5" stroke="#000" stroke-width="2" stroke-linecap="butt" />
<line x1="1491" y1="1456" x2="1499.5" y2="1456" stroke="#000" stroke-width="2" stroke-linecap="butt" />
<text transform="translate(1481 1466.45)" font-size="29.2" text-anchor="end">20</text>
<line x1="1491" y1="1505.8" x2="1499.5" y2="1505.8" stroke="#000" stroke-width="2" stroke-linecap="butt" />
<text transform="translate(1481 1516.25)" font-size="29.2" text-anchor="end">15</text>
<line x1="1491" y1="1556" x2="1499.5" y2="1556" stroke="#000" stroke-width="2" stroke-linecap="butt" />
<text transform="translate(1481 1566.45)" font-size="29.2" text-anchor="end">10</text>
<line x1="1491" y1="1605.7" x2="1499.5" y2="1605.7" stroke="#000" stroke-width="2" stroke-linecap="butt" />
<text transform="translate(1481 1616.15)" font-size="29.2" text-anchor="end">5</text>
<line x1="1491" y1="1655.5" x2="1499.5" y2="1655.5" stroke="#000" stroke-width="2" stroke-linecap="butt" />
<text transform="translate(1481 1665.95)" font-size="29.2" text-anchor="end">0</text>
<line x1="1522.9" y1="1655.5" x2="1522.9" y2="1664.7" stroke="#000" stroke-width="2" stroke-linecap="butt" />
<line x1="1574.2" y1="1655.5" x2="1574.2" y2="1664.7" stroke="#000" stroke-width="2" stroke-linecap="butt" />
<line x1="1625" y1="1655.5" x2="1625" y2="1664.7" stroke="#000" stroke-width="2" stroke-linecap="butt" />
<line x1="1675.2" y1="1655.5" x2="1675.2" y2="1664.7" stroke="#000" stroke-width="2" stroke-linecap="butt" />
<rect x="1506.8" y="1647.5" width="32.6" height="8" fill="#8C8C8C" stroke="#000" stroke-width="1.6" />
<rect x="1557.7" y="1549.4" width="32.9" height="106.1" fill="#E0BE6C" stroke="#000" stroke-width="1.6" />
<rect x="1608.9" y="1598.8" width="32.3" height="56.7" fill="#7CBCCB" stroke="#000" stroke-width="1.6" />
<rect x="1659.5" y="1550.5" width="32.2" height="105" fill="#A7D26E" stroke="#000" stroke-width="1.6" />
<line x1="1522.9" y1="1644.5" x2="1522.9" y2="1650" stroke="#666" stroke-width="1.5" stroke-linecap="butt" />
<line x1="1514.9" y1="1644.5" x2="1530.9" y2="1644.5" stroke="#666" stroke-width="1.5" stroke-linecap="butt" />
<line x1="1514.9" y1="1650" x2="1530.9" y2="1650" stroke="#666" stroke-width="1.5" stroke-linecap="butt" />
<line x1="1574.2" y1="1530" x2="1574.2" y2="1567.7" stroke="#666" stroke-width="1.5" stroke-linecap="butt" />
<line x1="1565.95" y1="1530" x2="1582.45" y2="1530" stroke="#666" stroke-width="1.5" stroke-linecap="butt" />
<line x1="1565.95" y1="1567.7" x2="1582.45" y2="1567.7" stroke="#666" stroke-width="1.5" stroke-linecap="butt" />
<line x1="1625" y1="1582.3" x2="1625" y2="1612.7" stroke="#222" stroke-width="1.5" stroke-linecap="butt" />
<line x1="1616.75" y1="1582.3" x2="1633.25" y2="1582.3" stroke="#222" stroke-width="1.5" stroke-linecap="butt" />
<line x1="1616.75" y1="1612.7" x2="1633.25" y2="1612.7" stroke="#222" stroke-width="1.5" stroke-linecap="butt" />
<line x1="1675.2" y1="1526" x2="1675.2" y2="1573.2" stroke="#666" stroke-width="1.5" stroke-linecap="butt" />
<line x1="1666.95" y1="1526" x2="1683.45" y2="1526" stroke="#666" stroke-width="1.5" stroke-linecap="butt" />
<line x1="1666.95" y1="1573.2" x2="1683.45" y2="1573.2" stroke="#666" stroke-width="1.5" stroke-linecap="butt" />
<circle cx="1510.47" cy="1648.94" r="3.95" fill="#fff" stroke="#000" stroke-width="1.7" />
<circle cx="1522.91" cy="1643.45" r="3.95" fill="#fff" stroke="#000" stroke-width="1.7" />
<circle cx="1536.09" cy="1648.2" r="3.95" fill="#fff" stroke="#000" stroke-width="1.7" />
<circle cx="1574.16" cy="1519.35" r="3.95" fill="#fff" stroke="#000" stroke-width="1.7" />
<circle cx="1574.16" cy="1542.78" r="3.95" fill="#fff" stroke="#000" stroke-width="1.7" />
<circle cx="1574.16" cy="1584.14" r="3.95" fill="#fff" stroke="#000" stroke-width="1.7" />
<circle cx="1625.04" cy="1574.26" r="3.95" fill="#fff" stroke="#000" stroke-width="1.7" />
<circle cx="1625.04" cy="1590.73" r="3.95" fill="#fff" stroke="#000" stroke-width="1.7" />
<circle cx="1625.04" cy="1625.51" r="3.95" fill="#fff" stroke="#000" stroke-width="1.7" />
<circle cx="1675.19" cy="1501.78" r="3.95" fill="#fff" stroke="#000" stroke-width="1.7" />
<circle cx="1675.19" cy="1573.16" r="3.95" fill="#fff" stroke="#000" stroke-width="1.7" />
<circle cx="1675.19" cy="1579.39" r="3.95" fill="#fff" stroke="#000" stroke-width="1.7" />
<text transform="translate(1516 1703.8)" font-size="29.2" text-anchor="middle">WT</text>
<text transform="translate(1574 1703.8)" font-size="29.2" text-anchor="middle">3W</text>
<text transform="translate(1633.8 1703.8)" font-size="29.2" text-anchor="middle">5W</text>
<text transform="translate(1687 1703.8)" font-size="29.2" text-anchor="middle">7W</text>
<line x1="1553.3" y1="1712.3" x2="1705.2" y2="1712.3" stroke="#333" stroke-width="1.4" stroke-linecap="butt" />
<text transform="translate(1634.6 1739.7)" font-size="29.2" text-anchor="middle">KO</text>
<text transform="translate(1601.6 1429.3)" font-size="25" text-anchor="middle" font-style="italic">p=0.016</text>
<line x1="1516" y1="1440.3" x2="1672.3" y2="1440.3" stroke="#333" stroke-width="1.4" stroke-linecap="butt" />
<text transform="translate(1569.8 1464.4)" font-size="25" text-anchor="middle" font-style="italic">p=0.035</text>
<line x1="1516" y1="1473.2" x2="1621.8" y2="1473.2" stroke="#333" stroke-width="1.4" stroke-linecap="butt" />
<text transform="translate(1557.7 1498.1)" font-size="25" text-anchor="middle" font-style="italic">p=0.007</text>
<line x1="1516" y1="1508.4" x2="1578.9" y2="1508.4" stroke="#333" stroke-width="1.4" stroke-linecap="butt" />
<text transform="translate(1772 1567.7) rotate(-90)" font-size="29.2" text-anchor="middle"><tspan font-family='"Liberation Serif", serif'>α</tspan>-SMA protein level</text>
<text transform="translate(1810 1560.7) rotate(-90)" font-size="29.2" text-anchor="middle">(fold change)</text>
<line x1="1861.9" y1="1448.5" x2="1861.9" y2="1650.9" stroke="#000" stroke-width="2" stroke-linecap="butt" />
<line x1="1853.4" y1="1650" x2="2062.1" y2="1650" stroke="#000" stroke-width="2" stroke-linecap="butt" />
<line x1="1853.4" y1="1449.4" x2="1861.9" y2="1449.4" stroke="#000" stroke-width="2" stroke-linecap="butt" />
<text transform="translate(1846.9 1459.85)" font-size="29.2" text-anchor="end">4</text>
<line x1="1853.4" y1="1499.6" x2="1861.9" y2="1499.6" stroke="#000" stroke-width="2" stroke-linecap="butt" />
<text transform="translate(1846.9 1510.05)" font-size="29.2" text-anchor="end">3</text>
<line x1="1853.4" y1="1549.7" x2="1861.9" y2="1549.7" stroke="#000" stroke-width="2" stroke-linecap="butt" />
<text transform="translate(1846.9 1560.15)" font-size="29.2" text-anchor="end">2</text>
<line x1="1853.4" y1="1599.9" x2="1861.9" y2="1599.9" stroke="#000" stroke-width="2" stroke-linecap="butt" />
<text transform="translate(1846.9 1610.35)" font-size="29.2" text-anchor="end">1</text>
<line x1="1853.4" y1="1650" x2="1861.9" y2="1650" stroke="#000" stroke-width="2" stroke-linecap="butt" />
<text transform="translate(1846.9 1660.45)" font-size="29.2" text-anchor="end">0</text>
<line x1="1885.7" y1="1650" x2="1885.7" y2="1659.2" stroke="#000" stroke-width="2" stroke-linecap="butt" />
<line x1="1936.9" y1="1650" x2="1936.9" y2="1659.2" stroke="#000" stroke-width="2" stroke-linecap="butt" />
<line x1="1987.8" y1="1650" x2="1987.8" y2="1659.2" stroke="#000" stroke-width="2" stroke-linecap="butt" />
<line x1="2038.3" y1="1650" x2="2038.3" y2="1659.2" stroke="#000" stroke-width="2" stroke-linecap="butt" />
<rect x="1869.9" y="1599.9" width="32.3" height="50.1" fill="#8C8C8C" stroke="#000" stroke-width="1.6" />
<rect x="1920.5" y="1529.2" width="32.9" height="120.8" fill="#E0BE6C" stroke="#000" stroke-width="1.6" />
<rect x="1971.3" y="1564" width="32.3" height="86" fill="#7CBCCB" stroke="#000" stroke-width="1.6" />
<rect x="2021.9" y="1540.2" width="32.9" height="109.8" fill="#A7D26E" stroke="#000" stroke-width="1.6" />
<line x1="1885.7" y1="1591.5" x2="1885.7" y2="1608.7" stroke="#666" stroke-width="1.5" stroke-linecap="butt" />
<line x1="1877.45" y1="1591.5" x2="1893.95" y2="1591.5" stroke="#666" stroke-width="1.5" stroke-linecap="butt" />
<line x1="1877.45" y1="1608.7" x2="1893.95" y2="1608.7" stroke="#666" stroke-width="1.5" stroke-linecap="butt" />
<line x1="1936.9" y1="1517.5" x2="1936.9" y2="1541" stroke="#666" stroke-width="1.5" stroke-linecap="butt" />
<line x1="1928.65" y1="1517.5" x2="1945.15" y2="1517.5" stroke="#666" stroke-width="1.5" stroke-linecap="butt" />
<line x1="1928.65" y1="1541" x2="1945.15" y2="1541" stroke="#666" stroke-width="1.5" stroke-linecap="butt" />
<line x1="1987.8" y1="1558.5" x2="1987.8" y2="1569.5" stroke="#222" stroke-width="1.5" stroke-linecap="butt" />
<line x1="1979.55" y1="1558.5" x2="1996.05" y2="1558.5" stroke="#222" stroke-width="1.5" stroke-linecap="butt" />
<line x1="1979.55" y1="1569.5" x2="1996.05" y2="1569.5" stroke="#222" stroke-width="1.5" stroke-linecap="butt" />
<line x1="2038.3" y1="1520.5" x2="2038.3" y2="1559.6" stroke="#666" stroke-width="1.5" stroke-linecap="butt" />
<line x1="2030.05" y1="1520.5" x2="2046.55" y2="1520.5" stroke="#666" stroke-width="1.5" stroke-linecap="butt" />
<line x1="2030.05" y1="1559.6" x2="2046.55" y2="1559.6" stroke="#666" stroke-width="1.5" stroke-linecap="butt" />
<circle cx="1877.99" cy="1591.1" r="3.95" fill="#fff" stroke="#000" stroke-width="1.7" />
<circle cx="1893.73" cy="1591.1" r="3.95" fill="#fff" stroke="#000" stroke-width="1.7" />
<circle cx="1885.68" cy="1618.19" r="3.95" fill="#fff" stroke="#000" stroke-width="1.7" />
<circle cx="1936.93" cy="1509.47" r="3.95" fill="#fff" stroke="#000" stroke-width="1.7" />
<circle cx="1936.93" cy="1528.14" r="3.95" fill="#fff" stroke="#000" stroke-width="1.7" />
<circle cx="1936.93" cy="1550.1" r="3.95" fill="#fff" stroke="#000" stroke-width="1.7" />
<circle cx="1979.75" cy="1556.69" r="3.95" fill="#fff" stroke="#000" stroke-width="1.7" />
<circle cx="1995.86" cy="1559.62" r="3.95" fill="#fff" stroke="#000" stroke-width="1.7" />
<circle cx="1987.81" cy="1574.99" r="3.95" fill="#fff" stroke="#000" stroke-width="1.7" />
<circle cx="2039.06" cy="1504.34" r="3.95" fill="#fff" stroke="#000" stroke-width="1.7" />
<circle cx="2039.06" cy="1544.24" r="3.95" fill="#fff" stroke="#000" stroke-width="1.7" />
<circle cx="2039.06" cy="1571.33" r="3.95" fill="#fff" stroke="#000" stroke-width="1.7" />
<text transform="translate(1885.7 1703.8)" font-size="29.2" text-anchor="middle">WT</text>
<text transform="translate(1945 1703.8)" font-size="29.2" text-anchor="middle">3W</text>
<text transform="translate(1999.2 1703.8)" font-size="29.2" text-anchor="middle">5W</text>
<text transform="translate(2052.2 1703.8)" font-size="29.2" text-anchor="middle">7W</text>
<line x1="1922" y1="1711.5" x2="2072.4" y2="1711.5" stroke="#333" stroke-width="1.4" stroke-linecap="butt" />
<text transform="translate(1993.3 1737.9)" font-size="29.2" text-anchor="middle">KO</text>
<text transform="translate(1964 1416.9)" font-size="25" text-anchor="middle" font-style="italic">p=0.048</text>
<line x1="1882" y1="1426.7" x2="2038.3" y2="1426.7" stroke="#333" stroke-width="1.4" stroke-linecap="butt" />
<text transform="translate(1937.7 1450.5)" font-size="25" text-anchor="middle" font-style="italic">p=0.027</text>
<line x1="1882" y1="1461.5" x2="1987.8" y2="1461.5" stroke="#333" stroke-width="1.4" stroke-linecap="butt" />
<text transform="translate(1919.4 1489)" font-size="25" text-anchor="middle" font-style="italic">p=0.009</text>
<line x1="1882" y1="1499.2" x2="1940.6" y2="1499.2" stroke="#333" stroke-width="1.4" stroke-linecap="butt" />
</svg>
</body></html>
